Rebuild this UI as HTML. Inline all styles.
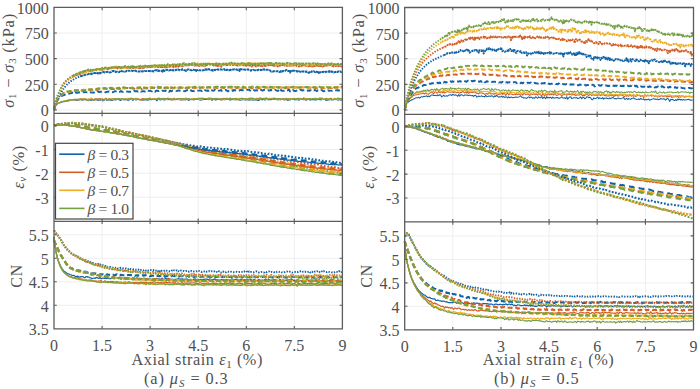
<!DOCTYPE html><html><head><meta charset="utf-8"><style>html,body{margin:0;padding:0;background:#fff}svg{display:block}</style></head><body><svg width="700" height="389" viewBox="0 0 700 389">
<rect width="700" height="389" fill="#fff"/>
<line x1="102.1" y1="7.4" x2="102.1" y2="113.4" stroke="#eeeeee" stroke-width="1"/>
<line x1="150.1" y1="7.4" x2="150.1" y2="113.4" stroke="#eeeeee" stroke-width="1"/>
<line x1="198.2" y1="7.4" x2="198.2" y2="113.4" stroke="#eeeeee" stroke-width="1"/>
<line x1="246.3" y1="7.4" x2="246.3" y2="113.4" stroke="#eeeeee" stroke-width="1"/>
<line x1="294.3" y1="7.4" x2="294.3" y2="113.4" stroke="#eeeeee" stroke-width="1"/>
<line x1="54.0" y1="109.9" x2="342.4" y2="109.9" stroke="#eeeeee" stroke-width="1"/>
<line x1="54.0" y1="84.3" x2="342.4" y2="84.3" stroke="#eeeeee" stroke-width="1"/>
<line x1="54.0" y1="58.6" x2="342.4" y2="58.6" stroke="#eeeeee" stroke-width="1"/>
<line x1="54.0" y1="33.0" x2="342.4" y2="33.0" stroke="#eeeeee" stroke-width="1"/>
<line x1="102.1" y1="113.4" x2="102.1" y2="221.3" stroke="#eeeeee" stroke-width="1"/>
<line x1="150.1" y1="113.4" x2="150.1" y2="221.3" stroke="#eeeeee" stroke-width="1"/>
<line x1="198.2" y1="113.4" x2="198.2" y2="221.3" stroke="#eeeeee" stroke-width="1"/>
<line x1="246.3" y1="113.4" x2="246.3" y2="221.3" stroke="#eeeeee" stroke-width="1"/>
<line x1="294.3" y1="113.4" x2="294.3" y2="221.3" stroke="#eeeeee" stroke-width="1"/>
<line x1="54.0" y1="125.4" x2="342.4" y2="125.4" stroke="#eeeeee" stroke-width="1"/>
<line x1="54.0" y1="149.4" x2="342.4" y2="149.4" stroke="#eeeeee" stroke-width="1"/>
<line x1="54.0" y1="173.3" x2="342.4" y2="173.3" stroke="#eeeeee" stroke-width="1"/>
<line x1="54.0" y1="197.3" x2="342.4" y2="197.3" stroke="#eeeeee" stroke-width="1"/>
<line x1="102.1" y1="221.3" x2="102.1" y2="328.8" stroke="#eeeeee" stroke-width="1"/>
<line x1="150.1" y1="221.3" x2="150.1" y2="328.8" stroke="#eeeeee" stroke-width="1"/>
<line x1="198.2" y1="221.3" x2="198.2" y2="328.8" stroke="#eeeeee" stroke-width="1"/>
<line x1="246.3" y1="221.3" x2="246.3" y2="328.8" stroke="#eeeeee" stroke-width="1"/>
<line x1="294.3" y1="221.3" x2="294.3" y2="328.8" stroke="#eeeeee" stroke-width="1"/>
<line x1="54.0" y1="305.3" x2="342.4" y2="305.3" stroke="#eeeeee" stroke-width="1"/>
<line x1="54.0" y1="281.8" x2="342.4" y2="281.8" stroke="#eeeeee" stroke-width="1"/>
<line x1="54.0" y1="258.3" x2="342.4" y2="258.3" stroke="#eeeeee" stroke-width="1"/>
<line x1="54.0" y1="234.8" x2="342.4" y2="234.8" stroke="#eeeeee" stroke-width="1"/>
<line x1="452.8" y1="7.5" x2="452.8" y2="114.3" stroke="#eeeeee" stroke-width="1"/>
<line x1="501.0" y1="7.5" x2="501.0" y2="114.3" stroke="#eeeeee" stroke-width="1"/>
<line x1="549.1" y1="7.5" x2="549.1" y2="114.3" stroke="#eeeeee" stroke-width="1"/>
<line x1="597.2" y1="7.5" x2="597.2" y2="114.3" stroke="#eeeeee" stroke-width="1"/>
<line x1="645.4" y1="7.5" x2="645.4" y2="114.3" stroke="#eeeeee" stroke-width="1"/>
<line x1="404.7" y1="110.0" x2="693.5" y2="110.0" stroke="#eeeeee" stroke-width="1"/>
<line x1="404.7" y1="84.4" x2="693.5" y2="84.4" stroke="#eeeeee" stroke-width="1"/>
<line x1="404.7" y1="58.7" x2="693.5" y2="58.7" stroke="#eeeeee" stroke-width="1"/>
<line x1="404.7" y1="33.1" x2="693.5" y2="33.1" stroke="#eeeeee" stroke-width="1"/>
<line x1="452.8" y1="114.3" x2="452.8" y2="221.9" stroke="#eeeeee" stroke-width="1"/>
<line x1="501.0" y1="114.3" x2="501.0" y2="221.9" stroke="#eeeeee" stroke-width="1"/>
<line x1="549.1" y1="114.3" x2="549.1" y2="221.9" stroke="#eeeeee" stroke-width="1"/>
<line x1="597.2" y1="114.3" x2="597.2" y2="221.9" stroke="#eeeeee" stroke-width="1"/>
<line x1="645.4" y1="114.3" x2="645.4" y2="221.9" stroke="#eeeeee" stroke-width="1"/>
<line x1="404.7" y1="126.3" x2="693.5" y2="126.3" stroke="#eeeeee" stroke-width="1"/>
<line x1="404.7" y1="150.2" x2="693.5" y2="150.2" stroke="#eeeeee" stroke-width="1"/>
<line x1="404.7" y1="174.1" x2="693.5" y2="174.1" stroke="#eeeeee" stroke-width="1"/>
<line x1="404.7" y1="198.0" x2="693.5" y2="198.0" stroke="#eeeeee" stroke-width="1"/>
<line x1="452.8" y1="221.9" x2="452.8" y2="329.8" stroke="#eeeeee" stroke-width="1"/>
<line x1="501.0" y1="221.9" x2="501.0" y2="329.8" stroke="#eeeeee" stroke-width="1"/>
<line x1="549.1" y1="221.9" x2="549.1" y2="329.8" stroke="#eeeeee" stroke-width="1"/>
<line x1="597.2" y1="221.9" x2="597.2" y2="329.8" stroke="#eeeeee" stroke-width="1"/>
<line x1="645.4" y1="221.9" x2="645.4" y2="329.8" stroke="#eeeeee" stroke-width="1"/>
<line x1="404.7" y1="306.3" x2="693.5" y2="306.3" stroke="#eeeeee" stroke-width="1"/>
<line x1="404.7" y1="282.9" x2="693.5" y2="282.9" stroke="#eeeeee" stroke-width="1"/>
<line x1="404.7" y1="259.4" x2="693.5" y2="259.4" stroke="#eeeeee" stroke-width="1"/>
<line x1="404.7" y1="235.9" x2="693.5" y2="235.9" stroke="#eeeeee" stroke-width="1"/>
<g fill="none" stroke-linejoin="round">
<path d="M54.0 109.9l1-3.5 1-1.4 1-.8 1-.6 1-.5 1-.3 1-.2 1-.6 1-.3 1 0 1-.2 1-.3 1-.4 1 .1 1 0 1-.7 1 .2 1-.6 1 .1 1-.3 1 .6 1-.5 1 .7 1-.1 1-.2 1-1.2 1 1 1 .2 1 .1 1-.8 1 .5 1-.3 1 .1 1 .9 1-1 1 .4 1 .5 1-.8 1 .2 1 .1 1 0 1-.7 1 .7 1 .6 1-1.4 1 1.1 1-.3 1-.4 1 1.3 1-.6 1-1 1 .6 1 .3 1-.4 1 .4 1-.4 1 .4 1 .4 1-1.1 1 .4 1-.3 1 .3 1-.7 1 .3 1 .2 1 .5 1 .2 1-1.3 1 .3 1 .7 1-1.3 1 .7 1 .2 1 .7 1-.3 1-.5 1 0 1 0 1 .9 1-1 1 .1 1 .3 1-.2 1-.1 1-.4 1 .5 1-.2 1 .8 1-.3 1-.3 1 .3 1-.5 1 .7 1-.5 1 .3 1-1 1 .9 1-1.1 1-.1 1 .8 1-.3 1 .6 1 1 1-1.5 1 .1 1 .4 1 .1 1-.3 1 0 1 .4 1-.1 1-.8 1 .5 1 .1 1-.6 1 .7 1-.6 1 .9 1-.4 1 0 1-.4 1 .3 1-1 1 .5 1 .7 1-1.2 1 1.5 1-1.3 1 1.2 1-.8 1 .8 1-.3 1-.8 1 1.4 1 .1 1-.8 1-.1 1 .1 1-.4 1 1 1-.8 1 .2 1-.4 1 .1 1-.3 1 1.3 1-.7 1 .5 1-.5 1-.3 1 .2 1-.1 1 .2 1-.1 1 0 1-.5 1 .2 1 1.3 1-1.2 1-.2 1 .7 1 .5 1-1.4 1 .6 1-.2 1-.5 1 1.2 1-.4 1 .1 1-.4 1 .6 1-.5 1 .2 1-.5 1-.1 1 1.3 1-.9 1 .4 1-.2 1-.2 1 0 1 .6 1-.5 1 .1 1 .1 1 .5 1-.2 1-.2 1-.4 1-.4 1 1.1 1 0 1-.5 1 .3 1 .1 1 .1 1 0 1-.7 1 1 1-1.4 1 1.1 1-.2 1 .2 1 .5 1-.2 1-1.3 1-.3 1 1.2 1-.9 1 .5 1 .5 1-1.3 1-.2 1 1.2 1-.1 1-.2 1 .2 1-.5 1-.3 1 .7 1-.4 1-.4 1 1.1 1-.3 1 .2 1-.7 1 .2 1-.2 1 .1 1 .5 1-.5 1 .6 1 0 1 .9 1-1.8 1 1.2 1-.5 1 0 1-.7 1 .5 1 .6 1-.4 1 .1 1-.2 1 .7 1-.6 1-1.1 1 .8 1-.6 1-.7 1 1.4 1 .9 1-.6 1-.6 1 .1 1 1 1-.5 1 0 1-.1 1 .1 1 .3 1-.1 1-.2 1-.6 1 .8 1-.6 1 .9 1-1.2 1 .6 1 0 1-.6 1 1.5 1-.1 1-1 1 .6 1-.2 1-1.5 1 1.5 1-.2 1 .1 1-.6 1 .4 1 .1 1 .6 1-.4 1-.2 1 .8 1-1" stroke="#1063a6" stroke-width="1.05"/>
<path d="M54.0 109.9l1-3.8 1-1.2 1-.9 1-.6 1-.5 1-.5 1-.4 1-.4 1-.3 1-.2 1 .1 1-.4 1-.4 1-.3 1-.2 1 .5 1-.4 1-.2 1-.2 1-.4 1 .4 1 .4 1-.6 1 0 1 0 1 .1 1-.8 1 .6 1-.3 1 .8 1-.8 1 .7 1 .4 1-.9 1-.2 1 .4 1-.1 1-.5 1 .7 1 .8 1-1.2 1 0 1-.4 1 .7 1-.8 1 0 1 1.2 1-1.1 1 1 1 .2 1-.6 1 .1 1 .7 1-1.1 1-.2 1-.3 1 .6 1 .8 1-.3 1-1 1 .1 1 .2 1 .4 1-.3 1 .2 1 .1 1-.4 1 .2 1 .1 1-.1 1 .2 1 .7 1-.6 1-.3 1-.9 1 1.1 1-1.2 1 .3 1 1.1 1-.1 1-.4 1-.8 1 .7 1-.2 1 .7 1 .8 1-1 1-.5 1-.2 1 .5 1 0 1-.5 1 .6 1-.6 1 1.1 1 0 1 0 1-.8 1 .5 1-.3 1-.2 1 .1 1-.5 1-.1 1 1.1 1-.5 1 .2 1 .4 1-1.3 1 .4 1 .5 1 .1 1-.4 1 .7 1-.4 1-.7 1 .2 1 .8 1-.1 1-1.2 1 1.6 1-.4 1 .4 1-.9 1 .1 1-.4 1 1.8 1-1.4 1 .9 1-1.1 1 .4 1-.9 1 .6 1 .7 1-1.1 1 1.2 1-.4 1-.7 1 .3 1 0 1 .2 1-.2 1-.2 1 .3 1-.4 1-.1 1 .6 1 .5 1-1.2 1 .7 1-.3 1-.2 1 1 1-.7 1 1 1-1.2 1 .6 1-.3 1-.3 1 .7 1-.4 1 .4 1-.3 1-.5 1 .5 1 .1 1 .4 1-.9 1 .4 1-.8 1 1.2 1-.9 1-.4 1 .9 1 .6 1-1.3 1 .2 1 .2 1-.2 1 .7 1-.6 1 .1 1 .6 1-.6 1 .5 1-.7 1-.1 1-.3 1 1.9 1-1.1 1 .3 1-.2 1 .1 1 0 1 .9 1-1.5 1-.2 1 .2 1-.1 1 1 1 0 1-.8 1-.3 1 .6 1 .8 1-2.1 1 1.7 1-.8 1 1.1 1-1.1 1 .4 1-.6 1 .3 1 1.1 1-.2 1-.7 1-.2 1-.5 1 .7 1 .2 1 0 1 0 1-.5 1 .5 1 0 1 .7 1 .3 1-1 1-.3 1 .3 1-.3 1 0 1 .3 1-.5 1 .9 1-.4 1 .2 1-.2 1-.3 1-.1 1 .3 1-.1 1 .4 1-.1 1-.7 1 .7 1-.7 1 .4 1 .1 1-.9 1 1.1 1 0 1-.1 1-.1 1 0 1-.3 1 .3 1-.1 1 .3 1-.6 1 .7 1 0 1-.2 1-.1 1 .5 1-1.1 1 1 1-.1 1 0 1 .1 1-.5 1 .2 1 .4 1-.1 1-.1 1-.9 1 1.1 1 .3 1-.1 1-.4 1-.9 1 1.3 1-.6 1-1.1 1 1.4 1-.9 1 .1 1 .3" stroke="#d35e28" stroke-width="1.05"/>
<path d="M54.0 109.9l1-3.8 1-1.3 1-.7 1-.6 1-.7 1-.5 1-.5 1-.3 1-.1 1-.2 1-.3 1 0 1-.7 1 0 1 .1 1-.2 1 .1 1-.3 1-.3 1 .2 1-.6 1-.3 1 .9 1-.3 1 .2 1-1.1 1 .7 1-.2 1-.1 1-.7 1 .9 1 .6 1-.3 1-.5 1 .3 1 .4 1-1.8 1 1.3 1 .3 1 .1 1 .5 1-.3 1-.4 1 0 1 .2 1-.7 1 .3 1 .4 1 .5 1-1 1 0 1 .1 1 .6 1-.7 1 .8 1-1.3 1 .4 1 0 1 .5 1 .1 1-1.2 1 .3 1 .6 1-.5 1-.5 1 1.3 1-.3 1 0 1-.4 1 .7 1-.6 1 .6 1-1 1 .1 1 .5 1-.5 1 .7 1-.2 1-.6 1 .5 1-.2 1 .6 1-.8 1 .1 1 .9 1 .5 1-.1 1-1 1 .1 1 .6 1-.8 1-.4 1 .5 1 .2 1-.7 1-.4 1 .1 1 1.1 1-.7 1 .3 1 .1 1 .2 1-.4 1 .4 1-.7 1 .3 1-.4 1 1.1 1-.6 1-.3 1 .2 1 0 1 .5 1-1.2 1 .3 1 .3 1 1.5 1-.8 1-.5 1 .4 1 .7 1-1.2 1-.1 1 .8 1-.3 1 .1 1-.6 1 1.2 1-.1 1-.6 1 .1 1-1.4 1 1.3 1-.4 1 .3 1 .2 1-.5 1-.7 1 1 1-.5 1 .2 1-.2 1 .2 1-1 1 1.7 1-.4 1 .4 1 .4 1-1 1-.9 1 .5 1-.2 1 .4 1 .3 1-1.1 1 1.2 1-.9 1 .9 1-.2 1-.1 1 .1 1-.2 1-.1 1-.5 1 .8 1 .9 1 .1 1-.3 1-.3 1-.7 1 1 1-.7 1 0 1-.1 1 .2 1-.3 1 .2 1-.5 1 .3 1 1.4 1-1.2 1-.1 1 .4 1 .1 1-.9 1 .4 1 .6 1-.3 1-.1 1 .7 1-1.1 1 .4 1-.3 1 1 1-1.8 1 .7 1 .1 1 .6 1-.1 1 .4 1-1.5 1 1.2 1-.5 1-.2 1 .6 1-.7 1-.6 1 .8 1-.5 1 .4 1 .5 1 0 1 .6 1-.9 1-.6 1 .3 1 0 1-.2 1 .8 1-.5 1-.7 1 1.4 1-.4 1 .2 1-.1 1 .2 1-.3 1 .6 1-.4 1 0 1 0 1-.9 1 .6 1 0 1 .2 1-.8 1 1.5 1-.7 1-.7 1-.2 1 .7 1 .1 1-.3 1 .4 1-.4 1 .6 1-.6 1 .3 1 .5 1 .8 1-1.8 1 .3 1-.2 1 .8 1-.9 1 .3 1 .2 1-.5 1 0 1 .3 1-.8 1 .3 1 .5 1 .3 1-.2 1-.8 1 .7 1 .6 1-.1 1-.3 1-.4 1 .7 1-.6 1-.3 1 .2 1 1.1 1-.6 1 .5 1-.8 1 .7 1-.8 1 .2 1 1.4 1-.9 1-.6 1 .2 1 .2 1 .4" stroke="#edae26" stroke-width="1.05"/>
<path d="M54.0 109.9l1-3.8 1-1.3 1-.8 1-.6 1-.5 1-.5 1-.3 1-.7 1 .1 1 0 1-.5 1-.3 1-.3 1 .3 1-.9 1 .1 1 .1 1 0 1-.5 1 .3 1-.3 1 .1 1-.1 1-.5 1 .5 1 .4 1-.9 1 .3 1 .4 1-.8 1 .6 1-.7 1 1.1 1 .6 1-.2 1-1.1 1 .5 1-.4 1 0 1 .7 1-1.4 1 1.2 1-.6 1 .7 1-.6 1-.4 1 .4 1 .2 1-.3 1 .2 1-.5 1-.8 1 1.5 1-.1 1-.3 1 0 1 .4 1-.7 1-.1 1 .2 1 .7 1-1.3 1 1.3 1-.9 1-.3 1 1.2 1-.7 1-.6 1 .5 1 .6 1 .2 1-.9 1 .5 1 .1 1-.7 1 .5 1-.2 1-.2 1 0 1 .3 1-.1 1-.3 1 .1 1 .8 1-.5 1 .3 1 .2 1-.3 1 .8 1-1.5 1 .8 1-.6 1 1.1 1-.1 1-1.8 1 .5 1 .8 1 .1 1-.1 1-.4 1 .3 1 .1 1-.4 1 .6 1-1.7 1 1.5 1-.9 1 1 1-.6 1-.3 1 .6 1-.6 1 0 1-.4 1 .8 1 .3 1 .2 1-.5 1 .6 1-.6 1 0 1 .3 1 .3 1-.7 1 0 1 0 1 .2 1-.5 1 .9 1-.7 1 .5 1-.7 1 .6 1 0 1-.4 1 1.2 1-.8 1 .7 1-.4 1-.8 1 .1 1 .4 1-.1 1-.1 1-.1 1-.8 1 .8 1-1 1 1.3 1-.5 1 0 1 .2 1 .3 1-.9 1-.2 1 .4 1-.5 1 .5 1 1.3 1-1.3 1 .8 1-1 1 .9 1-.3 1 .1 1 .3 1 .6 1-.8 1 0 1-.6 1 .8 1-.4 1 .5 1-.4 1 .9 1-1.9 1 .9 1 .6 1-.7 1-.2 1 .3 1-.6 1 .8 1 1.1 1-.6 1-1.1 1 .1 1 .2 1 .7 1-.9 1 .1 1 .8 1 0 1-.7 1-.3 1-.3 1 .5 1-.8 1 1.5 1-.7 1 .6 1 .7 1-.4 1-1.2 1 1.1 1 .1 1-1 1-.1 1 .5 1-.8 1 1.6 1-2 1 .7 1 .4 1 0 1 .2 1 .1 1-.3 1 .7 1-1.6 1 1 1-.3 1 .4 1 0 1-.5 1 .1 1 .7 1-.2 1-.5 1 1.3 1 .2 1-1.9 1 .9 1 1.1 1-.9 1-.3 1-.2 1-.1 1 .1 1-.2 1 .7 1-.6 1 0 1-.4 1 .6 1-.4 1 .3 1 .6 1-.3 1 .1 1-.1 1-.1 1-.1 1-.1 1 .5 1-.9 1 1.2 1-.7 1-.4 1 .2 1-.1 1 .4 1-.4 1 .9 1-1 1-.7 1 .8 1-.7 1 1 1 .6 1-.3 1-.9 1 .2 1 1.3 1-.7 1-.2 1 .6 1 .6 1-.5 1-.6 1 .1 1 .1 1-.6 1-.2 1 .5 1-.5 1 .5 1 .1" stroke="#74a043" stroke-width="1.05"/>
<path d="M54.0 109.9l1-3.5 1-2.9 1-2.4 1-1.6 1-1.2 1-1 1-.7 1-.8 1-.5 1-.3 1-.4 1-.5 1-.1 1-.2 1-.1 1-.4 1-.1 1-.6 1 .1 1 .7 1-1.2 1 .5 1 .1 1-.3 1-.2 1 .2 1 0 1-.1 1-.6 1 .5 1-.2 1 0 1 .3 1 .1 1 .1 1-.6 1 .5 1 .1 1-.1 1 .1 1-.6 1 0 1 .3 1-.8 1 .6 1-.3 1 0 1-.5 1 .3 1 .3 1 .3 1 0 1-.4 1 0 1-.3 1 .4 1-.2 1 .3 1 .3 1-.6 1-.5 1 .2 1-.3 1 .1 1 .9 1-.4 1-.7 1 .8 1 .1 1-.5 1-.2 1 .1 1 .2 1 .1 1 .2 1 0 1 0 1 0 1-.3 1-.8 1 .5 1 .1 1-.2 1 .4 1-.4 1-.3 1 .9 1-.3 1-.2 1 .2 1 .1 1-.3 1-1 1 .6 1 .1 1-.2 1 .4 1 .3 1-.6 1-.2 1 1.1 1-.9 1-.3 1 .5 1 .1 1-.4 1 .5 1-.5 1-.1 1 .3 1 .2 1-.5 1 .4 1-.2 1 1 1-1.2 1 .7 1-.5 1 0 1 .2 1 .1 1 .1 1-.3 1-.4 1 .1 1 .3 1 0 1 .3 1-.3 1 .2 1 .1 1-.5 1-.5 1 .1 1-.1 1 1 1-.9 1 .8 1-.3 1 .4 1-.2 1-.4 1-.1 1 .1 1 0 1-.2 1 .2 1 .5 1-1.1 1 .6 1-.4 1 .4 1 .2 1-.3 1 .3 1-.8 1 .9 1-.6 1 .4 1-.1 1-1 1 .6 1 .4 1 .4 1-.4 1 0 1-.6 1 1 1 .1 1-.6 1-.1 1-.5 1 .8 1 .7 1-.7 1 .2 1-.3 1-.5 1 .8 1-.9 1 .3 1 .2 1 .2 1-.1 1-.1 1-.4 1-.1 1 .4 1-.2 1-.2 1 0 1 .2 1-.4 1 .1 1-.1 1 .7 1 .1 1 .5 1-1.2 1 .3 1 .5 1-.4 1 0 1 .7 1-.7 1-.3 1-.1 1 .6 1 0 1-.6 1 .2 1 .5 1 0 1-.4 1 .4 1 0 1-.8 1 .5 1 .3 1-.4 1-.5 1 .6 1 .4 1 .3 1-1.4 1 1.7 1-1.3 1 .8 1 .1 1-.1 1-.3 1-.5 1 .6 1-.4 1-.7 1 1.9 1-.7 1 .4 1-1 1 .8 1 .1 1 0 1-.6 1-.4 1 .4 1-.7 1 .2 1 .6 1-.4 1 .3 1 0 1 .7 1-.2 1-.5 1 .5 1-.7 1 .2 1 .4 1-.8 1 .4 1-.4 1 .5 1 .6 1-.9 1 .4 1-.4 1-.1 1 0 1 .9 1 .3 1-.6 1-.4 1 .5 1-.4 1 .4 1-.2 1 0 1 .2 1-.4 1 0 1-.4 1 .4 1-.3 1 .4 1-.2 1 .3 1 .2 1-.7" stroke="#1063a6" stroke-width="1.9" stroke-dasharray="5 2.8"/>
<path d="M54.0 109.9l1-3.6 1-3.1 1-2.5 1-1.9 1-1.3 1-.9 1-1.1 1-.6 1-1 1-1 1 .3 1-.5 1-.8 1 0 1-.3 1-.2 1-.5 1 0 1 .2 1-.2 1 .2 1-.4 1 .6 1-1 1 .2 1-.8 1 .2 1 .8 1-.8 1 .4 1-.2 1-.4 1 .2 1-.1 1-.1 1 .4 1-.1 1-.5 1-.2 1 .3 1-.2 1 .4 1 .5 1-.7 1-.4 1-.1 1-.3 1-.1 1-.1 1 .2 1-.1 1 .3 1-.4 1 0 1-.4 1 1 1-.4 1 .4 1-.4 1 .2 1-.6 1 .3 1 .7 1-1.4 1 .8 1 .2 1-.5 1 .1 1 .2 1-.7 1 .4 1-.5 1 0 1 0 1 .2 1 .1 1 .1 1-.7 1 1.2 1-.3 1-.2 1-.4 1 .1 1 .2 1 0 1-.8 1 .9 1 .8 1-1.8 1 1.1 1-.3 1-.2 1 .6 1-1 1 .5 1 .5 1-.6 1-.1 1 .2 1-.2 1 .7 1-.9 1 .6 1-.8 1 .7 1-.3 1-.9 1 1 1-.4 1 .2 1 .7 1-1 1 .1 1 .8 1-.4 1 .5 1-.5 1-.4 1 .3 1 .4 1-.1 1-.3 1 0 1-.1 1-.1 1 .8 1-.6 1-.5 1 .3 1 .4 1 0 1-.3 1-.2 1 .2 1-.6 1 .1 1 .8 1-.5 1 .3 1 .3 1-.2 1-.2 1 .7 1-.5 1-.4 1 .4 1-.1 1-.5 1 .4 1-.1 1-.7 1 .7 1-.1 1 0 1-.5 1 .5 1 .1 1 0 1-.4 1 .6 1-.6 1 .3 1 .6 1-.8 1 .1 1 .6 1-.6 1 .1 1 .1 1 .3 1-1.1 1 .5 1-.1 1 0 1 0 1 .1 1 .4 1-.5 1 .4 1 .1 1-.4 1 .3 1 .5 1-.4 1-.4 1 .2 1-.3 1 .4 1 .2 1-.6 1 .3 1 .4 1-.5 1 .2 1-.4 1 0 1 .2 1 .9 1-.9 1 0 1-.1 1 .2 1 .3 1-.2 1 .7 1-.7 1 .5 1-.5 1 .2 1-.8 1 .5 1 0 1 0 1-.7 1 1.1 1-.5 1 0 1 .1 1 0 1 .2 1-.6 1 .1 1 .5 1-.1 1-.2 1 0 1-.1 1 .3 1 .4 1-.8 1 .9 1-.2 1-.5 1 .5 1-.8 1-.1 1 .1 1 .4 1 0 1-.1 1 .2 1-.7 1 .9 1-.7 1 .3 1 .1 1-.3 1 0 1 .1 1 .3 1 .3 1-.1 1-.5 1 .1 1-.1 1 .5 1-.8 1 1.1 1-.6 1-.1 1 .4 1 .3 1-.3 1 .3 1-.3 1 .3 1 .1 1-.5 1 .5 1-.4 1 0 1-.4 1 .2 1 .4 1-.7 1 .7 1-.1 1 0 1-.9 1 .8 1 .2 1-.5 1 .3 1-.8 1 1.1 1-.5 1 .5 1-.9" stroke="#d35e28" stroke-width="1.9" stroke-dasharray="5 2.8"/>
<path d="M54.0 109.9l1-3.6 1-3.1 1-2.6 1-1.8 1-1.1 1-1.2 1-1 1-.9 1-.9 1-.5 1-.4 1-.7 1-.5 1 .3 1-.3 1-.2 1-.1 1-.7 1 .1 1-.5 1-.1 1 .7 1-.6 1 .9 1-.8 1-.4 1 .5 1 .3 1-.5 1-.7 1 .5 1 .3 1-.7 1-.1 1 .5 1-.4 1-.5 1 .2 1-.2 1 .3 1-.1 1 .3 1-.3 1-.8 1 .6 1 .1 1-.2 1 .1 1-.6 1-.2 1 .6 1-.8 1-.4 1 1.1 1-.7 1 .1 1-.4 1 0 1 0 1 .3 1 .2 1-.9 1 1 1-.7 1 0 1 .6 1-.3 1-.5 1 1.2 1-1 1 .4 1 0 1 .4 1-.7 1 .5 1-.6 1 .6 1-.7 1 .2 1 .7 1-.5 1-.1 1 .7 1-.6 1-.5 1 .6 1-.7 1 .8 1 0 1-.6 1 0 1 .2 1 0 1-.4 1 .5 1-.9 1 .6 1 0 1 0 1 .2 1-.5 1 .6 1-.3 1-.1 1-.3 1 .1 1 .5 1-.5 1 .4 1 .3 1 0 1 .2 1-.7 1-.3 1 .8 1-.3 1 .3 1-.4 1 .4 1-.1 1-.1 1-.1 1 0 1-.1 1 0 1 .3 1-.5 1 .7 1-.6 1 .4 1-.4 1-.1 1 .8 1-.8 1-.4 1 .2 1 .2 1 .8 1-.7 1 .3 1-.7 1 .5 1 .1 1 .4 1-.9 1 .5 1-.2 1-.4 1 .3 1-.1 1-.7 1 1 1 0 1-.3 1-.4 1 1 1-.4 1 .3 1 .1 1-.7 1 .5 1-.4 1 .1 1-.1 1 .1 1 .4 1-.4 1-.1 1 0 1 .2 1-.5 1 .2 1 .1 1-.1 1 .1 1-.2 1 .9 1-.2 1-.3 1-.2 1 .8 1-.7 1-.1 1 .1 1 0 1 .4 1-.5 1 .8 1-1.1 1 .6 1-.6 1 1 1-.8 1 .1 1 .4 1 .1 1-.9 1 .3 1-.4 1 .6 1-.1 1-.1 1-.1 1 .1 1-.1 1 .4 1 .4 1-1.2 1 .6 1-.1 1 .3 1-.5 1 .3 1-.3 1 .6 1-.2 1-.1 1 .2 1-.2 1-.5 1 .8 1-.2 1-.1 1 .4 1 .1 1-.8 1 .1 1 .8 1-.1 1-.7 1-.2 1 .2 1 .1 1-.4 1 .6 1-.5 1 0 1 .8 1-.6 1 .2 1 .3 1 .1 1-.4 1 .1 1-.3 1 .9 1-.4 1-.6 1 .4 1 .2 1 0 1 .4 1-.1 1-.7 1 .2 1-.4 1 .5 1 0 1 .9 1-.9 1-.8 1 .5 1 .3 1-.5 1 .1 1 .2 1 .3 1-.2 1-.3 1 .6 1-.4 1 0 1-.3 1 .2 1 .5 1-.8 1 .6 1 .2 1-.3 1 .2 1-.5 1 .9 1-.1 1-.3 1-.7 1 .3 1 .7 1 .2" stroke="#edae26" stroke-width="1.9" stroke-dasharray="5 2.8"/>
<path d="M54.0 109.9l1-3.6 1-3.2 1-2.5 1-1.8 1-1.2 1-1.2 1-.7 1-.9 1-1.1 1-.8 1-.3 1-.5 1-.6 1 .3 1-.4 1-.3 1 .4 1-.6 1-.4 1 .2 1-.5 1 0 1 .3 1-.4 1 0 1 .7 1-.4 1-.1 1-.1 1-.1 1 .3 1-.6 1 .6 1-1 1 .2 1-.5 1 .3 1 .2 1 .3 1-.9 1 .2 1-.2 1-.2 1-.3 1 .4 1-.8 1 .6 1-.1 1-.3 1-.2 1-.2 1 1.1 1-1.2 1 .9 1-.3 1-.4 1-.3 1 .7 1 .2 1-.9 1 .2 1 .4 1-.2 1 .5 1-.9 1 .4 1-.6 1 1.1 1-1 1-.5 1 .7 1 0 1 .7 1-.8 1 .1 1 .2 1 .3 1-.6 1 .4 1-.2 1-.3 1 .2 1-.1 1-.3 1 .7 1-.9 1 .9 1-.1 1-.3 1-.3 1 .2 1 .2 1 .1 1-.1 1 .2 1-.6 1 .3 1-.6 1 .8 1-.2 1-.2 1 .5 1-.2 1-1.2 1 1 1-.5 1 .8 1 .5 1-1 1 .2 1-.1 1 .2 1 .1 1 .2 1-.8 1 .9 1-.9 1 .4 1 .3 1-.2 1-.5 1 0 1 .1 1 .1 1 .5 1-.9 1 .6 1 .1 1-.1 1 0 1 .4 1-.4 1 .1 1-.1 1 .4 1-1.3 1 1.1 1-.5 1 0 1-.3 1-.3 1 .5 1-.1 1 .4 1-.7 1 1 1-.4 1-.1 1-.2 1 0 1-.2 1 .2 1 .2 1-.1 1-.4 1 .4 1-.2 1 .4 1 .5 1-.4 1-.3 1-.5 1 .1 1-.1 1 .8 1-.5 1 .3 1-.3 1 .3 1 .4 1-.7 1 .1 1-.1 1 .6 1-.7 1-.1 1 0 1-.1 1 .7 1 .7 1-1.2 1 .7 1-.3 1-.5 1 .3 1 0 1-.1 1 .9 1-1.3 1 .8 1-.1 1-.3 1 .3 1 .2 1-.2 1 .1 1 .1 1-1 1 1.2 1 .3 1-.4 1 0 1-.9 1 .5 1-.3 1 .1 1 .6 1-.7 1 .3 1-.6 1 .6 1 .1 1-.3 1 0 1 .9 1-1.1 1 .1 1 .1 1 .7 1 .3 1-.6 1-.4 1 .1 1 .5 1-.7 1 .9 1-.1 1-.4 1 .2 1 0 1 .3 1-.9 1 .8 1-.6 1-.1 1 .3 1-.1 1-.3 1-.2 1 .2 1 .9 1 .2 1-.5 1 .2 1-.6 1 .2 1 .1 1-.5 1 0 1 .4 1-.1 1-.3 1 .5 1-.2 1 .5 1-.4 1-.1 1 .2 1-.1 1-.2 1 .1 1 .4 1 0 1 .2 1-1.1 1 .5 1 0 1 .2 1-.2 1 0 1 .4 1-.2 1-.4 1 .8 1-.1 1-.5 1 .5 1-.6 1 .7 1-.5 1-.2 1 .2 1-.2 1 .4 1 0 1-.1 1-.2 1-1.1" stroke="#74a043" stroke-width="1.9" stroke-dasharray="5 2.8"/>
<path d="M54.0 109.9l1-4.2 1-3.5 1-2.3 1-1.7 1-1.6 1-1.7 1-1.9 1-1.8 1-1.6 1-1.5 1-1.2 1-1.2 1-1.1 1-1 1-.9 1-.8 1-.8 1-.7 1-.6 1-.6 1-.6 1-.5 1-.5 1-.4 1-.4 1-.4" stroke="#1063a6" stroke-width="1.9" stroke-dasharray="1.4 1.4"/>
<path d="M80.0 76.4l.7-.2 .7-.2 .7-.2 .7-.2 .7 0 .7-.4 .7-.4 .7 .1 .7-.1 .7-.3 .7-.1 .7-.2 .7-.3 .7 .1 .7-.3 .7 .5 .7-.7 .7 .3 .7-.5 .7-.2 .7-.2 .7 .3 .7-.3 .7-.3 .7 .9 .7-.3 .7 .3 .7-.7 .7 .6 .7-.8 .7-.3 .7-.1 .7-.1 .7-.3 .7 .7 .7-.2 .7-.2 .7-.1 .7 0 .7-.3 .7 .3 .7 .5 .7-.1 .7 0 .7-.8 .7-.5 .7 .2 .7-.6 .7 .5 .7 .1 .7 .7 .7-.2 .7-.1 .7 .3 .7 .1 .7 .1 .7-.8 .7-.3 .7-.4 .7 .7 .7 0 .7 .1 .7-.3 .7 .4 .7-.1 .7-.2 .7-.6 .7 .2 .7-.3 .7 .3 .7 0 .7-.3 .7-.1 .7 .1 .7 .5 .7-.3 .7 .3 .7-.2 .7-.4 .7 .6 .7 .1 .7 .1 .7 .2 .7-.2 .7 .3 .7-.3 .7 .3 .7-.3 .7 .2 .7-.4 .7 .2 .7-.3 .7 .1 .7 0 .7-.1 .7-.2 .7 .1 .7 .1 .7 0 .7-.1 .7 .3 .7-.1 .7 .2 .7-.3 .7 .5 .7-.1 .7-1 .7-.1 .7-.2 .7 .4 .7-.3 .7 .8 .7-.2 .7 0 .7-.2 .7 .1 .7 0 .7 1.1 .7-1.8 .7 .5 .7 .6 .7-.2 .7-.9 .7-.3 .7 .2 .7 .1 .7 .5 .7-.1 .7-.4 .7 .2 .7 .8 .7-.9 .7-.1 .7 .5 .7-.2 .7-.1 .7-.6 .7 .4 .7-.4 .7-.4 .7 .5 .7 .5 .7-.3 .7 .2 .7-.2 .7-.8 .7 .7 .7 0 .7 .4 .7-.1 .7 .7 .7 .2 .7-1 .7-.6 .7 0 .7 0 .7 .5 .7 .4 .7 0 .7-.1 .7-.7 .7 .1 .7 .3 .7 .2 .7-.2 .7 1.2 .7-1.1 .7 .1 .7-.3 .7 .6 .7-.3 .7 .3 .7 .1 .7 0 .7-.2 .7 .1 .7-.3 .7-.2 .7-.6 .7 .6 .7-.6 .7 .6 .7-.4 .7-.6 .7 .8 .7-.1 .7 0 .7 .6 .7-.2 .7 .8 .7-.7 .7-.3 .7 .4 .7-.4 .7 .5 .7-.7 .7-.3 .7 .6 .7-.2 .7-.2 .7-.2 .7 .2 .7 .2 .7-.3 .7 0 .7-.4 .7 1 .7-.7 .7 .7 .7-.5 .7 .4 .7 .1 .7 .4 .7-.5 .7-.3 .7 .6 .7-.3 .7-.4 .7 .1 .7-.1 .7-.3 .7 .2 .7 .1 .7-.2 .7 .7 .7-.3 .7-.2 .7 1.5 .7-1.9 .7 .3 .7-.2 .7 .4 .7 .2 .7-.3 .7 0 .7 .3 .7 0 .7 .1 .7-.3 .7-.4 .7 .6 .7 .2 .7 .2 .7 .5 .7-.5 .7-.2 .7 .1 .7-.3 .7 .3 .7 .2 .7 0 .7-.3 .7 0 .7 .4 .7-.6 .7 .4 .7-.1 .7-.3 .7 .4 .7-1 .7 .1 .7 .3 .7-.4 .7 .7 .7-.1 .7 0 .7 .1 .7-.2 .7 .3 .7 .1 .7 .1 .7 .6 .7 .7 .7-.2 .7 .3 .7-.1 .7-.5 .7 .3 .7 .1 .7 0 .7-.2 .7 .1 .7-.2 .7 .2 .7 .7 .7 0 .7-1.1 .7 .7 .7 0 .7-.8 .7 .3 .7 .1 .7-.3 .7-.7 .7-.2 .7 .9 .7 .2 .7-.1 .7 0 .7 1.7 .7-1.8 .7 .3 .7-.6 .7 .2 .7 0 .7 0 .7 .3 .7-.2 .7 0 .7 .8 .7-.7 .7 0 .7 .3 .7 .3 .7 .3 .7-.8 .7 .2 .7 .2 .7-.2 .7 .4 .7-.2 .7-.1 .7 .6 .7-.5 .7 .1 .7 .9 .7 .4 .7-1.1 .7-.4 .7 .6 .7-.7 .7 .3 .7-.4 .7-.1 .7 .6 .7 .5 .7-.9 .7 .3 .7 .7 .7-.4 .7 1.2 .7-.8 .7 .3 .7-.5 .7 .1 .7-.2 .7 .1 .7-.4 .7 .5 .7 .2 .7-.6 .7-.1 .7 .1 .7 0 .7 0 .7-.8 .7 1 .7-.4 .7-.3 .7 .7 .7-.4 .7 .4 .7 .6 .7-.5 .7 0 .7-.5 .7 0 .7 .5 .7-.6 .7 0 .7 .2 .7-.2 .7 .6 .7-.4" stroke="#1063a6" stroke-width="1.9" stroke-dasharray="3 0.6"/>
<path d="M54.0 109.9l1-4.8 1-4.1 1-3.1 1-2.6 1-2.2 1-2.2 1-2 1-1.9 1-1.7 1-1.3 1-1.2 1-1.1 1-.9 1-.9 1-.8 1-.7 1-.6 1-.6" stroke="#d35e28" stroke-width="1.9" stroke-dasharray="1.4 1.4"/>
<path d="M72.0 77.2l.7-.4 .7-.4 .7-.1 .7-.4 .7-.3 .7-.5 .7-.4 .7 0 .7-.4 .7 .1 .7-.1 .7-.4 .7-.4 .7-.7 .7 .4 .7-.5 .7 .1 .7-.5 .7-.3 .7-.5 .7-.4 .7 .4 .7-.4 .7-.3 .7 .3 .7 .1 .7-.5 .7-.3 .7 .5 .7-.2 .7-.7 .7 0 .7 .1 .7 0 .7-.4 .7-.2 .7-.4 .7-.4 .7 .7 .7 .2 .7-.3 .7 .1 .7 .6 .7-.6 .7 .2 .7-.4 .7-.6 .7-.4 .7 .8 .7 .1 .7 .1 .7-.3 .7-.3 .7 .2 .7-.3 .7-.2 .7-.6 .7-.2 .7 .1 .7-.6 .7 .4 .7 .5 .7 .1 .7-.2 .7 .7 .7-.5 .7 .3 .7-.2 .7-.2 .7-.6 .7 1.1 .7-.5 .7-.4 .7 0 .7-.5 .7 .4 .7 .2 .7 .5 .7-.4 .7-.3 .7 .3 .7 .2 .7-.3 .7 .3 .7 .1 .7-.2 .7 .1 .7 .2 .7-.4 .7 .3 .7-.7 .7 0 .7 .5 .7 .3 .7-.4 .7 .5 .7-.3 .7 .4 .7-.9 .7 .1 .7 .6 .7-.8 .7 .4 .7-.6 .7-.3 .7 .4 .7-.1 .7 .2 .7-.7 .7 .4 .7-.4 .7 .6 .7-.2 .7 0 .7-.1 .7-.2 .7 0 .7 .1 .7-.3 .7 .2 .7 0 .7 .1 .7 .4 .7-.3 .7-.2 .7 .5 .7-.2 .7 0 .7 .1 .7-.4 .7 .2 .7-.2 .7 .7 .7 0 .7 .7 .7-1.7 .7-.2 .7 .2 .7 .5 .7-.7 .7 .4 .7-.3 .7-.1 .7-.3 .7 1.3 .7-.3 .7 0 .7-.4 .7 0 .7-.6 .7 .4 .7 .4 .7-.8 .7 .1 .7 .1 .7-.3 .7 .5 .7 .1 .7-.7 .7-.2 .7-.4 .7 .1 .7 .2 .7 .5 .7-.3 .7-.1 .7-.7 .7 .4 .7-.2 .7-.4 .7 .3 .7-.1 .7 .9 .7-.2 .7 0 .7 0 .7 .1 .7-.3 .7 .1 .7-.1 .7 .6 .7 .1 .7-.4 .7-.3 .7 0 .7 .3 .7-.7 .7 .5 .7 .8 .7-1.2 .7 .7 .7-.4 .7-.6 .7 .2 .7 .2 .7-.9 .7 0 .7 .3 .7-.1 .7 .1 .7 .3 .7 .6 .7 .3 .7 .1 .7-.6 .7 .5 .7-.7 .7 1.1 .7-.9 .7 .3 .7 .1 .7 .1 .7 1 .7-1.3 .7-.5 .7-.4 .7 .3 .7-.4 .7 .8 .7 .1 .7-.3 .7 .1 .7-.4 .7 .2 .7-.2 .7 .4 .7-.7 .7 .2 .7 .3 .7 .2 .7-.1 .7-.4 .7 .5 .7 0 .7 .1 .7 .2 .7 .3 .7-.4 .7-.1 .7-.5 .7-.3 .7 .4 .7 .3 .7-.4 .7-.1 .7 1 .7-.1 .7 .1 .7 .1 .7-.5 .7-.2 .7 0 .7 .5 .7 0 .7-.2 .7 .4 .7 .8 .7-.9 .7-.3 .7 .6 .7-.6 .7 .5 .7 .7 .7-.6 .7-.1 .7-.2 .7 0 .7 .2 .7 .2 .7-.1 .7-.1 .7 .4 .7-.4 .7-.1 .7-.1 .7 .3 .7 .1 .7-.2 .7-.7 .7-.5 .7 .7 .7-.4 .7 .3 .7-.2 .7 .2 .7 0 .7-.6 .7 1.3 .7-.1 .7-.1 .7-.4 .7 .1 .7 0 .7 1 .7-.7 .7 .2 .7-.3 .7-.1 .7-.5 .7 .1 .7 .1 .7-.2 .7 .2 .7 .4 .7-.2 .7 .3 .7 .3 .7-.6 .7 0 .7 .4 .7-.6 .7 .5 .7-.5 .7 .3 .7 .1 .7-.1 .7 0 .7 .5 .7-.6 .7-.3 .7 .9 .7 .2 .7 .2 .7 .1 .7-.6 .7 .3 .7-.5 .7 0 .7 .1 .7-.4 .7 .5 .7-.5 .7 .1 .7 .3 .7 .2 .7 .5 .7-.1 .7 0 .7-.5 .7-.5 .7 .6 .7-.3 .7 .8 .7-.7 .7 .5 .7-.8 .7 .5 .7-.2 .7 .1 .7-.3 .7-.4 .7 .8 .7-.4 .7 .5 .7-.3 .7 .4 .7-.2 .7 .6 .7-.2 .7-.6 .7 0 .7-.9 .7 .3 .7 .6 .7-.2 .7 .2 .7-.5 .7-.4 .7 .2 .7 .5 .7 .3 .7-.2 .7 .3 .7 .6 .7 .1 .7-.7 .7-.5 .7 .3 .7-.7 .7 .6 .7 .5 .7-.4 .7-.3 .7 .5 .7 .6 .7-.1" stroke="#d35e28" stroke-width="1.9" stroke-dasharray="3 0.6"/>
<path d="M54.0 109.9l1-5 1-4.3 1-3.2 1-2.5 1-2.2 1-2.2 1-2.1 1-2 1-1.7 1-1.4 1-1.2 1-1.1 1-.9 1-.9 1-.8 1-.7 1-.7 1-.6" stroke="#edae26" stroke-width="1.9" stroke-dasharray="1.4 1.4"/>
<path d="M72.0 76.4l.7-.4 .7-.3 .7-.3 .7-.4 .7-.5 .7-.3 .7-.1 .7-.4 .7-.2 .7-.5 .7 .1 .7-.6 .7-.1 .7 .2 .7 .2 .7 .5 .7-1.2 .7 0 .7 .2 .7-.2 .7-.3 .7 .2 .7-.1 .7-.8 .7 .1 .7-.4 .7-.2 .7-.4 .7 .4 .7-.2 .7-.5 .7 .3 .7-.1 .7-.3 .7-.8 .7 .3 .7-.4 .7 0 .7 .2 .7 .8 .7-.1 .7-.4 .7-.1 .7 .3 .7-.6 .7 .4 .7-.8 .7-.4 .7 .1 .7-.2 .7-.1 .7-.2 .7 .5 .7-.6 .7 0 .7-.3 .7 .6 .7-.1 .7-.3 .7-.1 .7-.8 .7 .1 .7 .4 .7-.7 .7 .4 .7 .3 .7-.2 .7 .8 .7 .5 .7 .2 .7-.1 .7-.3 .7-.7 .7 .5 .7-.4 .7-.7 .7 0 .7 .7 .7 .6 .7-.8 .7-.4 .7 0 .7 1.2 .7-.9 .7-.3 .7 .6 .7-1.5 .7 .4 .7 1 .7-.4 .7 .5 .7-.4 .7 .6 .7-.7 .7-.1 .7-.6 .7-.1 .7 .5 .7 .3 .7-.1 .7 .2 .7-.8 .7-.2 .7 .5 .7 0 .7 .6 .7-.6 .7-.5 .7 .5 .7-.5 .7 .2 .7-.5 .7 .1 .7 .6 .7-.3 .7-.1 .7-.7 .7 .9 .7-.8 .7 .2 .7-.1 .7 0 .7 .1 .7-.6 .7 .9 .7 .1 .7-.5 .7 .6 .7-.1 .7 0 .7 0 .7-.3 .7 .6 .7-.1 .7-.5 .7-.3 .7 .5 .7-.8 .7 .3 .7-.3 .7 .2 .7-.8 .7 .8 .7-1 .7 .3 .7 .3 .7-.8 .7 .5 .7-.7 .7 .3 .7-.1 .7 .2 .7 .3 .7 .6 .7-.1 .7 .5 .7-.9 .7-.4 .7 .2 .7 0 .7 0 .7 0 .7-.1 .7 .4 .7-.1 .7-.4 .7 1 .7-1.4 .7 .6 .7 .7 .7-1.8 .7 .5 .7 .4 .7 .5 .7 .1 .7-1.4 .7 .6 .7 0 .7-.9 .7 .2 .7 .9 .7 .2 .7 .7 .7-1.9 .7 1.1 .7-.3 .7-.3 .7-.3 .7 2.5 .7-2.1 .7 0 .7 .2 .7-.3 .7 0 .7-.5 .7 .6 .7 .1 .7-.5 .7 .2 .7 .2 .7 .1 .7 .4 .7-.2 .7-.7 .7-.1 .7 .3 .7 .1 .7-.4 .7 .3 .7-.1 .7-.1 .7 1.8 .7-1.3 .7 0 .7-.2 .7 .2 .7-.7 .7 .6 .7-.3 .7 .1 .7 .2 .7-.3 .7 .1 .7 .2 .7 1 .7-.9 .7-.2 .7-.2 .7 .5 .7 .2 .7-.5 .7-.1 .7-.1 .7 .1 .7 .2 .7 .3 .7-.6 .7 .9 .7-.4 .7-.4 .7 1.6 .7-1.5 .7-.1 .7 .7 .7-.8 .7 0 .7 .3 .7-.4 .7 .5 .7-.5 .7 .2 .7-.6 .7-.1 .7-.2 .7 .1 .7 .3 .7-.2 .7 .9 .7-.6 .7 0 .7 .1 .7 .4 .7 .4 .7 .2 .7-.2 .7-1 .7 .1 .7 .2 .7 .2 .7-.6 .7 .2 .7 1.1 .7-.4 .7-.1 .7 0 .7-.4 .7 .1 .7 .1 .7-.3 .7-.1 .7-.1 .7 .1 .7 .7 .7-.5 .7 .7 .7-.3 .7 0 .7 .1 .7 0 .7-.2 .7 .1 .7 .8 .7-.2 .7-.7 .7 .4 .7-.2 .7-.3 .7 .2 .7-.1 .7 .5 .7-.1 .7-.3 .7 .7 .7-.4 .7 .1 .7 .1 .7 .1 .7 .1 .7 .2 .7-.3 .7 .1 .7-.1 .7 1 .7-1 .7 .1 .7-.1 .7 0 .7 .8 .7-1.2 .7-.6 .7 .2 .7-.1 .7 .1 .7 .5 .7 .1 .7 .2 .7-.2 .7-.1 .7-.3 .7 0 .7 .2 .7-.2 .7 .7 .7 .2 .7 .1 .7-.5 .7-.4 .7 .1 .7 .2 .7-.4 .7 .6 .7 .6 .7 .5 .7-.7 .7-.4 .7 0 .7-.6 .7 .3 .7 .1 .7-.5 .7 .4 .7-.3 .7 .1 .7 .2 .7 .2 .7 .1 .7 .2 .7-.2 .7 0 .7-.1 .7 .1 .7-.6 .7 .1 .7 .3 .7 .6 .7-1 .7 .5 .7-.3 .7 .1 .7-.3 .7-.4 .7-.1 .7 .8 .7-.1 .7 .5 .7-.2 .7 .5 .7-.7 .7-.3 .7 .8 .7 .2 .7-.4 .7 .6 .7-.6 .7 .8 .7-.1" stroke="#edae26" stroke-width="1.9" stroke-dasharray="3 0.6"/>
<path d="M54.0 109.9l1-5.1 1-4.4 1-3.2 1-2.6 1-2.2 1-2.2 1-2.1 1-1.9 1-1.7 1-1.4 1-1.2 1-1.1 1-.9 1-.9 1-.8 1-.7 1-.7 1-.6" stroke="#74a043" stroke-width="1.9" stroke-dasharray="1.4 1.4"/>
<path d="M72.0 76.2l.7-.4 .7-.4 .7-.4 .7-.2 .7-.1 .7-.7 .7-.4 .7 .2 .7-.4 .7-.4 .7-.5 .7-.4 .7 0 .7-.3 .7 .1 .7-.6 .7 1 .7-1.6 .7 0 .7-.1 .7 .1 .7-.6 .7-.7 .7 .4 .7 .4 .7 1 .7-1.7 .7-.1 .7 .4 .7 .3 .7-.3 .7-.1 .7-.2 .7 .1 .7-.3 .7-.1 .7 .1 .7 .3 .7-.3 .7 .1 .7-.5 .7-.3 .7-.8 .7 1.1 .7-1.1 .7 .1 .7-.3 .7-.1 .7 .3 .7 0 .7 .2 .7 .4 .7-.6 .7 .2 .7-.2 .7-.1 .7-.5 .7 .5 .7-.3 .7-.1 .7 .1 .7 0 .7 0 .7-.4 .7 .1 .7-.1 .7-.1 .7 .1 .7 1.1 .7-.5 .7-.3 .7-.2 .7-.5 .7 .1 .7-.2 .7-.5 .7 .4 .7 0 .7 .6 .7-.1 .7-.5 .7 .5 .7 1.2 .7-1.7 .7 .5 .7-.7 .7 1.9 .7-1.2 .7-.2 .7 1.4 .7-.7 .7-.6 .7-.3 .7 .4 .7-.4 .7 0 .7-.5 .7-.4 .7 .1 .7 .5 .7 .5 .7-.6 .7-.8 .7 .4 .7 .1 .7 .3 .7-.1 .7 .3 .7-.3 .7-.2 .7 .2 .7 .4 .7-.6 .7 0 .7-.2 .7 .1 .7 0 .7-.4 .7 .1 .7 .1 .7 .4 .7-.3 .7-.1 .7-.1 .7-.2 .7 .5 .7-.5 .7 0 .7 0 .7 0 .7 0 .7-.4 .7 1.8 .7-1.3 .7 0 .7-.4 .7-.8 .7 .4 .7 .6 .7 .2 .7-.2 .7 0 .7 .2 .7-.9 .7 .7 .7 .1 .7-.4 .7 .3 .7-.2 .7-.2 .7-.3 .7 0 .7 .4 .7-.5 .7 0 .7-.1 .7 0 .7-.5 .7-.1 .7-.5 .7 1.1 .7 .2 .7-.2 .7 0 .7-.2 .7 .3 .7-.5 .7 .1 .7 .5 .7-.3 .7 .4 .7-1.2 .7 .4 .7-.2 .7-.4 .7 2 .7-.7 .7 .3 .7-.1 .7-.1 .7 0 .7-.2 .7 0 .7 .2 .7-.4 .7-.1 .7-.1 .7-.1 .7 .3 .7 .2 .7-.8 .7 .5 .7 0 .7-.4 .7 .6 .7-.5 .7 .8 .7-.4 .7 .1 .7-.2 .7-.2 .7 .3 .7-.1 .7-.1 .7 .2 .7-.7 .7 .4 .7-.5 .7 .6 .7 .1 .7-.3 .7 .3 .7 .2 .7 .2 .7-.3 .7-.5 .7 .2 .7 0 .7 .2 .7-.5 .7 .4 .7-.6 .7 .5 .7-.1 .7-.6 .7 .6 .7-.6 .7-.5 .7 .8 .7-.4 .7 .6 .7-.3 .7 .3 .7 .1 .7 .1 .7 0 .7-.3 .7 .1 .7 .4 .7 0 .7-.4 .7-.3 .7-.4 .7 .8 .7 0 .7-.3 .7 .6 .7-.1 .7-.3 .7 .1 .7 .4 .7-1.1 .7 .4 .7 .3 .7 .1 .7 .6 .7-.6 .7 .4 .7-.2 .7 .1 .7 1.1 .7-1.8 .7 .2 .7-.3 .7 .5 .7-.1 .7 .7 .7 .6 .7-1.5 .7-.3 .7 .5 .7 .2 .7-.7 .7 1.5 .7-1.3 .7 .5 .7-.5 .7-.1 .7-.1 .7-.2 .7 .1 .7 .5 .7-.5 .7 .6 .7-.7 .7 .8 .7-.3 .7 1.5 .7-1.6 .7-.2 .7 .1 .7-.5 .7 .7 .7 .2 .7-.3 .7-.2 .7 .4 .7-.2 .7 0 .7 .3 .7-.5 .7 2 .7-1.6 .7 .1 .7-.5 .7 0 .7 .2 .7-.6 .7 .6 .7 .1 .7 .1 .7-.1 .7 .2 .7 .4 .7-.2 .7-.2 .7 .2 .7-.6 .7 .2 .7-.5 .7 .7 .7 .6 .7-.9 .7 .1 .7-.1 .7 .4 .7 .3 .7-.6 .7 0 .7 .4 .7-.5 .7 .2 .7 .3 .7-.1 .7-.4 .7 0 .7 0 .7 0 .7 .4 .7 0 .7-.1 .7-.4 .7 .2 .7 .2 .7-.4 .7 .4 .7-.3 .7 0 .7 1.2 .7-.9 .7-.4 .7 .4 .7 .3 .7 .5 .7-.5 .7 .4 .7-.5 .7 .2 .7 .3 .7-.2 .7-.3 .7 .5 .7-.2 .7-.1 .7 .1 .7-1 .7 .4 .7 .3 .7-.1 .7-.1 .7-.3 .7 .2 .7 .3 .7 .4 .7-.1 .7 .1 .7-.4 .7 .3 .7 0 .7-.5 .7 .3 .7-.1 .7 .6 .7-.5 .7 .1 .7-.2" stroke="#74a043" stroke-width="1.9" stroke-dasharray="3 0.6"/>
<path d="M54.0 125.4l1-.2 1-.2 1-.2 1-.3 1-.1 1-.1 1-.2 1-.1 1-.2 1-.1 1-.1 1-.2 1 0 1-.2 1 0 1-.3 1 .2 1 .1 1-.4 1 .4 1-.1 1-.1 1 0 1 .4 1 0 1 .2 1 0 1 0 1 .4 1-.1 1 .4 1-.2 1 .3 1 0 1 .6 1-.3 1 .2 1 .4 1 .1 1 .4 1 .1 1 0 1 .2 1-.2 1 .3 1 .2 1 .2 1 0 1 .3 1 .2 1 .4 1 .2 1 .1 1 .2 1 .3 1 0 1 .3 1 .1 1 .5 1 .3 1 .1 1 .3 1 .2 1 .5 1-.1 1 .1 1 .2 1 .5 1 .3 1 .2 1 .2 1 .1 1 0 1 .3 1 .1 1 .4 1 0 1 .5 1 .1 1 0 1 .6 1 .2 1-.1 1 .4 1 .3 1 .1 1 .3 1 .2 1 .3 1 .1 1 .1 1 .3 1 .3 1 .1 1 .1 1 .2 1 .3 1 .2 1 .3 1 .2 1 .2 1 .3 1 .3 1 .4 1 .2 1 0 1 .4 1 .1 1 .3 1 .2 1 .2 1 .1 1 .1 1 .6 1 .4 1-.1 1 .4 1 .1 1 .3 1 0 1 .3 1 .2 1-.2 1 .6 1 .1 1-.2 1 .7 1 0 1 .2 1 .2 1 .1 1 0 1 .3 1 .1 1 .6 1 0 1-.1 1 .1 1 .3 1 .1 1 0 1 .1 1 .5 1 0 1-.2 1 .1 1 .2 1 .3 1 .2 1-.1 1 0 1 .3 1 .2 1 0 1 .1 1 .2 1 0 1 0 1 .3 1-.1 1 .4 1 0 1-.1 1 .3 1 .2 1-.4 1 .4 1 .4 1-.4 1 .3 1-.1 1 .3 1-.2 1 .2 1 .2 1 .2 1 .1 1 .1 1 .2 1 .1 1 .1 1-.2 1 .2 1 .6 1 0 1-.1 1 .1 1 .1 1-.1 1 .5 1-.3 1 .2 1 .4 1-.5 1 .5 1-.2 1 .3 1 .2 1 0 1 .2 1 0 1 .2 1 0 1 .2 1 0 1 .4 1-.1 1 .4 1-.1 1 .2 1 .3 1 0 1-.2 1 .5 1-.4 1 .6 1 0 1 0 1 .3 1 .1 1 .5 1-.3 1 .5 1 .1 1-.2 1 .1 1 .4 1-.1 1 .2 1 .1 1-.1 1 .3 1 0 1 .1 1 .3 1 .4 1 .1 1-.1 1 .1 1 .2 1 .3 1-.1 1 0 1 .2 1 .3 1 .4 1-.4 1-.1 1 .6 1-.1 1 .2 1 .3 1-.1 1-.1 1 .1 1 .4 1-.1 1 .4 1-.1 1 .2 1 0 1 .3 1 .1 1 .2 1 .3 1-.1 1 0 1 .5 1-.1 1 .2 1 .1 1 .3 1 0 1 .1 1 .1 1-.1 1 .2 1 .1 1 .2 1 .1 1 .2 1 .1 1 0 1 0 1 .4 1 .1 1-.1 1 .4" stroke="#1063a6" stroke-width="2.1" stroke-dasharray="1.8 1.7"/>
<path d="M54.0 125.4l1-.2 1-.2 1-.2 1-.2 1-.1 1-.3 1-.1 1-.2 1-.1 1-.1 1-.2 1-.2 1 .1 1-.1 1-.2 1 .1 1 0 1-.4 1 .2 1 .1 1-.1 1 0 1 .3 1-.1 1 0 1 .2 1 0 1 .4 1-.2 1 .6 1-.3 1 .5 1-.1 1 .3 1 .3 1 .2 1 .2 1-.1 1 .2 1 .1 1 .2 1 0 1 .4 1 .1 1 .3 1 0 1 .2 1 0 1 .2 1 .1 1 .3 1 .3 1 .3 1-.1 1 .9 1-.3 1 .5 1 .1 1-.3 1 .6 1 .5 1-.3 1 .7 1-.1 1 .3 1 .4 1-.1 1 .5 1 .1 1 .2 1 .5 1 .6 1-.2 1 .2 1 .1 1 .1 1 .4 1 .4 1 0 1 .3 1 0 1 .7 1-.5 1 .6 1 .2 1 .1 1 .1 1 .2 1 .3 1 .3 1 0 1 .2 1 .5 1 .2 1 0 1 .2 1 .2 1 .7 1-.1 1 .2 1 .4 1 .4 1 .1 1-.2 1 .4 1 .2 1 .3 1 .1 1 .3 1 .1 1 .5 1 .2 1 0 1 .2 1 .4 1 .4 1 .2 1 .1 1-.2 1 .6 1 .2 1 .3 1 .1 1 .4 1 .2 1 .7 1 0 1 .1 1 .2 1 .3 1 .3 1 .1 1 .3 1 .4 1 .2 1 .1 1 .4 1 .1 1 0 1 .1 1 .3 1 .3 1 .3 1 .3 1-.1 1 .1 1 .4 1 .3 1-.1 1 .3 1 .3 1 0 1 .1 1-.2 1 .7 1 0 1 .1 1 0 1 0 1 .4 1 .1 1 .3 1-.2 1 .5 1-.1 1 .3 1-.2 1 .4 1 .2 1 0 1-.1 1 .3 1 .2 1-.1 1 .1 1 .4 1-.1 1 .4 1-.2 1 0 1 .3 1 .5 1-.2 1 .2 1 .2 1-.1 1 .5 1 0 1 .2 1-.2 1 .1 1 0 1 .5 1 .1 1 .3 1 .3 1-.1 1 .1 1 .3 1 .3 1-.2 1 .3 1 0 1 .2 1 .3 1-.1 1 .1 1 .4 1 0 1 .1 1 .2 1 .2 1 .1 1 .3 1 .1 1 .3 1 .1 1 .1 1 0 1 .1 1 .1 1 .6 1-.3 1 .3 1 .3 1-.3 1 .2 1 .2 1 .1 1 .1 1 .3 1 .4 1 0 1 .1 1 .1 1-.1 1 .5 1 .1 1-.1 1 .4 1 .1 1 .1 1 0 1 .2 1 .1 1 .4 1 .1 1 .1 1 .1 1 .1 1 .5 1-.4 1 .6 1 0 1 .1 1 .1 1 .2 1 0 1 .1 1 .3 1-.1 1 .5 1 .2 1-.5 1 .4 1 .4 1 .2 1 .1 1 .2 1 .2 1 .2 1 .2 1-.1 1 .3 1-.2 1 .3 1 0 1 .5 1 .3 1-.1 1-.1 1 .3 1 .2 1 .1 1 .3 1 .1 1-.4 1 .8" stroke="#d35e28" stroke-width="2.1" stroke-dasharray="1.8 1.7"/>
<path d="M54.0 125.4l1-.2 1-.2 1-.2 1-.3 1-.1 1-.2 1-.1 1-.1 1-.2 1-.1 1 0 1-.2 1 0 1-.2 1-.1 1-.1 1 0 1-.1 1-.1 1 .1 1 0 1 .1 1 .1 1 0 1 .1 1 .1 1 .5 1-.2 1 .1 1 .2 1 .3 1 0 1 .2 1 .1 1 .2 1 .2 1 .1 1-.1 1 .2 1-.1 1 .7 1 .2 1 .2 1 0 1 .3 1 0 1 .1 1 0 1 .3 1 .2 1 .4 1 .3 1-.1 1 .4 1 .2 1 0 1 .1 1 .4 1 .1 1 .4 1 .3 1 .2 1 .2 1 .4 1 0 1 .5 1-.2 1 .5 1 .3 1 0 1 .1 1 .6 1 0 1 .4 1 .2 1 .1 1 .2 1 .4 1 .1 1 0 1 .4 1 .3 1 .1 1 .2 1 .2 1 .2 1 .1 1 .1 1 .6 1-.1 1 .4 1-.1 1 .5 1 .1 1 .7 1-.3 1 .2 1 .5 1 .2 1-.2 1 .5 1 .4 1-.1 1 .5 1 0 1 .2 1 .3 1 .2 1 .1 1 .8 1-.2 1 .2 1 .5 1 .1 1 .4 1 0 1 .3 1 .2 1 .3 1 .2 1 .2 1 .6 1-.1 1 .3 1 .3 1 .4 1 .2 1 .4 1-.1 1 .6 1 .2 1 .3 1 .3 1 0 1 .6 1 .2 1 .1 1 .4 1 .5 1 0 1 .4 1 .1 1 .1 1 .2 1 .3 1 .4 1 .2 1-.1 1 .5 1 0 1 .1 1 .3 1 0 1 .1 1 .6 1-.3 1 .5 1-.2 1 .4 1 .1 1 .2 1-.1 1 .4 1 .2 1 0 1 .3 1 .3 1-.1 1 .3 1-.1 1 .4 1 .2 1 .4 1-.1 1 0 1 .3 1-.2 1 .5 1-.1 1 .1 1 .4 1 0 1 .3 1-.2 1 .4 1 0 1 .2 1-.1 1 .5 1 .1 1 0 1 .1 1 .2 1 .5 1-.1 1 .1 1 .3 1 .1 1 .2 1 .2 1 .1 1 .3 1-.2 1 .4 1 .1 1 .2 1 .1 1 .1 1 .2 1 .3 1 0 1 0 1 .5 1 .2 1 0 1 .2 1 0 1 .2 1 .4 1 .1 1 .1 1 .1 1-.1 1 .5 1 .1 1 .3 1 .3 1-.1 1 .2 1-.1 1 .5 1 .1 1 .2 1 .1 1 .1 1 .3 1-.1 1 .3 1 .2 1-.1 1 .1 1 .4 1 .1 1 .3 1 .1 1 0 1 .3 1 .3 1-.1 1 .2 1 0 1 .4 1 .4 1-.4 1 .5 1 .2 1-.1 1 .2 1 .1 1 .2 1 .3 1 .2 1 .1 1 .2 1 .1 1 0 1 .5 1 .1 1-.1 1 .5 1 0 1 .1 1 .4 1-.5 1 .3 1 .5 1 0 1 .1 1 .5 1 0 1-.1 1 .3 1 .3 1 .3 1-.4 1 .5 1 .1 1-.1" stroke="#edae26" stroke-width="2.1" stroke-dasharray="1.8 1.7"/>
<path d="M54.0 125.4l1-.2 1-.2 1-.2 1-.2 1-.2 1-.1 1-.2 1-.1 1-.2 1-.1 1 0 1-.3 1-.1 1 .1 1-.1 1-.2 1-.1 1 .1 1-.1 1-.1 1 .2 1 .1 1 0 1 .5 1-.1 1 0 1 .2 1 .4 1-.1 1-.2 1 .3 1 .2 1 0 1 .3 1 .1 1 .1 1 .1 1 .3 1-.2 1 .5 1 .1 1 .2 1-.3 1 .8 1-.3 1 .3 1 .3 1 0 1 .3 1-.1 1 .4 1 .3 1 .3 1 .1 1 .3 1 .2 1 .1 1 .2 1 .6 1-.2 1 .6 1 0 1 .5 1-.1 1 .4 1 .2 1 .2 1 .3 1 0 1 .3 1 .2 1 .4 1 .1 1 0 1 .4 1 .2 1 .1 1 .6 1 0 1 .3 1 0 1 .2 1 .4 1-.1 1 .5 1 .1 1 .2 1 .3 1 0 1 .4 1 0 1 .2 1 .6 1-.1 1 0 1 .7 1-.1 1-.2 1 .8 1 .3 1 .2 1 .4 1-.1 1 .4 1-.1 1 .4 1 .5 1 0 1 .2 1-.1 1 .5 1 .1 1 .5 1 0 1 .4 1 .1 1 .7 1-.3 1 .5 1 .6 1-.1 1 .1 1 .5 1 .4 1 .2 1-.1 1 .6 1 0 1 .9 1 0 1 .3 1 .4 1 .3 1 .1 1 .7 1 0 1 .1 1 .7 1 .3 1 .3 1 .1 1 .1 1 .5 1 .3 1 .1 1 .3 1-.1 1 .4 1 .2 1-.1 1 .1 1 .4 1 .3 1 .2 1 .1 1 .2 1 .2 1 .2 1 .2 1 .2 1 .1 1 .2 1 0 1 .4 1-.1 1 .5 1-.1 1 .2 1 0 1 .2 1 .3 1 .1 1 .1 1 0 1 .4 1 .1 1 .2 1 .3 1-.1 1-.1 1 .4 1-.1 1 .3 1 .5 1 .1 1-.1 1 .2 1 .2 1-.1 1 .5 1 .1 1 .5 1-.3 1 .5 1-.1 1 .4 1-.1 1 .4 1 0 1 .1 1 .3 1 .2 1 .2 1 .3 1 .1 1-.4 1 .5 1-.1 1 .4 1 .3 1-.1 1 .2 1 .4 1 .1 1 .4 1 0 1 .2 1 .3 1-.1 1 .2 1 0 1 .4 1 .2 1 .3 1-.1 1 .1 1 .1 1 .1 1 .4 1 .3 1-.3 1 .1 1 .7 1-.2 1 .4 1-.1 1 .5 1 .2 1 0 1 .3 1 .1 1 .2 1 .4 1 0 1-.1 1 .2 1 .2 1 .2 1 .2 1 0 1 .4 1 .1 1 .2 1 .1 1 .2 1-.1 1 .6 1 0 1 .2 1 .2 1 .2 1 .1 1 .1 1 .1 1 0 1 .4 1 .1 1 .1 1 .6 1-.5 1 .5 1 .3 1 .2 1 .2 1-.2 1 .2 1 .4 1 0 1 .5 1-.1 1 .2 1 .2 1 0 1 .2 1 .1 1 .3 1 0 1 .3" stroke="#74a043" stroke-width="2.1" stroke-dasharray="1.8 1.7"/>
<path d="M54.0 125.4l1-.2 1-.1 1-.2 1-.1 1-.1 1 0 1 .1 1-.2 1 .2 1-.2 1 .1 1 0 1 0 1 .1 1 0 1-.1 1-.1 1 .3 1 0 1 0 1 0 1 .2 1 .1 1 .4 1-.2 1 .4 1 .1 1 .5 1 .3 1-.1 1 .3 1 .4 1-.1 1 .1 1 .5 1 .1 1 .1 1 .4 1-.1 1-.1 1 .5 1 0 1 .5 1-.1 1 .1 1 .3 1 .1 1-.1 1 .4 1 .1 1 .4 1 .4 1-.4 1 .2 1 .2 1 .2 1 .2 1 .3 1 .4 1-.2 1 .2 1 .1 1 .6 1 .3 1-.3 1 .2 1 .5 1 .3 1 .2 1 .1 1 .3 1 .1 1 .1 1 .6 1-.1 1 0 1 .3 1 .1 1 .4 1 .4 1-.1 1 .5 1 .4 1-.1 1 0 1 .3 1 .2 1 .1 1 .2 1 .3 1 .2 1 .3 1-.1 1 .7 1 0 1 .2 1 0 1 .5 1-.1 1 .5 1 .1 1-.1 1 .3 1 .6 1 .1 1 0 1 .3 1 .2 1 .1 1 .3 1 .1 1 .3 1 .3 1 0 1 .5 1 .1 1 .3 1 .2 1 .3 1 .1 1 .2 1 0 1 .3 1 0 1 .3 1 .3 1 .1 1 .2 1 0 1 .5 1-.1 1 .3 1 .2 1 .3 1-.1 1 .1 1 0 1 .4 1 .1 1 .4 1 .3 1-.4 1 .2 1 .4 1 .3 1 0 1 .1 1 .2 1 .1 1 .3 1 0 1-.2 1 .3 1 .2 1-.1 1 .2 1 .1 1 .1 1 .3 1 0 1 0 1 .1 1 .2 1 .5 1-.2 1 .3 1-.1 1-.3 1 .5 1-.1 1 0 1 .2 1 .5 1-.4 1 .3 1 .3 1 .1 1-.3 1 .3 1 .1 1 .1 1 .3 1-.1 1 .1 1 .4 1-.4 1 .4 1 .2 1-.2 1 .2 1 .1 1 .3 1 0 1 .3 1 .2 1 0 1 0 1 .2 1 .1 1 0 1 .4 1 0 1 .3 1-.2 1 .4 1 .4 1-.1 1-.2 1 .3 1 .2 1 .1 1 .1 1 .2 1 0 1 .3 1 0 1 .2 1 .3 1-.1 1 .3 1-.1 1 .2 1 .1 1 .4 1-.2 1 .5 1-.3 1 .3 1 .3 1 .1 1-.2 1 .1 1 .5 1-.2 1 .4 1-.1 1 .2 1 .5 1 0 1 0 1-.2 1 .3 1 .1 1 .1 1 .3 1-.4 1 .5 1 0 1 0 1 .5 1-.4 1 .3 1 .2 1-.3 1 .2 1 .2 1 .4 1 .1 1 0 1 .1 1-.3 1 .5 1 0 1 .3 1 .2 1 .2 1-.2 1 .2 1-.2 1 .2 1-.1 1 .4 1-.2 1 .3 1 0 1 .1 1 .2 1 0 1 .2 1-.1 1 .4 1-.2 1 .3 1 .3 1-.6 1 .3 1 .2 1 .3" stroke="#1063a6" stroke-width="2.1" stroke-dasharray="6 4.2"/>
<path d="M54.0 125.4l1-.2 1-.1 1-.1 1-.2 1 0 1-.2 1 0 1 .2 1-.1 1-.1 1 .2 1 0 1 0 1-.1 1 0 1 0 1-.2 1 .3 1-.1 1 .3 1 .1 1-.1 1 .1 1 .3 1 .3 1 0 1 .3 1 .3 1 .2 1 .3 1 .1 1 0 1 .1 1 .6 1 0 1 .2 1 .1 1 0 1 .3 1-.2 1 .5 1 .1 1 .6 1-.1 1 .1 1 .2 1 .3 1-.1 1 .2 1 .2 1 .6 1-.2 1-.1 1 .6 1 .5 1-.4 1 .9 1-.4 1 .4 1-.1 1 .2 1 .1 1 .2 1 0 1 .7 1-.1 1 .4 1 .2 1 .1 1 .3 1 .1 1 .2 1 .3 1 .2 1 0 1 .2 1 .3 1 .3 1 .4 1 .3 1 0 1 .3 1 .1 1 .3 1 .1 1 .2 1 .1 1 .3 1 .4 1-.3 1 .4 1 .1 1 .4 1 .3 1-.1 1-.2 1 .7 1 .2 1-.1 1 .4 1 .2 1-.1 1 .6 1 .2 1 .2 1 0 1 .3 1 .2 1 .4 1-.1 1 .6 1 .1 1-.2 1 .8 1 0 1 .1 1 .3 1-.1 1 .6 1-.2 1 .4 1 .6 1 .3 1 0 1 .1 1 .6 1 .1 1 .2 1 .4 1 0 1 .5 1-.2 1 .8 1-.2 1 .4 1 .3 1 .4 1 .3 1 .1 1 .3 1 .2 1 .1 1-.1 1 .2 1 .1 1 .6 1 .1 1 .2 1 .2 1 .1 1 .1 1 .1 1 .1 1 .6 1 .1 1-.2 1 .3 1 .3 1 .3 1-.2 1 .3 1 .3 1-.3 1 .3 1 .2 1 0 1 .6 1 0 1 0 1-.1 1 .5 1 .1 1-.1 1 .2 1-.1 1 .4 1 .3 1 .1 1 .1 1 .1 1-.1 1 .2 1 .4 1 0 1 0 1 .3 1 .2 1 .1 1 .1 1 0 1 .3 1 .3 1-.1 1 .1 1 .3 1-.1 1 .3 1 .1 1 .4 1 0 1 .3 1 .3 1-.2 1 0 1 .4 1 .1 1 .2 1 0 1 .3 1 .1 1-.2 1 .5 1 .2 1 .3 1-.1 1 .1 1 .5 1-.1 1 .2 1 .2 1 .2 1 .1 1-.1 1 .5 1-.1 1 .2 1 .5 1 0 1-.2 1 .3 1 .2 1 0 1 0 1 .5 1 .2 1 0 1 .1 1 .2 1 .2 1-.1 1 .2 1 .1 1 .4 1 0 1-.1 1 .2 1 .5 1-.3 1 .4 1 0 1 .4 1-.1 1 .1 1 0 1 .3 1 .2 1 .1 1-.1 1 .5 1-.1 1 0 1 .3 1 0 1 .1 1 .1 1 .2 1 .1 1-.1 1 .5 1-.1 1 .4 1 0 1 .2 1 0 1 .3 1-.2 1 .1 1 .3 1-.4 1 .5 1 .2 1 0 1 .4 1 0 1 0 1 0 1 .4 1-.2" stroke="#d35e28" stroke-width="2.1" stroke-dasharray="6 4.2"/>
<path d="M54.0 125.4l1-.2 1-.1 1-.1 1-.2 1-.1 1 0 1 0 1 0 1 .1 1 0 1-.2 1 0 1 0 1 .1 1 0 1 0 1-.1 1 0 1 0 1 0 1 .2 1 .1 1 .3 1 .3 1 .2 1 .1 1 .1 1 .3 1 .3 1 .1 1 .3 1 .1 1 .2 1 .3 1 0 1 .5 1-.3 1 .5 1-.1 1 .6 1 0 1-.1 1 .2 1 .1 1 .3 1 .2 1 .5 1-.4 1 .6 1-.1 1 .3 1 .2 1 .2 1 .1 1 .1 1 .2 1 .2 1 .4 1-.2 1 .3 1 .1 1 .2 1 .2 1 .5 1 .4 1 .1 1-.2 1 .4 1 0 1 .4 1 .3 1 .1 1 .3 1 0 1 0 1 .2 1 .5 1 .3 1 .3 1 0 1 .3 1 .2 1 .3 1 .1 1 0 1 .5 1 .1 1 .2 1-.1 1 .4 1-.1 1 .2 1 .4 1 .2 1 .3 1 .4 1-.1 1 .5 1-.2 1 .4 1-.1 1 .4 1 .2 1 .2 1 .3 1-.2 1 .5 1 .1 1 .3 1 .3 1 .1 1 .2 1 .1 1 .5 1 0 1 .4 1-.1 1 .7 1-.1 1 .5 1 0 1 .4 1 .2 1 .4 1 .2 1 .5 1 .2 1 .3 1 .4 1-.1 1 .7 1 .1 1 0 1 .6 1 .2 1 .6 1 0 1 .3 1 .3 1 0 1 .6 1 0 1 .6 1 .3 1 0 1-.1 1 .5 1 .2 1 .3 1 0 1 .1 1 .3 1 .1 1 .6 1-.2 1 .1 1 .3 1 0 1 .3 1 .2 1 .1 1 .2 1 .4 1 0 1-.1 1 .3 1 .3 1 0 1 .3 1 .1 1 .2 1 .1 1 .1 1 .1 1 .3 1-.1 1 .6 1-.1 1 .1 1 .3 1 0 1 .2 1 .1 1 .1 1 .1 1 .2 1 .4 1-.1 1 .2 1 .1 1 .4 1 .3 1-.3 1 .4 1 .1 1 .1 1 .3 1-.1 1 .5 1 .1 1 0 1 .5 1 .1 1 .2 1-.2 1 .3 1 .1 1 .4 1 .3 1-.4 1 .5 1 .1 1 .4 1 0 1 0 1 .3 1 0 1 .2 1 .3 1 .1 1 .3 1-.1 1 .7 1 0 1 .1 1-.1 1 0 1 .4 1 .2 1 .6 1 0 1-.2 1 .5 1 .1 1 0 1 .3 1 0 1 0 1 .1 1 .3 1 .3 1-.2 1 .1 1 .5 1-.4 1 .9 1-.2 1 .3 1 .3 1-.3 1 .2 1 .6 1-.2 1 .1 1 .2 1 .3 1 .2 1-.1 1 .1 1 .2 1 .1 1 .3 1 0 1 .4 1-.3 1 .3 1 .4 1 0 1 0 1-.1 1 .2 1 .2 1 .2 1 .1 1-.1 1 .2 1 .4 1 .1 1-.2 1 .3 1-.1 1 .3 1 .8 1-.5 1 .1 1 .1 1 0 1 0" stroke="#edae26" stroke-width="2.1" stroke-dasharray="6 4.2"/>
<path d="M54.0 125.4l1-.2 1-.1 1-.2 1-.1 1 0 1-.2 1 .1 1-.1 1 .1 1 .1 1-.1 1 0 1-.1 1 .1 1 .1 1-.1 1 0 1 0 1 .1 1-.2 1 .3 1 .1 1 .3 1 .2 1 .1 1 .4 1-.2 1 .3 1 .2 1 .3 1 .3 1 .1 1 .1 1 .4 1 .1 1 .3 1 0 1 .4 1 0 1-.1 1 .4 1-.1 1 .5 1 .3 1-.1 1 .2 1-.1 1 .1 1 .4 1 .2 1 0 1 .4 1 .2 1 .3 1 .3 1 .1 1 0 1 .2 1 .3 1-.1 1 .6 1 .1 1 0 1 .2 1 .8 1-.2 1 .2 1 .3 1 .1 1 .1 1 .3 1-.1 1 .5 1-.2 1 .5 1 .3 1-.2 1 .8 1-.3 1 .6 1 0 1 .3 1 .1 1 .7 1-.1 1 .3 1 .1 1 .2 1 .1 1 .1 1 .3 1 .1 1 .1 1 0 1 .4 1 .3 1 .1 1 .3 1 .1 1 .1 1 .2 1 .2 1 .3 1 .2 1 .4 1-.2 1 .1 1 .6 1 0 1 .3 1 .6 1 .1 1 0 1 .3 1 .1 1 .4 1 0 1 .2 1 .2 1 .6 1 .3 1-.1 1 .5 1 .1 1 .5 1 .1 1 .5 1 .2 1 .3 1 .3 1 .4 1 .2 1 .2 1 .8 1 0 1 .1 1 .3 1 .2 1 .6 1 .6 1-.2 1 .5 1 0 1 .7 1 .1 1 .2 1 .4 1 .3 1 .1 1 0 1 0 1 .3 1 .1 1 .7 1-.1 1 .2 1 .2 1 .5 1-.2 1 .4 1 .1 1 .1 1-.1 1 .6 1-.1 1 .2 1 .3 1 .1 1 .3 1-.1 1 .3 1 .2 1 .1 1 .2 1 .1 1 .3 1-.1 1 0 1 .4 1 .4 1-.1 1 .1 1 .2 1 .2 1 .2 1 .2 1-.2 1 .7 1 0 1 0 1 .5 1 0 1 .3 1-.2 1 .6 1-.1 1-.1 1 .6 1 0 1 .1 1 .3 1-.1 1 .5 1 .1 1 .2 1 .4 1 0 1 0 1 .2 1 .3 1 .3 1-.1 1 .1 1 .5 1 .1 1 .1 1 .5 1-.3 1 .4 1-.2 1 .4 1 .3 1 .3 1-.2 1 .5 1 .1 1 .1 1 .5 1-.2 1 .1 1 .3 1-.2 1 .7 1 .1 1-.1 1 .4 1 .1 1 .4 1-.3 1 .1 1 0 1 .4 1 0 1 .4 1 .2 1 0 1 .1 1 .5 1-.1 1 .2 1 .3 1-.2 1 .2 1 .7 1-.3 1 0 1 .3 1 .1 1 0 1 .3 1 .2 1 .1 1 .3 1-.3 1 .2 1 .5 1 0 1 .4 1-.1 1-.1 1 .5 1-.1 1 .3 1 .3 1 .2 1-.2 1 .3 1 .1 1 .2 1-.4 1 .4 1 .3 1 .1 1 0 1 .3 1 .2 1 0 1 .1" stroke="#74a043" stroke-width="2.1" stroke-dasharray="6 4.2"/>
<path d="M54.0 125.4l1-.1 1-.2 1-.1 1-.1 1 0 1 0 1 .1 1 0 1 .1 1 .1 1 .1 1 0 1 .1 1 .1 1 .2 1 .1 1 0 1 .2 1 .3 1-.1 1 .3 1 .1 1 .1 1 .1 1 .3 1 .2 1 .5 1-.1 1 .3 1 .4 1 .1 1 .3 1 .3 1-.2 1 .4 1 .1 1 .5 1-.1 1 .3 1 .3 1-.1 1 .2 1 .2 1 0 1 .4 1 .1 1 .2 1 0 1 .1 1 .1 1 .2 1 0 1 .4 1 .2 1 .1 1 0 1 .3 1 .2 1 .1 1 .4 1-.2 1 .3 1 .2 1 .1 1 .1 1 0 1 .3 1 .3 1 .3 1-.1 1 .3 1 .2 1 .3 1 0 1 .3 1 .2 1-.1 1 .4 1 0 1 .2 1 .4 1 .1 1 .5 1 .3 1 0 1 .2 1 .2 1 .2 1 .2 1 .2 1 .1 1 .1 1 .3 1 .4 1 0 1 .4 1 0 1 .4 1-.2 1 .3 1 .3 1 .2 1 .1 1 .5 1-.1 1 .2 1 .1 1 .5 1 .1 1 .1 1-.1 1 .5 1 .1 1 .3 1 .3 1-.1 1 .3 1 .3 1 .1 1 .1 1 .1 1 .2 1 .1 1 .6 1 0 1 0 1 .4 1 0 1-.1 1 .9 1 .1 1-.2 1 .3 1 .4 1 .1 1 .1 1 .2 1 .2 1 .2 1 .2 1 .1 1 .1 1 .3 1-.1 1 .6 1-.3 1 .4 1 .2 1 .1 1 .1 1 .3 1-.2 1 .2 1 .2 1 0 1 .1 1 .4 1-.1 1 .1 1 .1 1 .2 1 .1 1 .1 1 .2 1 .1 1 .1 1 .3 1-.3 1 .5 1-.2 1 .3 1 0 1 .1 1-.2 1 .7 1-.3 1 .1 1 .4 1 0 1 .3 1 .1 1 0 1 0 1 .2 1-.2 1 .3 1 .1 1 .1 1 .2 1-.1 1 .4 1 .2 1-.3 1 .4 1 .3 1 0 1-.1 1 .1 1 .4 1 .3 1-.3 1 .3 1 0 1 .2 1 .3 1 .1 1 0 1 .5 1-.2 1 .2 1 .3 1 0 1 .1 1 .3 1-.1 1 .4 1 .1 1 .1 1 0 1 .2 1-.1 1 .3 1 .2 1 .3 1 0 1 0 1 .1 1 .3 1 .1 1 .3 1-.1 1 .1 1 .2 1 0 1 .2 1-.2 1 .2 1 .2 1 .4 1 0 1 .1 1 .3 1-.2 1 .4 1 0 1-.1 1 .5 1-.4 1 .2 1 .2 1 .2 1 0 1-.2 1 .4 1 .1 1 .5 1-.1 1-.1 1 0 1 .3 1-.2 1 .3 1 .2 1-.1 1 .2 1 0 1 .1 1 .4 1-.1 1 0 1 0 1 .2 1 .2 1 .1 1 .2 1-.1 1-.1 1 .5 1 0 1 0 1 .1 1-.3 1 .2 1 .1 1 .3 1-.3 1 .2 1 .4" stroke="#1063a6" stroke-width="1.2"/>
<path d="M54.0 125.4l1-.2 1-.1 1-.1 1 0 1-.1 1 .1 1 0 1 0 1 .1 1 0 1 .2 1 0 1 .2 1 0 1 .1 1 .2 1 .2 1-.2 1 .3 1 .3 1-.1 1 .2 1 .4 1 0 1 .2 1 .6 1-.2 1 .2 1 0 1 .4 1 .2 1 .7 1 .1 1-.2 1 .7 1 0 1 0 1 .3 1 .1 1 0 1 0 1 .3 1 .3 1 .1 1 .1 1 .4 1-.1 1 .4 1 0 1 .2 1 0 1 .3 1 0 1 .1 1 .4 1 .1 1 .3 1 .1 1-.1 1 .2 1-.1 1 .4 1 .5 1 .2 1 0 1 .1 1 .2 1 .2 1-.2 1 .3 1 .5 1 .2 1 0 1 .1 1 .2 1 .2 1 .2 1 0 1 .6 1 .1 1 .3 1 .5 1 0 1 0 1 .4 1-.1 1 .6 1 .1 1 .1 1 .3 1 .3 1-.1 1 .1 1 .6 1-.1 1 .4 1-.1 1 .3 1 .1 1 .3 1 .1 1 .1 1 .5 1 0 1-.2 1 .5 1 .1 1 .1 1 .3 1 .2 1 .2 1 .1 1 0 1 .4 1 .4 1-.1 1 .5 1 .2 1 .1 1 .3 1 0 1 .3 1 .2 1 .4 1 .4 1 0 1 .5 1-.2 1 .5 1 .2 1 .7 1-.1 1 .5 1-.1 1 .5 1 .4 1 .2 1-.2 1 .7 1 .3 1 .3 1 .1 1-.1 1 .4 1 .4 1-.1 1 .4 1 .1 1 .2 1 .3 1-.1 1 .8 1-.3 1 .2 1 0 1 .3 1 .1 1 0 1 .1 1 .4 1 .1 1-.2 1 .2 1 .4 1 .2 1 .3 1-.2 1 .4 1 0 1 .2 1 .1 1 .4 1 0 1 .2 1-.1 1 .2 1 0 1 .2 1 .2 1 .1 1 .3 1 .1 1 .2 1 .1 1 .3 1 0 1 .2 1 .1 1 .2 1 0 1 0 1 .1 1 .7 1-.1 1 .1 1 .1 1 .1 1 .7 1-.5 1 .3 1 .2 1 0 1 .1 1 .3 1 .2 1 .1 1 .4 1-.1 1 .4 1 .3 1 .1 1-.2 1-.1 1 .7 1 .1 1 0 1 .5 1-.1 1 .2 1 0 1 .4 1 0 1 .2 1 .3 1 .1 1-.1 1 .4 1 .2 1-.1 1 .2 1 .2 1 .1 1 .2 1 .3 1-.1 1 .6 1-.3 1 .1 1 .6 1 .2 1-.3 1 .1 1 0 1 .5 1 0 1-.1 1 .4 1 .2 1 .1 1 .3 1 0 1 0 1 0 1 .2 1 .3 1 0 1 .2 1 0 1 .2 1 .2 1-.1 1-.1 1 .6 1-.1 1 0 1 .2 1 .1 1-.2 1 .4 1-.1 1 .4 1 0 1 .3 1-.1 1 .2 1 0 1 .1 1 0 1 .4 1 0 1 0 1 .2 1 0 1 .1 1 .2 1 .3 1-.2 1 0" stroke="#d35e28" stroke-width="1.2"/>
<path d="M54.0 125.4l1-.1 1-.2 1-.1 1-.1 1 0 1 0 1 0 1 .1 1 .2 1-.1 1 .2 1 0 1 .1 1 .2 1 .1 1 .3 1-.1 1 .1 1 .1 1 0 1 .1 1 .5 1-.1 1 .6 1 .2 1 0 1 .1 1 .4 1 .2 1 .4 1-.1 1 .3 1 .2 1 .2 1 .1 1 0 1 .2 1 .3 1 .3 1 .3 1 .3 1 .1 1 0 1 .3 1-.1 1 .1 1 .6 1-.4 1 .3 1 .2 1 .4 1-.2 1 .4 1-.1 1 .1 1 .3 1 .2 1-.1 1 .2 1 .2 1 .4 1 .1 1 .1 1 .2 1 0 1 .3 1 0 1 .1 1 .3 1 .3 1 .1 1 .4 1-.3 1 .5 1 .3 1 0 1 .4 1 .1 1 .1 1 .5 1-.1 1 .5 1 .1 1 .1 1 .2 1 .2 1 .2 1 .4 1-.2 1 .7 1 .1 1 .3 1-.2 1 0 1 .4 1 .3 1 .2 1 .1 1 .2 1 .3 1-.1 1 .7 1-.3 1 .4 1 .3 1-.1 1 .3 1 .4 1-.1 1 .4 1 0 1 .2 1 .3 1 0 1 .2 1 .4 1 .1 1 .3 1-.1 1 .4 1 .5 1 .2 1 .1 1 .2 1 .3 1 .4 1 .5 1 .1 1 .5 1 0 1 .6 1 0 1 .5 1 .1 1 .6 1 .3 1 .1 1 .3 1 .3 1 .2 1 .3 1 .3 1 .5 1 .3 1 0 1 .2 1 .3 1 .1 1 .2 1 .4 1 .1 1 .1 1 .2 1 .5 1-.2 1 .3 1 0 1 .3 1 .3 1 0 1 .4 1 .1 1-.1 1 0 1 .7 1-.1 1 .5 1-.1 1 .1 1 .3 1 0 1 .2 1 .1 1 .3 1 .3 1-.1 1 .5 1-.2 1 .3 1-.2 1 .1 1 .8 1 0 1 .2 1-.3 1 .4 1 .2 1 .1 1 .2 1 0 1 .3 1 0 1 .3 1 .3 1 0 1 .2 1 .2 1 .2 1 .3 1 .1 1 .2 1-.1 1 .3 1 .4 1-.1 1 .2 1 .1 1 .5 1-.1 1 .2 1 .4 1 .2 1 .1 1 .2 1 .1 1 .1 1 .1 1 .2 1 .1 1 .4 1 .1 1 .2 1 .2 1 .1 1-.1 1 .3 1 .1 1 .1 1 .4 1 0 1 .1 1 .2 1 .5 1-.1 1 .4 1 0 1 .1 1 .3 1 .1 1 .1 1 0 1 .2 1 0 1 .3 1 .2 1 .4 1 .1 1 0 1 .2 1 0 1 .5 1 0 1 .3 1-.2 1 .1 1 .3 1 0 1 .1 1 0 1 .4 1 0 1 .2 1 0 1-.1 1 .5 1 .2 1-.3 1 .2 1 .2 1 .2 1-.1 1 .6 1 0 1-.1 1-.1 1 .5 1 .3 1 0 1 .1 1-.2 1 .3 1-.1 1 .6 1-.1 1-.3 1 .2 1 .4 1 .1" stroke="#edae26" stroke-width="1.2"/>
<path d="M54.0 125.4l1-.1 1-.2 1-.1 1-.1 1 0 1 0 1 0 1 .1 1 .1 1 0 1 .1 1 .1 1 .2 1 0 1 .2 1 0 1 .3 1 0 1 .1 1 .1 1 .3 1-.1 1 .8 1-.3 1 .3 1 .2 1 .2 1 .3 1 .1 1 .2 1 .1 1 .3 1 .2 1 .6 1-.3 1 .2 1 .4 1 .3 1-.3 1 .2 1 .4 1 .2 1-.1 1 .1 1 .3 1 .4 1 0 1 .3 1 0 1 .2 1 .2 1 .1 1 .2 1 0 1 .2 1 .3 1 0 1 .1 1 .4 1 .1 1 .1 1 0 1 .4 1 .4 1-.3 1 0 1 .3 1 .2 1 .1 1 .2 1 .5 1 .1 1 .3 1 .1 1 0 1 .5 1-.1 1 .3 1 .1 1 .5 1 .2 1 0 1 .3 1 .2 1 .3 1 .3 1 0 1 .3 1-.1 1 .3 1 0 1 .7 1 .1 1 .1 1 .3 1 .3 1 0 1-.2 1 .4 1-.1 1 .4 1 .1 1 .3 1 .3 1 0 1 .2 1 .3 1 .1 1 .2 1-.2 1 .5 1 .4 1 .1 1-.1 1 .4 1 .3 1 0 1 .5 1 0 1 .3 1 .3 1 .6 1-.1 1 .2 1 .5 1 .1 1 .5 1-.1 1 .8 1 .2 1 .2 1 .7 1 .2 1 .3 1 .2 1 .3 1 .5 1 .2 1 .6 1 .3 1 .1 1 .1 1 .5 1 .1 1 .5 1 .2 1 .1 1 .3 1 .4 1 .3 1-.1 1 .4 1 0 1 .1 1 .6 1 0 1 .2 1 .2 1 .1 1 0 1 .7 1 0 1 .1 1 .3 1 .2 1-.1 1 .3 1 .1 1 .3 1 0 1 .6 1-.3 1 .3 1 .2 1 0 1 .4 1 0 1 .1 1 .2 1 .1 1 .4 1 .1 1 .2 1-.2 1 .4 1 0 1 .3 1 .4 1 0 1 .1 1 .4 1 .1 1 .3 1-.3 1 .5 1 0 1 .1 1 .4 1 0 1 0 1 .4 1 .2 1 .5 1-.2 1 .1 1 .1 1 .4 1 .2 1 .3 1-.1 1 .3 1-.1 1 .6 1-.1 1 0 1 .8 1 .1 1 .1 1 .2 1 0 1 .4 1-.1 1 .6 1-.1 1-.1 1 .6 1 .3 1-.1 1 .3 1 0 1 .1 1-.1 1 .7 1-.1 1 .3 1-.1 1 .2 1 .5 1-.1 1 .2 1 0 1 .3 1 .3 1-.1 1 .2 1 0 1 .6 1-.2 1 .2 1 .5 1-.2 1 0 1 .2 1 .2 1 .5 1-.1 1 .1 1 .3 1 .2 1-.2 1 .5 1 0 1 .1 1-.3 1 .5 1 .3 1-.1 1 .5 1-.2 1 0 1 .4 1 .1 1 .2 1-.1 1 .4 1-.2 1 .3 1-.1 1 .2 1 .2 1 0 1 .2 1 .1 1 .2 1 .2 1 .1 1 .2 1 0" stroke="#74a043" stroke-width="1.2"/>
<path d="M54.0 237.2l1 7.9 1 6.7 1 4.4 1 3.4 1 3 1 1.9 1 2.2 1 1.8 1 1.3 1 1.5 1 .5 1 .6 1 1.3 1 0 1 .3 1 .5 1 .4 1 .4 1 .4 1-.4 1 .8 1 .9 1-.9 1 .3 1 .5 1 .4 1-.7 1 0 1 .1 1 1 1 0 1-1.2 1 .1 1 .5 1 0 1 .8 1 0 1 .8 1-.4 1-.3 1 .5 1-.8 1-.2 1 .6 1 .4 1-1 1 1 1 0 1-.5 1 .3 1-.2 1 .2 1 .3 1-.7 1 .8 1-.1 1 .1 1-1.2 1 .1 1 1 1-.5 1 0 1-.1 1-.2 1 .5 1-.2 1 0 1 .5 1-.7 1 1 1-1.4 1 2 1-1.6 1 .8 1 .2 1-.4 1 .3 1-.3 1-.7 1 .9 1 .3 1-.6 1-.5 1 .5 1 .4 1 0 1 .3 1-.2 1 0 1-1 1 1.7 1-.9 1 .4 1-.5 1 .1 1 .1 1 .6 1 0 1-.3 1 .6 1-1 1 .4 1-.4 1 .7 1-.5 1 .4 1 .4 1-1.6 1 1.8 1-.8 1-.2 1-.7 1 .7 1-.8 1 1 1-.1 1 .8 1-.8 1 .6 1 0 1 .4 1-.9 1 .4 1-.9 1 .2 1 .3 1 .1 1-.5 1 .4 1 .5 1-.5 1 .1 1-.3 1 1 1 .2 1-.7 1-.1 1 .8 1-.5 1-.5 1-.2 1 .3 1 1.1 1-1.1 1 1.4 1-1.1 1-.1 1 .6 1-.6 1 .3 1-.6 1-.1 1 .2 1 .4 1-.3 1-.5 1 1 1-.3 1 0 1-.1 1-.7 1 1.6 1-.8 1 .4 1 .3 1 0 1-.4 1-.1 1 .1 1 .3 1-.1 1-.4 1 .3 1 0 1 .2 1-.2 1 .5 1-.5 1 .3 1-.4 1-.2 1-.1 1 .3 1 .3 1 .3 1-.6 1-.1 1 0 1 .7 1-.5 1-.2 1 .5 1-.8 1 .6 1-.1 1 0 1-.4 1 .9 1 .3 1-1.3 1 .6 1 .2 1 .7 1-1.1 1-.2 1 .4 1 .8 1-.7 1 0 1 .7 1-1.6 1 0 1 1.2 1 0 1-.9 1 .8 1-.2 1 .1 1-.4 1 .1 1-.2 1 .4 1-.1 1 .8 1-.4 1-.9 1 .8 1 .4 1-.4 1 .3 1-.4 1 .3 1-.7 1 .7 1-.9 1 1.1 1-1.1 1-.3 1 1.1 1-.3 1 .2 1 .1 1-.2 1-.3 1 .4 1 .1 1 .1 1 .6 1-1.1 1 .3 1 .2 1-.4 1-.3 1 .3 1 .6 1-.5 1 .3 1-.5 1 .5 1-.5 1 0 1 .4 1-.1 1 .6 1-1.2 1 .8 1 .5 1-.1 1-.7 1-.1 1 0 1 .4 1-.1 1 .1 1 .1 1-.7 1 0 1 0 1-.1 1 .5 1 .2 1 .9 1-.8 1-.2 1 .6 1-.9 1 .4 1 .3" stroke="#1063a6" stroke-width="1.2"/>
<path d="M54.0 237.2l1 7.9 1 6.6 1 4.6 1 3.8 1 3 1 2.6 1 2.1 1 1.9 1 1.3 1 1.5 1 .7 1 .7 1 .8 1 .8 1 1 1 .3 1-.2 1 .7 1 .2 1-.2 1 .4 1-.1 1 .6 1-.6 1 .9 1 .1 1 .2 1 .2 1 .9 1-.4 1 .4 1 .3 1 .2 1 0 1-.4 1-.1 1 .3 1 .2 1 .3 1 0 1 .6 1-.5 1 .9 1-.3 1-.5 1 .6 1-1.5 1 1.8 1-.3 1 0 1-.8 1 1.8 1-1.1 1 .1 1 .5 1-.4 1-.3 1 .7 1-.7 1 .8 1-.2 1 .4 1-.9 1 1 1-.3 1 .7 1-1 1 1 1-.4 1 0 1-.5 1 .5 1 .1 1-.6 1-.1 1 .2 1 .9 1-.5 1 .3 1-.2 1-.1 1 .1 1-.3 1 .7 1-.4 1 .1 1-.7 1 .7 1-.4 1 .1 1 .7 1-.9 1 .4 1 .4 1 .2 1-.7 1 .4 1 0 1-.6 1-.4 1 .1 1 1.1 1-.2 1-.6 1 .3 1 .1 1 0 1 .2 1 .9 1-1.2 1 .4 1-.4 1 .1 1-.1 1 .3 1-.1 1 .4 1-.1 1-.4 1 1.1 1-1.2 1 .6 1 .8 1-1.2 1 .8 1 .1 1-.4 1-.9 1 1.3 1-.5 1-.3 1 .8 1-.8 1 .7 1-.6 1 .4 1-.6 1 .3 1-.2 1 .1 1 .4 1-.2 1 .2 1 .4 1-.5 1-.7 1 .6 1 .2 1 .4 1 0 1 0 1-.5 1 .4 1-.9 1 1.2 1-.4 1 .1 1-.4 1 .2 1-.3 1 .6 1-.8 1 .9 1-.1 1 .6 1-.8 1 0 1 .1 1-.1 1 0 1-.4 1 0 1 .2 1 .2 1-.4 1 0 1 .4 1 .4 1-.4 1 .4 1 .1 1 0 1-.5 1 0 1-.6 1 .5 1 .5 1-.7 1 1 1 .1 1-.8 1 .6 1-1 1 .2 1 .2 1 .2 1-.1 1-.3 1 1.2 1-.7 1 0 1 .2 1-.2 1-.2 1-.1 1-.5 1 1.3 1-1 1-.3 1 .4 1-.4 1 1.5 1-.7 1 .5 1 0 1-.4 1 0 1-.5 1 .2 1-.2 1 .3 1-.3 1 .8 1-.2 1-.4 1-.6 1 1 1 0 1-.3 1-.5 1 .7 1 .2 1-1.2 1 1 1-1 1 .8 1 .7 1-.7 1 .2 1-.4 1 .2 1 .9 1-.4 1-.6 1-.1 1 .2 1 .9 1-.8 1 .3 1-.6 1-.3 1 1 1-.6 1-.2 1 0 1 0 1 0 1-.3 1 1.1 1-.4 1 .3 1-.6 1 .3 1-.1 1 .5 1-.2 1-.2 1-.4 1-.2 1 .2 1 0 1 .1 1-.3 1 1.2 1-.6 1-.9 1 .3 1-.1 1 .7 1 .3 1-.8 1 .6 1-.3 1 .5 1 .1 1-.4 1 .2 1-.3" stroke="#d35e28" stroke-width="1.2"/>
<path d="M54.0 237.2l1 7.8 1 6.7 1 4.7 1 3.7 1 3 1 2.5 1 2.1 1 1.9 1 1.8 1 .9 1 1.3 1 .4 1 .7 1 .9 1 .8 1 .1 1 .7 1 .4 1 .4 1 0 1 .3 1-.3 1 .8 1 .3 1 .7 1-.9 1 .4 1 .1 1 .9 1-1.2 1 .7 1 1.4 1-.4 1-.7 1 .6 1 .5 1 0 1-.3 1-.1 1 .7 1-.2 1 .4 1-.1 1-.3 1 .9 1-.7 1 .4 1-.4 1 .3 1 0 1-.1 1 .5 1 .5 1 .2 1-.1 1-.6 1 .8 1-.4 1 .6 1-1.2 1 1.2 1-.8 1 .8 1-.7 1 .6 1-.4 1-.6 1 .4 1 .4 1 .1 1-.9 1 .5 1 .2 1 .3 1 .2 1-.4 1-.3 1 .8 1-.2 1 .5 1-.5 1 .5 1-.6 1 .5 1-.1 1 .2 1-.5 1 .3 1-.3 1 .4 1 .3 1 1 1-1.2 1 .3 1-.2 1 .4 1-.2 1 .2 1-.2 1 .8 1-.4 1-1.2 1 .8 1 0 1-.9 1 .5 1 .2 1-.1 1 .4 1-.7 1 1 1 0 1-.1 1-.3 1 .2 1-.2 1 .7 1-.3 1 .6 1-.9 1 .8 1-.8 1 .1 1-.3 1 .7 1-.3 1 .3 1 .4 1-.6 1 .2 1 .2 1-.4 1-.2 1 .4 1 .1 1 .1 1 .1 1-.6 1 .4 1 .4 1-.7 1 .3 1-.3 1 .3 1 .6 1-.6 1-.4 1 .5 1 0 1 .3 1-.9 1 .2 1 .3 1-.6 1 1.1 1-1.2 1 .5 1-.3 1 .4 1 .6 1-.1 1 .1 1-.1 1-1 1 .9 1-.8 1 .5 1 .1 1-.1 1 .5 1-.6 1 1.1 1-.5 1 .3 1-.2 1 .1 1-.4 1 .8 1-1.2 1 .6 1-.1 1-.1 1 .2 1-.4 1 .6 1 0 1-.3 1 .3 1-.7 1-.3 1 .5 1 .1 1 1.1 1-1.1 1 .5 1-.1 1 .5 1-.8 1 .3 1-.4 1-.3 1 0 1 .1 1 .9 1-.5 1-.2 1 .1 1-.2 1 .2 1 0 1 .3 1 .1 1-1.1 1 .8 1 .4 1-.9 1 .3 1 .2 1 .3 1-.2 1-.3 1 .3 1 .2 1-.2 1 .5 1-.5 1-.6 1 .1 1 .2 1 0 1 .3 1-.1 1 .6 1-.4 1 .3 1-.9 1 .1 1 .5 1-.3 1 .2 1-.1 1-.4 1 1 1-.2 1-1.1 1 .3 1 .3 1 .3 1-.3 1-.5 1 .8 1-.4 1 .6 1-.4 1 .3 1-.1 1 .1 1-.6 1 .6 1-.3 1-.6 1 .3 1 .1 1 .3 1 .1 1-.7 1 .7 1-.3 1-.4 1 .7 1-.6 1-.2 1 .8 1 .1 1-.7 1 .7 1 0 1-.6 1 1 1-.8 1 .1 1-1.1 1 1.3 1-.5 1 .4 1-.9 1 1.2 1 .1" stroke="#edae26" stroke-width="1.2"/>
<path d="M54.0 237.2l1 7.8 1 6.7 1 4.7 1 3.5 1 3.2 1 2.5 1 2.3 1 1.7 1 1.6 1 1.1 1 1.1 1 .7 1 1 1 .7 1 0 1 1.1 1-.1 1 .5 1 .8 1 0 1 .4 1 .4 1 .1 1-.2 1 .1 1 .8 1 .2 1 0 1 0 1 .6 1-.3 1-.4 1 .8 1 .2 1 .2 1-.5 1 .1 1 .6 1-.2 1 .2 1 .5 1-.2 1 .7 1-.6 1 .7 1-.2 1 .7 1-1 1 .1 1 .6 1-.7 1 .1 1 .3 1 .2 1-.7 1 .7 1-.1 1 .1 1 .2 1-.1 1 .5 1-.1 1-.3 1 .2 1 .4 1 0 1 .2 1-.5 1 .1 1 .8 1-.7 1 .7 1-.3 1-.5 1-.3 1 .8 1-.5 1 0 1-.3 1 1.1 1-.4 1 0 1 .2 1 0 1 0 1 .2 1-.3 1-.9 1 1.3 1-.1 1-.1 1 .6 1-1.1 1-.6 1 1.8 1-.4 1-.8 1 .5 1 .4 1-.7 1 .7 1 .7 1-.3 1-.5 1 .1 1-.4 1 .4 1-.2 1-.2 1-.1 1 1.3 1-.7 1-.4 1 .2 1 .8 1 .1 1-.9 1 .3 1 .3 1-.4 1-.4 1 .1 1 .5 1-.3 1-.2 1 .4 1 .5 1-.1 1-.3 1 .8 1-1 1 .3 1-.5 1 .8 1-.3 1-.6 1 .3 1 1.1 1-.4 1-.3 1 .4 1-1 1 .3 1-.2 1 .2 1 .2 1 .4 1 .2 1 0 1 .7 1-1.2 1 .2 1 .2 1-.5 1 .2 1 .3 1-.5 1 .5 1 .3 1-.9 1-.4 1 .9 1-.4 1 .5 1-.2 1 .3 1 .3 1-.1 1-.5 1-.3 1-.5 1 .1 1 .6 1 .4 1-.3 1 0 1-.4 1 0 1 0 1 .9 1-1 1 1.1 1-.7 1 .6 1-.1 1 .2 1 .2 1-.8 1-.1 1 .2 1-.1 1 .6 1-.3 1 0 1 .2 1-.4 1 .6 1-1.1 1 .8 1 .1 1-.5 1 0 1 .7 1-.5 1-.7 1 .3 1 .9 1-.8 1 .9 1 0 1-.6 1 .3 1-.5 1 .1 1-.1 1 .5 1-.7 1 .4 1 .1 1 .2 1-1.1 1 .2 1 .3 1 .3 1 .1 1 .1 1 .7 1-.6 1 0 1-.4 1 .5 1 0 1 0 1-.4 1 .3 1 .4 1-.9 1-.6 1 1.2 1 0 1-.4 1-.1 1 1.3 1-1.3 1-.3 1 .3 1 .4 1-.5 1 .1 1 .3 1-.3 1 .2 1 0 1-.4 1 .4 1-.5 1 .9 1-.8 1 .3 1-.6 1 .5 1-.3 1 1.1 1-.7 1 .3 1-.9 1 .2 1 .4 1-.5 1 1 1-.6 1 .2 1 .1 1-.2 1 .4 1-.6 1 .4 1 .4 1-.4 1-.1 1-.2 1 .2 1 .2 1-.3 1-.6 1 .7 1-.1 1 .3" stroke="#74a043" stroke-width="1.2"/>
<path d="M54.0 240.4l1 2.5 1 2.2 1 2.2 1 2.2 1 1.9 1 2.1 1 1.8 1 1.5 1 2 1 1.7 1 1.3 1 1.1 1 1.8 1 1 1 1.2 1 .9 1 .2 1 .2 1 .8 1 .3 1 .1 1 .3 1 .7 1 0 1 .1 1 .1 1 .5 1 .2 1 .1 1-.2 1 .6 1 .1 1 .5 1 .6 1 .1 1 .1 1 0 1 0 1 .4 1-.2 1 .2 1-.1 1 .4 1 .1 1 .8 1-.4 1-.2 1 .4 1-.3 1 .6 1-.1 1 .8 1-1.3 1 .4 1 0 1 .2 1 .2 1-.6 1 .1 1 .4 1 .3 1-.7 1-.2 1 1 1-.1 1 .1 1-.7 1 .3 1 .2 1 0 1-.1 1 0 1 .4 1-.5 1 0 1 .1 1 0 1 .2 1-.1 1-.1 1 .7 1-.4 1-.2 1 .6 1-.6 1 .2 1 0 1-.1 1 .1 1 .2 1-.5 1 .3 1 .3 1 0 1 0 1 .7 1-.5 1-.2 1 0 1 .1 1 .1 1-.2 1 .6 1-.8 1 .6 1 0 1-.6 1 .6 1 0 1-.3 1 1 1-.5 1-.4 1 0 1-.1 1 .4 1 0 1-.5 1 .1 1 .2 1 .1 1 0 1-.1 1 .5 1 .1 1-.3 1-.7 1 .7 1 .3 1-.2 1 .1 1 0 1-.6 1-.3 1 1.1 1-.4 1 .4 1-.3 1 .1 1 .5 1-.8 1 .4 1-.4 1 .4 1 .2 1 .1 1-.2 1-.5 1 .6 1 .2 1 0 1 .4 1-.5 1-.5 1 .2 1 .2 1 .3 1-.7 1 .7 1-.1 1-.4 1 .5 1-.5 1 .3 1-.1 1 .2 1-.5 1 .6 1-.9 1 .6 1 0 1 .7 1-.3 1-.4 1-.1 1 .3 1-.2 1 1 1-1.7 1 1 1-.9 1 1.2 1-.6 1 .8 1-.7 1 .5 1-.3 1 .4 1-.4 1-1 1 .7 1-.2 1 .8 1-.1 1-.2 1 .1 1 0 1-.3 1 .8 1-.5 1-.2 1-.4 1 .3 1 .2 1-.1 1-.1 1 .2 1-.4 1 .4 1-.5 1 .2 1 0 1 .6 1-.2 1-.1 1-.4 1 .3 1 .4 1 .1 1-.9 1 .3 1 .2 1 .1 1-.1 1 .2 1-.7 1 1 1-.9 1 .4 1 .2 1 .2 1-.1 1 0 1 .1 1-.5 1 .3 1 .3 1-.8 1-.2 1 .2 1 .8 1-.1 1-.5 1 .2 1 0 1 .2 1-.9 1 .4 1 .1 1 .2 1-.1 1-.1 1 .2 1-1 1 1.9 1-.7 1 0 1-.5 1 .3 1 .6 1-.1 1-.6 1-.4 1 .4 1-.1 1 .4 1-.7 1 .3 1 .2 1-.3 1 .5 1-.7 1 0 1 .3 1 .4 1-.4 1-.1 1 .5 1-.2 1-.3 1 .2 1-.1 1 .3 1-.2 1-.3 1 .1 1 .1 1 .2" stroke="#1063a6" stroke-width="2.1" stroke-dasharray="5 2.8"/>
<path d="M54.0 240.4l1 2.4 1 2.3 1 2.3 1 2.1 1 2 1 2.1 1 1.7 1 1.8 1 1.6 1 1.5 1 1.6 1 1.4 1 1.4 1 1.3 1 1 1 .6 1 .6 1 .7 1 .6 1-.8 1 1.4 1 .5 1 .3 1 0 1 .4 1-.1 1 .3 1 .5 1-.3 1 .4 1 .5 1-.2 1 .7 1-.3 1 .8 1 .1 1 .1 1 0 1 .4 1-.4 1 .8 1 .3 1 .6 1-.4 1 .3 1 .6 1 .3 1-.6 1 .7 1 .2 1-.1 1-.4 1 .1 1 .7 1 .7 1-.8 1 .7 1 .2 1-.9 1 .3 1 .8 1 0 1-.1 1-.1 1 .3 1-.3 1 1.1 1-1.1 1-.1 1 .7 1 .5 1-.6 1 .2 1-.2 1 .3 1-.2 1 0 1-.1 1 .4 1 .8 1-.6 1 .1 1 .8 1-1 1 0 1 .5 1-.5 1 .5 1 .3 1-.7 1 .2 1 .8 1-.9 1 .2 1 .3 1-.1 1-.2 1 .9 1-.7 1 .3 1-.2 1 .1 1-.3 1 .8 1-.5 1 .6 1-.8 1 .3 1 .3 1 0 1-.3 1 .2 1-.3 1 .4 1-.9 1 1 1 .4 1-.1 1 0 1-.4 1 .3 1-.2 1 .1 1 0 1-1.1 1 1.5 1-.1 1 .1 1-.6 1 .6 1-.1 1-.9 1 .2 1 .6 1-.2 1 .3 1-.2 1 .7 1-1.1 1 .2 1 .1 1-.1 1 .3 1 .2 1-.5 1 .6 1 .4 1-.1 1 .3 1-.3 1-.3 1 .6 1-.4 1 .5 1-.7 1-.7 1 .4 1 .4 1 .2 1-.3 1 .5 1-.8 1 .2 1 .6 1-.3 1 0 1 .5 1-.1 1-.7 1 .4 1-.6 1 .5 1 .2 1-.7 1 1.1 1 .2 1-.5 1 .1 1 .2 1-.5 1 .4 1-.2 1-.7 1 .2 1 .2 1 .5 1-.3 1 .3 1-.5 1-.3 1 1.2 1 .2 1-.8 1-.2 1 .5 1-.8 1 .3 1-.4 1 .6 1-.1 1-.2 1-.1 1-.3 1 .3 1 .7 1-.6 1 .6 1-.7 1 .2 1-.1 1 .1 1 .3 1-.9 1 .9 1 0 1-.2 1 0 1-.1 1 .3 1-.2 1-.3 1 .3 1 .3 1-.2 1-.1 1 0 1-.2 1 0 1-.5 1 .6 1 .4 1-.5 1-.1 1 .6 1-.3 1 0 1 .1 1 .1 1-.3 1-.2 1 .8 1-.5 1-.3 1 .3 1 .4 1-.9 1 .9 1-.5 1 .7 1-.4 1-.3 1 .5 1 0 1-.6 1 .2 1-.2 1 .5 1-.8 1 .4 1-.7 1 1 1-1 1 .4 1 .4 1-.2 1 0 1-.2 1 .2 1-.4 1 .7 1 .1 1 0 1-.3 1 .5 1-.3 1 .2 1-.2 1-.1 1-.3 1-.6 1 1.1 1-.3 1 .7 1-1.3 1 .9 1-.6 1 .4 1-.3" stroke="#d35e28" stroke-width="2.1" stroke-dasharray="5 2.8"/>
<path d="M54.0 240.4l1 2.4 1 2.4 1 2.2 1 2.1 1 2.1 1 1.9 1 1.8 1 1.9 1 1.5 1 1.7 1 1.3 1 1.3 1 1 1 2 1 .7 1 1.1 1 .8 1-.2 1 1 1 .1 1 .5 1-.2 1 .7 1 .3 1 .7 1 .4 1-.3 1 0 1 1.1 1-.5 1 .3 1 .3 1 .3 1 .3 1-.2 1 .4 1 .8 1 .2 1-.2 1 .1 1 0 1 .7 1-.3 1 .4 1 0 1 .1 1 .5 1 .1 1 0 1 .4 1 .2 1 0 1 .1 1 .3 1 .4 1 .3 1-.2 1-.1 1 .2 1 .8 1-.3 1-.5 1 .4 1 0 1 .1 1-.3 1 .6 1-.4 1 .4 1 .7 1-.1 1-.5 1 0 1 .1 1-.3 1 .4 1 .2 1-.2 1 .7 1-.2 1-.2 1 .8 1-.3 1-.1 1 .6 1-.1 1-.7 1 .4 1-.2 1-.3 1 1.1 1-.1 1-.8 1 .6 1-.7 1 .9 1-.3 1-.1 1 .6 1-.4 1 0 1 .4 1-.4 1 .4 1-.2 1 .3 1-.1 1 .1 1-.6 1 1 1-.6 1 .6 1-.7 1 .1 1 0 1 .5 1-.5 1 .3 1-.6 1 .4 1 .2 1-.1 1-.5 1 .8 1-.5 1 1 1-.7 1 .9 1-.6 1 0 1-.3 1 .1 1 .2 1-.7 1 1 1-.8 1 .4 1-.8 1 1 1 .2 1-.2 1 0 1-.2 1 .2 1 .4 1-.6 1 .4 1 .1 1-.3 1 .1 1 0 1-.2 1 1 1-.9 1 .7 1-.2 1-1 1 .7 1 .3 1 0 1-.6 1 .4 1-.5 1 .1 1 .3 1 .1 1 .5 1-.4 1 .3 1-.8 1 0 1 .3 1 .7 1-1 1-.1 1 .5 1 .5 1-1 1 .5 1-.4 1 1 1-.3 1-.1 1-.1 1-.1 1 .2 1-.3 1-.1 1 0 1 .3 1-.2 1 .5 1-1 1 .9 1 0 1 .2 1-.5 1-.4 1 .2 1 .7 1-.5 1 0 1-.1 1 .2 1 0 1-.5 1 .3 1 .6 1 .1 1-.5 1-.1 1 .6 1-.5 1-.4 1 .4 1 .3 1 .3 1-.7 1 .3 1-.3 1 .5 1-.3 1 0 1-.4 1 .2 1 0 1-1.1 1 1.5 1-.3 1 0 1-.1 1 .1 1 .1 1-.5 1 .5 1 0 1-.1 1-.5 1 .5 1-.4 1 .6 1 .3 1-.2 1-.4 1-.1 1 0 1 .4 1-.4 1 .1 1-.7 1 .5 1 .1 1 0 1 .6 1-.8 1 0 1 .6 1-.5 1 .3 1 .1 1-.1 1-.2 1 .5 1 .2 1-.8 1 .2 1 .5 1-.4 1-.3 1 .2 1 .4 1-.6 1 .4 1 .1 1-.4 1 .4 1 .1 1 .1 1-.1 1-.8 1 .8 1-.1 1 .2 1-.7 1 .6 1-.1 1-.6 1 .9" stroke="#edae26" stroke-width="2.1" stroke-dasharray="5 2.8"/>
<path d="M54.0 240.4l1 2.4 1 2.4 1 2.1 1 2.2 1 2 1 2 1 1.9 1 1.6 1 1.8 1 1.6 1 1.2 1 1.7 1 1.4 1 1.2 1 1.3 1 .8 1 .4 1-.1 1 .9 1 .3 1 .3 1 .5 1 .1 1 .9 1-.2 1 .1 1 .5 1 .3 1 .4 1 0 1 .1 1 .3 1-.6 1 .5 1 1 1-.2 1 .9 1 .2 1-.8 1 .7 1 1.1 1-1 1 .6 1 0 1 .2 1 .1 1 .3 1 .5 1-.3 1 .6 1-.2 1 .5 1 .1 1-.2 1 .4 1-.2 1 .1 1 .8 1-.9 1 .9 1 .2 1-.4 1 .7 1 0 1-.6 1 .7 1 .1 1-.4 1 .6 1 .1 1-.4 1-.4 1 .9 1-.4 1-.2 1 .5 1-.7 1 .8 1 .6 1-1.4 1 1.2 1-.5 1 .3 1-.2 1 .6 1-.2 1-.2 1-.2 1 .4 1 .6 1-.8 1 .6 1 0 1-.8 1 1.1 1-.3 1 .8 1-.2 1-.6 1 .1 1-.3 1-.1 1 .8 1-.4 1 0 1 .1 1 .3 1 .2 1-.3 1-.1 1 .2 1 .7 1-1.4 1 .3 1 .6 1-.1 1 .4 1 0 1 .3 1-.9 1 .5 1-.3 1 .4 1-.2 1 .2 1-.5 1 .3 1-.2 1 .1 1 0 1-.2 1 .8 1-.3 1 .3 1-.7 1-.3 1 .4 1 .2 1 .4 1 .1 1 0 1 .2 1-.3 1-.2 1-.3 1 .5 1-.4 1-.1 1 .5 1-.1 1 .3 1-.6 1 .7 1-.3 1-.2 1-.1 1-.1 1-.1 1 .9 1-.9 1 .7 1-.3 1-.1 1 0 1 .2 1 .3 1-.1 1-.2 1-.4 1-.1 1 1.2 1-1 1-.1 1 .9 1-.9 1 .8 1 0 1-.2 1 .3 1-.8 1 0 1 .4 1 .1 1 0 1 .1 1-.4 1-.4 1 .8 1-.2 1 .4 1 .4 1-.6 1 .1 1-.5 1 .7 1-.2 1 0 1 .2 1-.7 1 .6 1 0 1 .3 1-1.1 1 .6 1 .8 1-.9 1 0 1 .8 1 .2 1-.8 1-.3 1 .1 1 0 1-.1 1 0 1 .4 1-.1 1 .2 1-.2 1-.4 1 .7 1-.2 1-.3 1 .1 1 .3 1-.1 1-.1 1 .3 1 .1 1-.4 1 .1 1-.4 1 .3 1 .3 1 .1 1-.2 1-.1 1-.2 1 .3 1-.4 1 .4 1-.1 1-.3 1 .5 1-.2 1 .3 1-.4 1 .3 1 .4 1-.5 1 .3 1-.5 1 .1 1-.5 1 .6 1-.4 1 .5 1-.8 1 .4 1 .4 1 .1 1-.7 1 .4 1 1 1-.6 1-.2 1-1 1 .6 1 .5 1-.1 1 .1 1 .2 1-.3 1 .3 1-.9 1 1.4 1-.9 1-.1 1 .7 1-.3 1 .1 1-.5 1 .3 1 .1 1-.6 1 .3 1 0 1 0" stroke="#74a043" stroke-width="2.1" stroke-dasharray="5 2.8"/>
<path d="M54.0 230.6l1 1.1 1 1.3 1 1.3 1 1.4 1 1.3 1 1.4 1 1.4 1 1.9 1 1.8 1 2 1 1.6 1 1.2 1 .7 1 1 1 1.3 1 .7 1 1.3 1 .3 1 .5 1 .8 1 1 1-.2 1 1 1-.2 1 .9 1 .3 1 .9 1 .3 1 .9 1 .2 1-.1 1 .2 1 .6 1 .5 1 .5 1 .1 1 1.1 1 .3 1-.2 1 .3 1 .4 1 .3 1 .3 1-.4 1 .8 1-.4 1 1 1 .5 1-.5 1 .7 1-.1 1 .2 1 1.2 1-.3 1 0 1-.2 1 .5 1-.1 1 .4 1-.4 1 .4 1 .1 1-.3 1 1.3 1-.2 1-.5 1-.2 1 .4 1 .1 1 .1 1-.2 1 .3 1 .4 1 .3 1-.9 1 .8 1-.3 1 0 1 .4 1-.1 1 .6 1 0 1-.3 1-.1 1 1 1 .1 1-.5 1-.2 1 .5 1 .2 1-.7 1 .9 1-.7 1 .6 1-.6 1 .2 1-.1 1 .2 1 .4 1-.7 1 .3 1 .4 1-.4 1 1 1-1.3 1 1.6 1-1.2 1 .7 1 .3 1-.4 1-.8 1 .5 1 .2 1 .2 1 .2 1 .1 1 .2 1-1 1 .8 1-1 1 .7 1-.4 1-.3 1 1.1 1-.3 1 .4 1-1 1 .2 1 .4 1-.2 1 .4 1-.3 1 .1 1-.3 1 1 1-.6 1-.3 1 .7 1 0 1-.1 1 0 1-.2 1 .1 1-.8 1 .3 1 .1 1 .6 1 .4 1-.5 1-.1 1 .6 1-.6 1 .4 1 0 1-.7 1 .7 1-.1 1-.5 1 .1 1-.1 1 1 1 .3 1-.5 1 .4 1-1.2 1 1.1 1 .3 1-.2 1-1 1 .8 1-.4 1 .5 1-.7 1 .2 1-.2 1 .4 1-.2 1 .5 1-.1 1-.1 1-.2 1-.1 1 .1 1 .3 1-.2 1 0 1-.1 1 0 1-.2 1-.5 1 1 1 0 1-.7 1 1.2 1-1.2 1 .8 1-.3 1 .1 1 .3 1-.1 1-.4 1-.4 1-.1 1 .6 1 .6 1-.3 1-.4 1 .2 1 .1 1 .4 1-1 1 .6 1-.2 1-.4 1-.1 1 .9 1-.3 1-.3 1 .2 1 .3 1-.3 1 .6 1-.8 1-.2 1 .3 1-.3 1 .2 1 .6 1 .2 1-.4 1-.2 1-.4 1-.1 1 .6 1-.1 1-.3 1 .1 1 .8 1-.3 1-.3 1 0 1 .4 1-.3 1-.1 1-.7 1 0 1-.1 1-.2 1 .9 1 .2 1-.5 1 .5 1 0 1-.2 1-.6 1 1.2 1 0 1-.8 1 1 1-.7 1-.4 1 .2 1-.6 1 .6 1-.5 1 1.1 1-.3 1-.7 1 .8 1-1 1 .8 1 .1 1-.1 1-.5 1 .4 1 0 1 .1 1 .5 1 .1 1 0 1-.9 1-.1 1 .3 1 .2 1-1 1 .6 1 .9 1-1.2" stroke="#1063a6" stroke-width="1.9" stroke-dasharray="1.4 1.4"/>
<path d="M54.0 230.6l1 1.1 1 1.3 1 1.2 1 1.4 1 1.3 1 1.6 1 1.5 1 1.6 1 1.9 1 1.8 1 1.2 1 1.2 1 1.3 1 1.1 1 .5 1 1.4 1 1.2 1 .4 1 1.1 1-.6 1 1.5 1 1.1 1 .7 1-.3 1 .4 1 1 1-.2 1 .9 1-.1 1 1.2 1 .4 1 1.1 1 0 1 0 1 .6 1-.1 1 1 1 .2 1 .7 1 .5 1-.8 1 1.2 1 .5 1-.5 1 1.6 1-.8 1 1.5 1-.4 1 .4 1-.1 1 .6 1-.6 1 .3 1-.3 1 1.2 1-.3 1 .7 1 .1 1-.6 1 1 1-.1 1 .2 1 .2 1 0 1 .1 1 .6 1-.7 1 0 1 .3 1 .8 1-.4 1 1 1-1.9 1 1 1 .2 1 .4 1 .5 1-.5 1-.3 1 .9 1 .3 1-1.5 1 1.3 1 0 1-.4 1 .2 1 .4 1-.1 1 0 1-.3 1 .7 1-.3 1 .3 1-.2 1 .4 1 .3 1-.1 1 .2 1-.8 1 .8 1 0 1-.3 1 .3 1-1 1 1.2 1-.2 1-.6 1 1.1 1-.4 1 .4 1-.1 1 .3 1-.1 1-.1 1 .4 1 .2 1-1.2 1 1 1-.2 1-.2 1 1 1-.1 1-.7 1 0 1 .8 1-.5 1 .1 1-.6 1 .8 1 .5 1-.6 1 .2 1 .8 1-.3 1 .2 1-.3 1 .3 1-1.1 1 .4 1-.3 1 1.5 1-.7 1-.1 1-.3 1 0 1-.7 1 2 1-.9 1 .1 1-.6 1 .6 1 .2 1-.1 1 .3 1-.6 1 .5 1 .3 1-.1 1-.1 1-.2 1-.3 1 .7 1-.4 1-.2 1 .7 1-.9 1 .4 1 .6 1 .1 1-.5 1 .2 1 .2 1-.2 1-.3 1 .5 1-.1 1 0 1 .4 1-.3 1-.3 1 .3 1 .7 1-1.1 1 .2 1-.2 1 .5 1-.6 1 .7 1 .1 1-.6 1-.1 1-.2 1 .6 1-.5 1 .2 1 .1 1-.1 1 .6 1 .3 1-1.5 1 .6 1 .4 1-.5 1 .2 1 .3 1 .4 1 0 1-.6 1 .1 1-.2 1 .1 1-.4 1-.2 1 .5 1 .6 1-.1 1-1.1 1 .7 1-.2 1 .4 1-.6 1 .9 1-.5 1 .3 1 .1 1-1.1 1 .7 1 .7 1-.6 1 .4 1-.2 1-.4 1 .3 1 .3 1 .1 1 .1 1-1.1 1 .8 1-.9 1 .5 1 0 1 .3 1-.1 1 .4 1-.8 1 .6 1-.2 1-.1 1-.5 1 .7 1-.1 1 .2 1-.3 1-.1 1 .2 1 .1 1 .1 1 .4 1-1 1 1.1 1-2 1 1.6 1-.7 1 1.1 1-1.2 1 .8 1-.8 1-.1 1 .8 1 0 1-.6 1 1.2 1-1 1 .7 1-1 1 0 1 .4 1-.4 1 .6 1-1.1 1 1 1-.3 1-.2 1 .5 1-.2 1-.1 1 .5 1-.2" stroke="#d35e28" stroke-width="1.9" stroke-dasharray="1.4 1.4"/>
<path d="M54.0 230.6l1 1.2 1 1.2 1 1.3 1 1.3 1 1.4 1 1.5 1 1.4 1 1.6 1 1.8 1 1.8 1 1.7 1 1.2 1 1.2 1 1.2 1 1.1 1 1 1 .3 1 1 1 .8 1 .1 1 1 1 .2 1 .8 1 .8 1-.3 1 .8 1 .5 1 .8 1 .2 1 .9 1 0 1 .6 1 .9 1 .3 1 .3 1 .3 1 .8 1 .6 1-.4 1 .2 1 .3 1 1.4 1-.8 1 .2 1 .9 1 .6 1-.7 1 .7 1-.2 1 .5 1 1.2 1-.4 1 .1 1 .3 1 .3 1 0 1-.2 1 .2 1 1.4 1-.9 1 1 1-.6 1 .9 1 0 1-.2 1 1 1-1 1 .4 1-.1 1 .2 1 .3 1-.1 1 .3 1 .9 1-1.2 1 .3 1 .2 1 .3 1 .6 1 0 1 0 1 0 1 1 1-1.3 1 0 1 .6 1 .2 1-.1 1-.2 1-.1 1 .5 1-.1 1 .2 1-.2 1 1.1 1-.3 1 .6 1-.8 1 .3 1-.1 1 .2 1 0 1 .1 1-.7 1 .8 1 .4 1-.9 1 .7 1 .4 1 .3 1-.4 1 .3 1 .5 1-.1 1-.6 1 0 1 .7 1-.3 1-.2 1 .1 1 .3 1-.1 1 0 1 0 1-.4 1 1.3 1-.1 1 .1 1-.6 1 .1 1 .3 1 .1 1-1 1 .9 1-.5 1 .4 1-.2 1 .9 1-.4 1-.2 1 .6 1-.6 1-.2 1 .2 1 0 1 .1 1 .4 1-.4 1 0 1 .5 1-.3 1 .3 1-.3 1-.6 1 .1 1-.2 1 1.1 1-.2 1-.4 1-.2 1 .6 1-.2 1 .2 1-.5 1-.1 1 1.1 1-1 1 .4 1 .6 1-1.3 1 1 1-.2 1-.1 1 .2 1-.6 1-.4 1 1.7 1-.9 1 .5 1 .1 1-.4 1 .1 1 .1 1 .4 1-.5 1 .3 1-.6 1 0 1 .2 1 .1 1 .1 1 .5 1-.4 1-.3 1 .7 1-.6 1 0 1 .1 1-.4 1-.3 1 .5 1-.2 1-.2 1 .4 1-.1 1-.2 1-.4 1 .6 1 .8 1-.4 1 .1 1-.4 1 .4 1-.7 1 .1 1 .4 1-.8 1 .6 1 .1 1 .5 1-.9 1 .4 1-.4 1 0 1-.8 1 .7 1 .8 1-.2 1-.2 1 .9 1-.7 1-.7 1 .4 1 0 1 .7 1-1 1 .5 1 .2 1-.7 1 .4 1-.8 1 .8 1-.9 1 .7 1 .8 1-.5 1-.1 1 0 1 .8 1-.6 1 .2 1-.6 1 0 1-.3 1 .4 1-.2 1 .7 1-.2 1-.3 1-.2 1-.9 1 .9 1 .4 1 .1 1-1.5 1 .3 1 1 1-.4 1 .3 1-.1 1 .4 1-1 1 .5 1 .6 1-.3 1-.4 1 .5 1 0 1-.5 1 .6 1 0 1-.3 1 .4 1-.8 1 .8 1-.4 1-.3 1 .1" stroke="#edae26" stroke-width="1.9" stroke-dasharray="1.4 1.4"/>
<path d="M54.0 230.6l1 1.1 1 1.3 1 1.2 1 1.3 1 1.6 1 1.5 1 1.5 1 1.7 1 1.8 1 1.6 1 1.4 1 1.2 1 1.7 1 .7 1 .9 1 .9 1 1 1 .5 1 .9 1 .7 1 1 1-.3 1 1.1 1 .1 1 .7 1 1.3 1 .1 1 .1 1 .8 1 .3 1 .9 1-.2 1 .8 1 .2 1 .5 1 .3 1 .2 1 .7 1 .7 1-.3 1 .4 1 .6 1-.1 1 .9 1 .3 1-.9 1 .9 1 .1 1 1 1 .3 1-.6 1 .4 1 .4 1 .1 1 .7 1 .3 1 0 1 .4 1 .1 1-.2 1 0 1 .1 1 .7 1 .2 1 .2 1-.3 1 .1 1 .4 1 .5 1-.2 1 .1 1-.3 1 .6 1 .2 1-.5 1 1.2 1-1 1 .8 1-.3 1 .2 1-.2 1 .1 1 .6 1-.2 1 0 1 .6 1 0 1-.1 1 .1 1 .7 1-.7 1 .3 1 .1 1-.6 1-.1 1 .9 1 .4 1-.2 1-.2 1 0 1 .7 1-.4 1-.4 1 1 1-.1 1 .1 1 .3 1 .2 1-.2 1-.2 1-.7 1 1 1-.1 1 .6 1 .1 1-.3 1 .4 1-.5 1 .1 1-.3 1 .3 1 .3 1 .4 1-.7 1 .7 1 .6 1-1.4 1 .5 1 .2 1 .4 1 .4 1-.2 1-.5 1-.2 1 .3 1 .1 1 .1 1-.4 1 1 1-.9 1 .6 1-.1 1-.5 1 .5 1 0 1-.1 1 .5 1-.5 1 1.2 1-.5 1-.8 1-.6 1 1.5 1-.4 1 0 1-.4 1-.2 1-.1 1 1.8 1-.4 1-.8 1 .9 1-1.4 1 1 1 0 1-.6 1 .2 1-.2 1 .5 1 .5 1-.1 1-.2 1 .3 1-1.2 1 1.5 1-.8 1-.4 1 .3 1 0 1 .3 1 .1 1-1.1 1 1.5 1 .2 1-1.1 1 1 1-.1 1-.1 1 .3 1-1.2 1 .9 1-.7 1 1.4 1-1.4 1 0 1 .9 1-.2 1-.2 1 0 1 .2 1 .5 1-1 1 .1 1 0 1 .2 1 .1 1-.5 1 .6 1-.6 1 .4 1 0 1 .1 1 .7 1 0 1-.2 1 .2 1-.7 1 .7 1-.6 1 .2 1 0 1-.6 1 .3 1 .1 1 .3 1-.2 1-.3 1-.1 1 .5 1-.5 1 0 1 .5 1 .1 1-.4 1-.4 1 .9 1 .2 1-.5 1 0 1-.7 1 1.3 1-.8 1 .7 1-.5 1 .2 1 0 1-.7 1 1.9 1-1.7 1 .6 1-.3 1 .2 1 .7 1-1.3 1 .7 1 .2 1-.1 1 .1 1-.4 1-.4 1 .2 1 .3 1 .5 1-.3 1 .7 1-.6 1 0 1 0 1-.7 1 .9 1-.7 1 .3 1 1.1 1-1.4 1 .5 1 .1 1-.1 1 0 1-.2 1 1 1-1.6 1 .4 1 1 1-.4 1-.5 1 0 1 .2 1 1.2" stroke="#74a043" stroke-width="1.9" stroke-dasharray="1.4 1.4"/>
<path d="M404.7 110.0l1-4.5 1-2.2 1-1.1 1-.5 1-.7 1-.5 1-.7 1-.1 1-.8 1-.4 1-.6 1-.1 1 0 1-.5 1 .8 1-1 1-.5 1 .5 1-.8 1 .3 1-.4 1-.4 1 1 1-.8 1 .6 1-1 1-.7 1 .1 1 .4 1 .1 1 .1 1 .2 1-1 1 .8 1-.9 1 .3 1 1.9 1-.8 1-1 1 1.2 1-.2 1-.4 1 .4 1-1.1 1 .1 1-.5 1 .9 1-1.1 1 .4 1 .6 1-.6 1 .6 1 .9 1-1.7 1 1.5 1-1.3 1-.1 1 .7 1 .5 1-1 1 0 1 .3 1-.2 1 .6 1-.5 1 .3 1 .4 1-.4 1 1 1-1 1-.1 1 1.8 1-.3 1-.8 1 .5 1-.2 1-.5 1 .8 1-.2 1 .6 1-1.8 1 1.6 1-.3 1-.5 1 .2 1 .1 1-.5 1 .5 1 .8 1-1.3 1 .7 1-1.2 1 1.1 1 .7 1-.3 1 .1 1-.7 1 1.1 1-.9 1 1.1 1-.4 1-.3 1 1.1 1-1.1 1 .9 1-.5 1-.1 1 .6 1-.3 1-.2 1-.1 1 .2 1 0 1-.2 1-.5 1-.9 1 1.5 1 0 1 .9 1-.5 1 .5 1 .3 1-1 1-.5 1 1 1-.8 1 .2 1 1.1 1-.6 1 .4 1-1.5 1 .9 1 .6 1-1.4 1 .9 1 .1 1-1.6 1 2.4 1-1.4 1 .4 1 1.1 1-2.1 1 1.4 1-.6 1 .3 1-.5 1 1.3 1-1.4 1 .9 1 .1 1-.4 1-.1 1 0 1 .8 1-.4 1-.3 1-.6 1 .8 1 .2 1-.3 1 .9 1-2 1 2.6 1-1.6 1-.6 1-.3 1 1.6 1-.2 1-.5 1 .1 1 .2 1-.4 1 1 1-.3 1-.5 1-.9 1 1.8 1-1.1 1-.3 1 1.4 1-.5 1-1.5 1 .2 1 .8 1-.5 1 .7 1 1.6 1 .3 1-1.9 1 .6 1 0 1-.6 1-.8 1 1.6 1-.8 1 .4 1 .2 1-.9 1 1.5 1-.9 1 .1 1-.4 1 .7 1 .2 1-.9 1 .7 1-.6 1-.5 1 .6 1 .6 1-.1 1 .4 1-1 1 .2 1 .3 1 .3 1-.4 1-.5 1-.3 1 1.6 1 0 1-1 1 1.3 1-.9 1 .3 1 .5 1-1 1-.1 1-.6 1 1.3 1 .1 1 .3 1-.2 1-.3 1 .7 1-1.3 1 .9 1 .1 1-.4 1 1.2 1-.8 1 .6 1-.3 1-.6 1 1.3 1-.5 1-.6 1-.1 1-.5 1 .6 1-.1 1 .3 1-.3 1 .6 1-.4 1-.9 1 .7 1-.2 1-.2 1 .6 1 .8 1-1.2 1-.6 1 1.2 1 1.9 1-2.1 1 .5 1-.4 1 .8 1 .4 1-1 1 .9 1-1.4 1 .8 1-.8 1 .9 1-.5 1 .6 1-.8 1 .8 1-.1 1-.3 1-.2 1-.2 1 .5 1 .5 1-.3 1 .2" stroke="#1063a6" stroke-width="1.05"/>
<path d="M404.7 110.0l1-5.2 1-2.7 1-1.4 1-1 1-.9 1-.9 1-.6 1-1.1 1-.8 1-.3 1-.1 1-.3 1-.6 1 .1 1-.2 1-.3 1 .1 1-.2 1-.3 1 .7 1-1.1 1 .8 1 .4 1 0 1-1.1 1-.3 1-.9 1 .9 1 1.4 1-2.4 1 0 1 1.4 1-.2 1-1.5 1 1 1 .3 1-1.2 1 1.5 1-1.4 1 1.4 1-.5 1-.6 1-.6 1 .8 1 .1 1 0 1-.3 1 .2 1 .7 1-1.1 1 .5 1 .4 1-.3 1 .5 1 .5 1-1.1 1 .3 1-1.8 1 1.5 1 .7 1-1.1 1 1.5 1-1.9 1 2 1-1.1 1-.2 1 .3 1 .2 1-.4 1-.2 1 .6 1 .9 1-.3 1 .7 1-1.2 1 .2 1 .1 1 .3 1 .3 1 .8 1-.6 1-.3 1 .8 1-1.3 1-.2 1 1.2 1-.3 1 0 1 .6 1-.8 1 .2 1 .3 1 .2 1 .2 1-.4 1 .1 1-1.6 1 2.2 1-1.7 1 1 1 1.5 1-1.7 1-.7 1 1.9 1-1.3 1 .3 1 0 1 .6 1 0 1-.5 1 .7 1-1.2 1 1 1-.8 1 .9 1-.8 1 .1 1 1.2 1-1.6 1 0 1 1.1 1-.5 1-.1 1 .2 1 1.4 1-1.9 1 .4 1 .3 1-.6 1 .5 1 .3 1-.8 1 1.3 1-1.4 1 .6 1 .3 1 1.7 1-2.9 1 1.2 1 1.4 1-1.9 1 1 1-.5 1-.9 1 1.1 1-.8 1 .6 1-.9 1 1.3 1-1.9 1 1.4 1 .9 1-.5 1-.5 1 .1 1-.1 1 1.9 1-1.7 1 .1 1-.4 1 .1 1 .7 1-.7 1-.2 1 .2 1 .1 1 .4 1-.4 1 .2 1-.4 1 1.2 1-.6 1-.3 1 .4 1-.2 1-.9 1 .9 1 1.1 1-.7 1 .4 1-1.1 1-.5 1 .5 1 1.2 1-1.4 1 .2 1 1.1 1-.8 1 .1 1 .3 1-.1 1-.3 1 .4 1-.6 1 .4 1 .5 1-1 1 .5 1-.6 1 1.2 1-.1 1 .2 1 .1 1 0 1-.2 1-.9 1 1.1 1-1.1 1 1.9 1-1.2 1 .2 1-1.1 1 1.4 1 .1 1-1.6 1 .6 1 .1 1-.1 1 1.2 1 .5 1-1.9 1 1.3 1-.8 1 1 1-2.3 1 1.2 1 1 1-1.1 1 1.1 1-1 1 1.1 1-.4 1-.6 1-.1 1 .3 1 .9 1-.7 1-.4 1 2.4 1-2.9 1 .8 1 .5 1-.9 1 .6 1-.2 1-.6 1 1.2 1-1 1 .3 1 1.2 1-1.4 1 1.1 1 .4 1-.1 1-.3 1-.4 1-.7 1 1 1 .2 1-.6 1-.2 1 1.1 1-1.1 1 .9 1-.5 1-.7 1 2 1-.5 1 0 1-1.2 1 .8 1 .3 1-.6 1 1.5 1-2.2 1 1.7 1-1.5 1 .2 1 .2 1 1.2 1-.8 1 .1 1-.1 1-.3 1 .4 1 0 1 .4 1 0" stroke="#d35e28" stroke-width="1.05"/>
<path d="M404.7 110.0l1-5.6 1-2.7 1-1.4 1-.9 1-1.1 1-1 1-1 1-1.2 1-.7 1-1 1-.1 1-.8 1 .4 1-.1 1-1.1 1 .7 1-.6 1 .5 1-.9 1 0 1-.1 1 .7 1-1.8 1 1.4 1-.4 1-.4 1 .1 1 .6 1-.1 1 .5 1-1.4 1-.8 1 .7 1 .2 1-.2 1 1 1 .6 1-1.2 1-1.3 1 1.7 1-1.1 1 .4 1 .5 1-.3 1-.3 1 .2 1 .3 1-.1 1 .9 1-3 1 1.3 1 .1 1 .9 1-.4 1 .4 1-1.3 1 .8 1 .5 1-.4 1-.2 1 .5 1 .8 1-2.2 1 2.3 1-.8 1-.6 1 1 1-.4 1 .8 1-1.2 1 1.1 1-1 1 .7 1 .3 1-.4 1 .5 1-.7 1 1 1-.8 1-.1 1 .4 1 .1 1-.4 1 1 1-.5 1 .5 1-1.2 1 .1 1 .7 1-.4 1 .5 1 .5 1 .4 1 .2 1-.4 1-.8 1 .7 1-.6 1 .7 1-.9 1 1.4 1-.5 1-.4 1-.6 1 1 1-.5 1 .5 1-.5 1 .1 1 .7 1 .6 1-1.7 1 .7 1 .4 1-.3 1-.2 1 1.6 1-1.8 1 .8 1-.5 1 .2 1-1.3 1 2 1-.7 1-.4 1 1.6 1-1.2 1-.1 1-.2 1 1.2 1-.6 1-.2 1-.6 1 .3 1 .8 1-.2 1-1.2 1 .7 1 .7 1 1.5 1-2.1 1-.8 1 1.8 1-.8 1-.5 1 1.2 1-.5 1-.4 1-.2 1 .7 1 .2 1-1.1 1 1.7 1-1.4 1 1.6 1-.6 1-.3 1 .3 1-.5 1 .3 1 1.1 1-1.3 1 .8 1-1 1 .5 1 .6 1-1.3 1 1 1-1.5 1 .6 1 .5 1 .8 1-.1 1-1 1 .5 1 .2 1-1 1 1.2 1 .5 1 0 1-1.1 1 .1 1-.3 1 .3 1 .2 1 .5 1-.3 1-.6 1 1.1 1 0 1-.8 1 .2 1 .1 1-.9 1 1.1 1 .3 1 .8 1-1 1-.3 1 .1 1 .5 1 .1 1-1 1 .7 1 .3 1-1.6 1 2 1-.9 1 .7 1-.5 1-.1 1 .1 1 .2 1 .4 1-.7 1-.5 1 .3 1-.1 1 1 1-1 1 1.5 1-.8 1-.1 1 .9 1-1 1 .1 1 .6 1 0 1-1 1 2.1 1-1.1 1-1.1 1 .7 1 .7 1-.4 1 .4 1 .9 1-.8 1 .6 1-.7 1-.8 1 1.3 1-1.3 1 1 1-.1 1-.9 1 .1 1 .4 1 .3 1 .6 1-.7 1 1.1 1-.6 1-.9 1 .1 1 .4 1-.3 1 .3 1 .5 1-.2 1 .4 1-1 1 0 1-.3 1-.2 1 .8 1 .3 1-.1 1 .2 1 1.2 1-1.8 1 .5 1-.1 1-.2 1 1.3 1-.8 1 .8 1-1.4 1 1.9 1 .2 1-1.8 1 .5 1 0 1 .4 1-1 1 1 1 .2 1-.7" stroke="#edae26" stroke-width="1.05"/>
<path d="M404.7 110.0l1-5.7 1-2.8 1-1.3 1-1.1 1-1.1 1-.9 1-1.1 1-1 1-1.1 1-.6 1-.7 1-1 1 .3 1 0 1-.4 1 .3 1-.9 1 .3 1-1 1 .5 1-.4 1-.4 1-.2 1 .7 1 0 1-.7 1-.4 1 .1 1 .9 1-1.3 1 1.3 1-1.8 1 1.1 1 .2 1 .2 1-1.1 1-.2 1-.5 1 1.3 1-.7 1-.2 1 0 1 .3 1-.1 1 .6 1-2 1 1.8 1-.9 1 .3 1-.1 1 .1 1 .5 1-.3 1-1 1 .9 1 0 1 .3 1-.2 1-.1 1 .7 1-1.2 1 2 1-1.7 1-.2 1 1.1 1 .2 1 .2 1 .1 1-.5 1-.3 1 .3 1-.2 1-.3 1 1.3 1 .2 1-1.1 1-.1 1-.1 1-.7 1 .7 1 .1 1 .3 1-.5 1-.5 1 1.5 1 .7 1-2.3 1 1.3 1 .6 1-1.2 1-.1 1 .9 1-.1 1-.2 1 1.4 1-.1 1-.5 1-.4 1-.1 1 .7 1-.6 1 1.1 1-.2 1-1 1 .8 1 .5 1-.5 1-.9 1 .4 1 0 1 .3 1 0 1-.2 1 .7 1 .4 1-1.2 1-.5 1 1.2 1-.2 1 .2 1-.6 1 .6 1-.7 1 1.3 1 .3 1-1.5 1-1 1 1.3 1 0 1 .5 1-.1 1 .3 1 1.4 1-2 1 .2 1 .5 1-1.4 1 1.6 1-.8 1-.5 1 .4 1 .8 1 .3 1 .2 1-.4 1-.7 1 .8 1-.4 1 1.5 1-2.7 1 2.3 1-.5 1-.2 1-.3 1-.3 1-.2 1-.4 1 2.2 1-.6 1-.2 1-.1 1-1.4 1 1 1 .3 1 .6 1-1.3 1 .8 1-.3 1 .2 1-.5 1 .7 1-.2 1-1.1 1 1.8 1 .6 1-1.8 1 1.2 1-1.2 1 .3 1 1.3 1-.9 1 .8 1-.7 1 .4 1-.7 1 1 1 .2 1-.6 1-.8 1 .2 1-.4 1 1 1-.1 1-.7 1 1 1-.9 1 1.5 1-.6 1 .5 1-1.4 1-.2 1-.5 1 1.5 1-1 1 1.5 1-.7 1 .4 1-1.3 1 .5 1 .4 1 .4 1-1.2 1 1 1-.7 1 1 1-.6 1-.1 1 .5 1 .4 1-.8 1 .9 1-1.3 1 .7 1-.8 1 .8 1-.7 1 .6 1 .4 1-1 1-.4 1 .9 1 .4 1-.1 1-.7 1 1 1-.6 1 .6 1-1 1 .8 1 .4 1-1.1 1 .3 1 .5 1 0 1-.1 1-.3 1-.9 1 .9 1-.7 1 .8 1-1.5 1 2.3 1 .3 1-.9 1-.8 1 .4 1 .7 1-.2 1-.8 1 1.2 1-.3 1-.1 1-.6 1 .2 1-.4 1 .5 1-.5 1 1.1 1-.6 1 .1 1 0 1 0 1-1 1 1.6 1-.7 1-.4 1-.2 1 .1 1 .1 1 .3 1-.5 1 .6 1 0 1-.5 1 1.7 1-1.3 1 .2 1-.1" stroke="#74a043" stroke-width="1.05"/>
<path d="M404.7 110.0l1-3.2 1-3 1-2.7 1-2.3 1-1.8 1-2 1-1.4 1-1.6 1-1.2 1-1.4 1-.7 1-.6 1-.4 1-.2 1-.6 1-.5 1 .1 1-.6 1-.9 1 0 1 .1 1-.2 1-.3 1-.2 1-.6 1 .1 1-.6 1 0 1-.2 1-.1 1 .1 1-.1 1-.4 1 .6 1-.7 1 .6 1-.3 1-.8 1 .6 1-.9 1 .9 1-.4 1-.6 1-.4 1 .5 1-.4 1 .8 1-.8 1 .3 1 .2 1-.2 1 0 1-.2 1 .3 1-.6 1 .5 1-.6 1 .4 1-.5 1 .3 1 .3 1 .2 1-1.1 1 .4 1-.1 1 .7 1-.7 1 .5 1-.4 1-.3 1 .5 1-.4 1 .7 1 0 1 .2 1-.7 1 .9 1-.2 1-.9 1 1.4 1-.1 1-.9 1 .5 1-.5 1 .5 1 .1 1 .2 1-.4 1 .3 1-.3 1 .5 1 .2 1-.2 1 .4 1-.1 1-.1 1 .3 1-.8 1 .5 1-.6 1 .7 1-.2 1 .5 1-.4 1 0 1 .2 1 0 1 .3 1-.5 1-.2 1 0 1 1 1-.8 1 .3 1-.2 1 .7 1-.5 1 .7 1-.7 1 .4 1 .2 1 .1 1-.7 1 .3 1 .1 1-.5 1 .9 1-.1 1 .1 1-.7 1 .6 1 .1 1 .2 1-.5 1 .5 1 .5 1-.8 1 0 1 .1 1-.4 1 .4 1 .7 1-.8 1 .3 1 .5 1-.2 1-.1 1-.1 1 .1 1 0 1 .3 1-.2 1 .4 1-1 1 1 1-.4 1 .2 1-.1 1 .4 1-.2 1 .3 1-.5 1 .4 1 .4 1 0 1-.5 1 .2 1-.1 1 .1 1 .1 1 .5 1-.2 1 .3 1 .1 1-.9 1 .5 1-.2 1-.3 1 .2 1 .2 1 .8 1-.5 1-.1 1 .1 1-.2 1 .3 1 0 1-.5 1 .4 1 1.4 1-.9 1-.3 1 .3 1-.5 1 .4 1 .3 1-.8 1 .3 1 .1 1 .1 1-.1 1 .3 1 .3 1-.2 1 .3 1 0 1-.6 1 .4 1-.2 1 .3 1-.3 1 .1 1 .7 1-.7 1-.4 1 .6 1 .1 1-.3 1 .2 1 .4 1-.5 1 .1 1-.2 1 .4 1-.1 1-.3 1 .3 1 .7 1-1.2 1 .2 1 .6 1-.6 1 1.2 1-1.2 1 .1 1 .3 1 .6 1-.1 1 0 1-.1 1 .4 1-1.1 1 .8 1 .4 1-.8 1 .5 1 .3 1 .1 1-.5 1 .8 1-.5 1 .2 1-.7 1 .2 1 0 1 .9 1-1.3 1 .2 1 .9 1-.2 1-1 1 .9 1 .1 1 .5 1-1 1 .5 1 .6 1-.1 1-.5 1 .3 1-.4 1 1 1-.6 1 .7 1-.2 1-.5 1 .3 1 .3 1 0 1 .4 1-.1 1-.2 1 .1 1-.4 1 .1 1 .4 1 0 1-.4" stroke="#1063a6" stroke-width="1.9" stroke-dasharray="5 2.8"/>
<path d="M404.7 110.0l1-3.7 1-3.4 1-3 1-2.7 1-2.1 1-1.9 1-1.9 1-1.6 1-1.7 1-1.1 1-1.1 1-.9 1-.7 1-.7 1-.4 1-.4 1-1 1-.2 1-.9 1-1 1 0 1-.1 1-.4 1-1.1 1 .7 1-1.3 1-.3 1-.2 1 .4 1-.6 1 0 1-1.2 1 .6 1-.2 1 .1 1-.5 1 .5 1-.8 1-.3 1-.2 1 .9 1-.3 1-.6 1 .6 1-.5 1-.1 1-.5 1 .3 1 .1 1 0 1-.3 1 .4 1 .1 1-.8 1 .3 1-.7 1 .6 1-.5 1 .2 1 .1 1-.2 1 .4 1-.6 1 0 1 .3 1-.2 1 .1 1-.2 1-.2 1 .6 1-.2 1 .3 1 .2 1-.6 1-.1 1 .2 1 0 1-.4 1 1.3 1-.4 1 .8 1-.9 1 .4 1 0 1 0 1 .4 1-.3 1 .1 1 .1 1-.7 1 .6 1 .1 1 .8 1-.3 1 .2 1 0 1-.3 1 .7 1-.6 1-.3 1 .7 1 .2 1-.3 1 .1 1 .3 1 .2 1-.3 1 .4 1-.4 1 .6 1-1.1 1 .8 1-.1 1-.1 1-.4 1 .8 1-.4 1-.2 1 .2 1 .1 1 .2 1-.3 1 0 1 .5 1-.1 1 .7 1-.8 1 .4 1 .4 1-.6 1 .4 1-.2 1 0 1 .5 1-.8 1 .2 1-.4 1 .6 1 .4 1-.4 1 .4 1-.4 1 .6 1-.3 1-.1 1 .7 1-.5 1 .3 1-.1 1 .2 1-.1 1-.4 1 .5 1 .1 1 0 1-.1 1 .7 1-.8 1 .4 1 .1 1-.4 1 0 1 .7 1 0 1-.1 1-.5 1 .5 1 .2 1 .2 1 .2 1-.2 1 .3 1 .3 1-1.3 1 1.1 1-.4 1 .4 1-.1 1-.4 1 .1 1 .5 1-.1 1 .3 1-.3 1 .9 1-.8 1 .8 1-.9 1 .5 1 .2 1-.8 1 .1 1 .5 1 .3 1 .1 1-.3 1 .2 1-.7 1 .2 1 .7 1-.7 1 .2 1-.5 1 .5 1-.5 1 .7 1 .4 1-.4 1 0 1-.2 1 .3 1-.5 1 .2 1 .9 1-1.1 1 .2 1-.2 1 .9 1-.5 1-.4 1 .1 1 .8 1-.2 1 .1 1-.3 1 .3 1 .2 1-.2 1-.8 1-.1 1 .2 1 .6 1-.6 1 .2 1 .4 1-.3 1-.1 1 .7 1-.1 1 .1 1 .1 1 .2 1-.5 1 0 1-.5 1 .5 1-.1 1 .6 1-.1 1 .3 1-.1 1 .1 1-.2 1-.1 1-.1 1 .1 1-.3 1 .5 1-.1 1-.6 1-.2 1 .7 1 .1 1 .1 1 .6 1-.6 1-.1 1 .6 1 .2 1 .3 1-.9 1 .3 1 0 1 .7 1-.2 1-.2 1 .3 1-.3 1 .1 1 .1 1-.1 1 .1 1 .3 1 0 1 .5 1-.2 1-.2 1-.7" stroke="#d35e28" stroke-width="1.9" stroke-dasharray="5 2.8"/>
<path d="M404.7 110.0l1-3.9 1-3.6 1-3.3 1-2.7 1-2.2 1-2.1 1-1.9 1-1.7 1-1.6 1-1.4 1-1 1-.8 1-1 1-1 1-.5 1-.4 1-1.1 1 0 1-1 1-.3 1-.8 1-.1 1-.6 1-.4 1-1.1 1 .5 1-1.2 1 .1 1 0 1-.5 1-.1 1-.4 1-.3 1-.5 1 .3 1-.2 1-.7 1-.4 1 .2 1-.5 1 .1 1 0 1-.2 1 .1 1-.4 1-.7 1 0 1 .3 1 .4 1-.9 1-.3 1 .7 1-.6 1 .2 1 0 1-.8 1 .1 1-.1 1 .3 1-.1 1-.4 1 .3 1-.9 1 .7 1 0 1-.2 1-.5 1 .5 1-.4 1 .9 1-.6 1 0 1 .1 1 .2 1-.1 1 .2 1-.5 1 .7 1-.5 1 .4 1-.1 1 .3 1-.3 1-.4 1 .1 1 .4 1 .5 1-.5 1 .2 1 .4 1-.5 1 .3 1 0 1-.2 1 .3 1 .3 1 .1 1-.4 1 1.1 1-.8 1-.1 1-.1 1-.1 1 .7 1-1.1 1 .9 1-.3 1 .5 1 .1 1-.4 1 .2 1 .8 1-.5 1 .3 1 0 1 .4 1 .2 1 0 1 0 1 .1 1-.5 1 .9 1-.6 1 0 1 .3 1-.1 1 .5 1 .2 1 .2 1-.3 1-.1 1 .2 1-.3 1 .2 1 1 1-.8 1 .1 1 .5 1-.1 1 .2 1-.5 1 0 1 .9 1-.7 1 .3 1 .1 1-.6 1 .6 1-.1 1 .4 1-.3 1-.6 1 1.1 1-1.1 1 .7 1 0 1 0 1 .2 1 .4 1-.6 1 .1 1 .5 1-.1 1 .1 1-.1 1-.1 1-.1 1 0 1 .5 1 .2 1 .2 1-1 1 .3 1 .1 1 0 1-.3 1 1.1 1-.2 1-.5 1-.1 1 .2 1-.3 1 .3 1 .4 1 .3 1-.2 1 .1 1-.7 1-.7 1 1.6 1-.4 1 0 1 .6 1-.8 1 0 1 .1 1 .9 1-.2 1-.8 1 1.2 1-.5 1 .2 1-.3 1 .9 1-.4 1 .4 1-.7 1 .6 1-.1 1 0 1-.1 1 .1 1-.1 1 .3 1 .3 1 .3 1-.6 1 .2 1 .3 1-.3 1 .5 1 .1 1 .1 1 .3 1 .3 1 0 1-.1 1 .2 1-.4 1 .1 1 .6 1 0 1 .6 1-.7 1-.2 1 .5 1-.2 1 0 1 .8 1 .2 1-.4 1-.3 1 .3 1 0 1-.4 1 .8 1-.1 1 .3 1-.5 1 .2 1 0 1-.5 1 1.5 1-1.5 1 .4 1 .3 1-.4 1 .7 1-.2 1 .2 1 .1 1 0 1 .1 1-.1 1 .3 1 .1 1-.3 1 0 1 .1 1 .2 1-.2 1 .1 1-.4 1 1.2 1-1 1 1 1-.2 1 .1 1-.2 1 .1 1-.1 1 .2 1 .1 1 .2 1-.8 1 .6 1 .4 1-.1" stroke="#edae26" stroke-width="1.9" stroke-dasharray="5 2.8"/>
<path d="M404.7 110.0l1-4 1-3.8 1-3.3 1-3 1-2.1 1-2.3 1-1.7 1-1.9 1-1.7 1-1.3 1-1.2 1-1.1 1-.8 1-.8 1-1 1-.4 1-.7 1-.7 1-.6 1-.5 1-.8 1-.3 1-.9 1-.4 1-.1 1-.3 1-1.2 1-.7 1 .8 1-.7 1-.1 1-.6 1-.5 1-.6 1-.4 1 .6 1-.4 1-.5 1-.7 1 0 1-.3 1-.1 1-1 1 .8 1 .3 1-.9 1 .1 1-.1 1-.6 1 .3 1-.5 1-.1 1 .1 1-.2 1-.1 1-.4 1 .4 1-.7 1 .5 1-.5 1-.3 1 .2 1-.4 1 .1 1 0 1 .3 1-.1 1-.1 1-.3 1-.4 1 .4 1 0 1 .1 1-.2 1 .1 1 .4 1-.7 1 .5 1 .4 1-.7 1 0 1 .2 1 0 1 .2 1 .4 1-.5 1 .3 1-.4 1 0 1 .3 1-.3 1 .7 1-.6 1 .1 1-.3 1 .3 1-.2 1 .2 1-.4 1 .6 1 .6 1-1.2 1 1.3 1-.6 1 .3 1-.6 1 1.1 1-1.1 1 .4 1 .6 1-.9 1-.3 1 .8 1-.2 1-.1 1 .1 1-.2 1 1.1 1 0 1-.9 1 .5 1-.1 1 .6 1-.6 1 .9 1-.6 1-.2 1 .3 1-.1 1 1 1-.7 1-.2 1 .3 1 .5 1-.8 1-.2 1 1.1 1-.2 1-.3 1 .1 1 .5 1-1.3 1 1.4 1-.4 1 .3 1-.2 1 1.1 1-1.2 1 .6 1-1.2 1 .9 1 .3 1-.7 1-.2 1 .8 1 .4 1 .1 1-.6 1 .4 1-.6 1 1.1 1-.7 1 .7 1-.5 1 0 1 .7 1-.8 1 .8 1-.6 1-.1 1 .1 1 .7 1-.4 1 0 1-.4 1 1 1 0 1-.2 1 .2 1-1.4 1 1 1 .3 1 0 1-.1 1 .3 1-.3 1 .1 1-.2 1 .6 1-.3 1 .2 1 .7 1-.5 1 .1 1-.5 1 .4 1 .6 1 0 1-.1 1 0 1 .1 1 .2 1-.2 1-.6 1 1.6 1-.2 1-.3 1 .6 1-.9 1 1 1-.3 1 .4 1-.4 1 .3 1 .3 1 .2 1-.1 1 .1 1-.3 1 .9 1-.4 1-.1 1 0 1-.2 1 .3 1-.2 1 .6 1 0 1 .2 1-.4 1 .3 1 0 1 .6 1-.8 1 .1 1 1 1-.3 1-.6 1 1 1 .1 1-.1 1-1.1 1 .8 1-.3 1 .2 1-.4 1 1.2 1-.9 1 .4 1 .2 1 0 1-.1 1-.2 1 .2 1-.1 1-.7 1 1.1 1-.5 1 0 1 .1 1-.3 1 0 1-.2 1 .9 1 .2 1-.3 1-.5 1 .9 1-.5 1-.5 1-.1 1 .8 1 .4 1-.6 1-.1 1 .2 1-.2 1 .1 1 .3 1-.4 1 .6 1-.6 1 .6 1-.2 1-.2 1 0 1 0 1 .7" stroke="#74a043" stroke-width="1.9" stroke-dasharray="5 2.8"/>
<path d="M404.7 110.0l1-4.1 1-3.9 1-3.6 1-3.3 1-2.9 1-2.9 1-2.6 1-2.4 1-2.2 1-2.1 1-1.8 1-1.7 1-1.7 1-1.5 1-1.3 1-1.3 1-1.2 1-1.1 1-1.1 1-1 1-.9 1-.9 1-.8 1-.8 1-.7 1-.6 1-.7 1-.5 1-.6 1-.5 1-.5 1-.5 1-.5 1-.4 1-.5 1-.4 1-.5 1-.4 1-.4" stroke="#1063a6" stroke-width="1.9" stroke-dasharray="1.4 1.4"/>
<path d="M443.7 55.2l.7-.3 .7-.3 .7-.4 .7-.2 .7-.8 .7 0 .7 0 .7-.1 .7 .1 .7-.9 .7 0 .7 .5 .7-.4 .7-.1 .7 .4 .7-.2 .7 1.2 .7-1.6 .7-.1 .7-.3 .7 .4 .7-.9 .7-.6 .7-.6 .7 .9 .7 0 .7-.1 .7 .6 .7-1.2 .7 .7 .7-.4 .7 .2 .7-1.2 .7 1.1 .7-.7 .7 .7 .7 2.1 .7-.6 .7-.8 .7-.3 .7 .2 .7-.8 .7 .1 .7 0 .7-.6 .7 .5 .7-.4 .7 1.2 .7-.3 .7 1.8 .7-2.6 .7 .1 .7 .6 .7 .2 .7-1.1 .7-.3 .7 3.9 .7-1.4 .7-.9 .7-1.6 .7 .2 .7-1.3 .7 .1 .7 .7 .7-1.3 .7 .8 .7 .3 .7 1 .7 .3 .7-1.1 .7-.2 .7 .2 .7 1.3 .7-.7 .7 1 .7-1.1 .7 .3 .7-.9 .7-.5 .7-.4 .7 .6 .7-1.5 .7 2.5 .7 1.3 .7-.5 .7 .6 .7 .4 .7 0 .7-.9 .7-.1 .7-.3 .7 1.6 .7-2.3 .7 0 .7-.8 .7 1.8 .7 .4 .7-1.7 .7 1 .7 1 .7-1.5 .7 1.1 .7 1.7 .7 .1 .7-1.6 .7-.5 .7 .2 .7 .5 .7 .4 .7-.7 .7 1.6 .7 .1 .7-.2 .7-.3 .7 .7 .7-.6 .7 .3 .7-.4 .7 3.2 .7-1.8 .7 .1 .7-.7 .7-.2 .7 .4 .7 1 .7-.1 .7-1.2 .7 .4 .7-.7 .7-.6 .7 .6 .7-.8 .7 .1 .7 1.6 .7-.2 .7-1.7 .7 1.3 .7 .6 .7-1.3 .7 .4 .7 1.4 .7-.9 .7 .8 .7-1 .7 0 .7 .4 .7 .6 .7-.9 .7-.4 .7-.4 .7-.3 .7 1.7 .7-1.3 .7 .6 .7 .4 .7 .4 .7-.2 .7-.2 .7-.5 .7 .1 .7 0 .7 0 .7 .2 .7 .3 .7 .3 .7-1.1 .7 .1 .7 2 .7-.3 .7-.8 .7 2.8 .7-2.6 .7-.8 .7 .3 .7-.1 .7 .1 .7 .3 .7-.9 .7 .7 .7 .6 .7-1.9 .7 1.1 .7 .4 .7 1.2 .7 0 .7-1.6 .7 1.7 .7-1.4 .7 1.6 .7-2 .7 1.1 .7-1.8 .7 1.1 .7-1.4 .7 1.2 .7-.6 .7 .7 .7 1.8 .7-1 .7-.6 .7 .6 .7 .4 .7 0 .7 2.3 .7-.9 .7-.7 .7 .4 .7 .7 .7-1.1 .7 .7 .7 2.5 .7-.7 .7-.1 .7 2 .7-2.7 .7 .4 .7-.5 .7 1.7 .7-.1 .7-1.6 .7-.2 .7 1.4 .7 .2 .7 1.5 .7-2.1 .7 .2 .7 .1 .7-1.3 .7 .5 .7 .5 .7 1.1 .7-1.3 .7 .7 .7 1.3 .7-1.8 .7 .5 .7 1.7 .7-1.5 .7 1.2 .7 0 .7-.2 .7 0 .7 1.3 .7-1.4 .7 .1 .7-.5 .7 .7 .7-.1 .7-.3 .7 .2 .7 .9 .7-.2 .7 .1 .7 .9 .7-.8 .7 .6 .7-.6 .7 .3 .7-.5 .7-.5 .7-1.5 .7 2.5 .7-1.1 .7 2.1 .7-.5 .7-.5 .7-1.5 .7 2.3 .7-1.6 .7-.8 .7 .7 .7 .3 .7 .6 .7 .3 .7-1.5 .7 .2 .7 1.3 .7 .3 .7 .1 .7-1.1 .7-.6 .7 .7 .7 .8 .7-.2 .7 .2 .7-.5 .7 .8 .7-1.4 .7 .9 .7-.1 .7 .4 .7-.2 .7 2.2 .7-1.8 .7-.7 .7 .1 .7-.6 .7 0 .7 .6 .7-.6 .7-.9 .7 .6 .7 1.2 .7 0 .7 .1 .7 .4 .7 .3 .7 .1 .7 .1 .7 .4 .7-1.6 .7-.3 .7 1.2 .7-1.1 .7 .4 .7-.6 .7 1.6 .7-.3 .7 .3 .7 .2 .7-.9 .7 .4 .7-.4 .7 2.3 .7-.7 .7 .5 .7-1.7 .7 1.3 .7-.4 .7-.7 .7 1.4 .7-1.1 .7 2.5 .7-.8 .7-.8 .7 .7 .7-.3 .7-.5 .7 .2 .7 .1 .7 .7 .7-1.7 .7 .8 .7 .6 .7 2.5 .7-2.1 .7-.4 .7-.2 .7 .5 .7-.5 .7 0 .7 .2 .7 2.1 .7-2 .7 1 .7-.6" stroke="#1063a6" stroke-width="1.9" stroke-dasharray="2.2 0.7"/>
<path d="M404.7 110.0l1-5 1-4.7 1-4.3 1-3.9 1-3.4 1-3.1 1-2.9 1-2.7 1-2.4 1-2.2 1-2 1-1.9 1-1.7 1-1.6 1-1.5 1-1.4 1-1.3 1-1.3 1-1.2 1-1.1 1-1.1 1-1 1-.9 1-.9 1-.9 1-.8 1-.8 1-.7 1-.7 1-.7 1-.6 1-.6 1-.5 1-.6 1-.5 1-.5 1-.5" stroke="#d35e28" stroke-width="1.9" stroke-dasharray="1.4 1.4"/>
<path d="M441.7 48.1l.7-.2 .7-.4 .7-.3 .7-.4 .7-.2 .7-.1 .7-.3 .7-1 .7-.6 .7-.1 .7 .2 .7-.7 .7 .3 .7 .6 .7 .1 .7-1.1 .7-.1 .7 .4 .7-.5 .7-.4 .7 .6 .7-1 .7-.4 .7-1.3 .7 1.9 .7-.7 .7-1.1 .7-1.1 .7 1.5 .7 .1 .7-1 .7-.1 .7-1 .7-.2 .7 1.3 .7-1 .7-1.2 .7-.2 .7-.3 .7 .8 .7-1.3 .7 1.2 .7 .2 .7-1.4 .7 1.7 .7 .4 .7-2 .7 1.7 .7-1.6 .7 1.2 .7-.9 .7-.7 .7-.1 .7 1.9 .7-1.5 .7-.5 .7 .4 .7-.2 .7 .1 .7-1 .7 1.2 .7-.7 .7 .1 .7 1.2 .7 0 .7-1.2 .7 .2 .7 .4 .7 .2 .7-1.6 .7 1.1 .7 .6 .7-.9 .7-.7 .7 .5 .7 .3 .7-.7 .7-.1 .7 1.1 .7-1.2 .7 .4 .7 .2 .7 0 .7 .8 .7-.6 .7 .4 .7-.4 .7 .5 .7-.4 .7-.3 .7-.8 .7 1.6 .7-.1 .7-.1 .7-1.1 .7 .4 .7-.2 .7 .9 .7 2.7 .7-1.2 .7-2.2 .7 .5 .7-.7 .7 1.1 .7-1 .7 .3 .7-.4 .7 .1 .7 .2 .7-.1 .7 0 .7-1.4 .7 1.9 .7-.4 .7 2.3 .7-2 .7-.2 .7 1.3 .7-1.7 .7 .6 .7 .7 .7-.3 .7-.6 .7 1 .7-1 .7-.8 .7 1.5 .7 .4 .7-1.2 .7 .1 .7 .6 .7 1.1 .7-.8 .7 .3 .7-.6 .7-.5 .7-.8 .7-.2 .7 1.4 .7-.8 .7 1 .7-.4 .7 .4 .7-.2 .7 .3 .7-.1 .7-.6 .7 .7 .7-1.3 .7-.3 .7 .5 .7 .6 .7 1.3 .7-.2 .7-.4 .7 .4 .7-1 .7 .4 .7-.9 .7 .7 .7 1.3 .7-.3 .7 .2 .7 .2 .7-.5 .7 .5 .7-.2 .7-.1 .7 .2 .7 1.2 .7-1.5 .7 .1 .7 1.3 .7-.8 .7 .5 .7 .2 .7 .8 .7 .1 .7 .4 .7-.4 .7-.9 .7 .6 .7-1.1 .7 1.2 .7-1 .7 .5 .7-.6 .7 .5 .7 .4 .7 2.6 .7-3.4 .7-.6 .7 1.5 .7 .4 .7-.8 .7 .2 .7-.8 .7 .8 .7 1.1 .7 .3 .7-.3 .7-.1 .7 .7 .7 2 .7-1.8 .7-1.1 .7 .5 .7 .2 .7-2 .7-.7 .7 .7 .7 1.4 .7-.3 .7-.2 .7 1.1 .7 .3 .7 .8 .7 .3 .7 .1 .7-1 .7 0 .7 1 .7 .1 .7 .7 .7-1.9 .7-.3 .7 .6 .7 .1 .7 1.6 .7 .1 .7 .1 .7-.7 .7-.4 .7-.1 .7 0 .7 .2 .7 .2 .7-.3 .7 .3 .7-.2 .7 .8 .7 0 .7 1.2 .7-.5 .7-.9 .7 .9 .7-1 .7 .5 .7 .5 .7 0 .7-.2 .7 .6 .7 .7 .7 .1 .7-.6 .7-.9 .7 1.7 .7-.5 .7-.4 .7 .3 .7 0 .7-.1 .7-.1 .7 .3 .7 .1 .7-1 .7 1.6 .7-.4 .7-.7 .7 .5 .7-.8 .7 .3 .7 1.5 .7 .5 .7-1 .7-.5 .7 .5 .7 .9 .7-.7 .7 1.4 .7-2.1 .7 1.6 .7-.8 .7-.7 .7 1.3 .7-1 .7 1.2 .7-.3 .7-.2 .7 .8 .7-1.2 .7-.3 .7 1.2 .7-.1 .7-.1 .7 .4 .7-.7 .7 .6 .7-.2 .7 1.5 .7-.1 .7-.1 .7 1 .7 .4 .7-1 .7 .4 .7 1.4 .7-2.4 .7 .7 .7 .3 .7 .3 .7-.8 .7 1.5 .7-.3 .7 0 .7-.6 .7 0 .7 .1 .7-.1 .7 1 .7 .1 .7-.3 .7 2.9 .7-2.1 .7-.5 .7 1.2 .7-1.1 .7-1 .7-.3 .7 .9 .7-.4 .7-.4 .7 1.4 .7-.2 .7-1.8 .7 .9 .7 0 .7 1.4 .7-.2 .7 .7 .7-1.3 .7 .9 .7-.8 .7 .7 .7-.2 .7 .2 .7-.3 .7 .4 .7-1.3 .7 .5 .7 1 .7 .3 .7 .1 .7 .4 .7 .5 .7-1.1 .7 3.7 .7-1.4 .7-1" stroke="#d35e28" stroke-width="1.9" stroke-dasharray="2.2 0.7"/>
<path d="M404.7 110.0l1-5.3 1-4.9 1-4.6 1-4 1-3.7 1-3.3 1-3.1 1-2.9 1-2.6 1-2.3 1-2.2 1-2 1-1.9 1-1.8 1-1.6 1-1.6 1-1.5 1-1.4 1-1.4 1-1.3 1-1.3 1-1.2 1-1.1 1-1 1-1 1-.9 1-.9 1-.9 1-.8 1-.8 1-.7 1-.7 1-.7 1-.7 1-.6 1-.7 1-.6" stroke="#edae26" stroke-width="1.9" stroke-dasharray="1.4 1.4"/>
<path d="M441.7 42.0l.7-.4 .7-.5 .7-.3 .7-.3 .7-.2 .7-.3 .7-.7 .7 .4 .7-.7 .7-.3 .7-.7 .7 0 .7-.5 .7-.9 .7 .1 .7 1.4 .7-.6 .7-1.5 .7-1 .7 0 .7-.6 .7 .5 .7-1 .7-.3 .7-.6 .7-.1 .7 .9 .7-.7 .7-.5 .7 1.1 .7-.6 .7 .5 .7-1.4 .7 .6 .7-.6 .7 .4 .7-1.3 .7 .1 .7 0 .7-.1 .7-.6 .7 .4 .7 .3 .7 .4 .7-1.4 .7-.2 .7 1.2 .7-.2 .7-.1 .7 .1 .7-1.4 .7 .1 .7 .3 .7-.7 .7-.1 .7-.2 .7 .4 .7-.9 .7 .5 .7-.2 .7-1 .7 .8 .7 .1 .7 .6 .7-1.1 .7-.2 .7 .2 .7-.2 .7-.1 .7-.5 .7 1.4 .7-.6 .7-.3 .7 .8 .7-1.1 .7-.3 .7 0 .7-.3 .7 1.3 .7-1.4 .7 .7 .7 .2 .7-.2 .7 1.9 .7-.6 .7-.5 .7-.3 .7-.2 .7-.2 .7 .6 .7-.4 .7-.2 .7-2.2 .7-.1 .7 .8 .7 .7 .7 .1 .7 .9 .7 0 .7 .7 .7-1.3 .7 .2 .7 .8 .7-.9 .7-.6 .7 .8 .7-2.1 .7 .5 .7 .4 .7 1.5 .7-.9 .7 .8 .7-.1 .7 .5 .7 .3 .7-.7 .7 1.6 .7-1.4 .7 .1 .7 .4 .7-1.1 .7-.7 .7 .1 .7 1.4 .7-.6 .7 .7 .7-1.8 .7 .3 .7 .2 .7 1 .7-.1 .7 1.4 .7-1.6 .7 .9 .7 .3 .7-1.6 .7 .9 .7-.9 .7 1.2 .7-.5 .7 .9 .7-.4 .7-1.8 .7 .7 .7 1.7 .7-.3 .7 .8 .7-.4 .7 1.7 .7-1.6 .7 .5 .7-1.1 .7-.1 .7-.1 .7-.8 .7-.6 .7 1.5 .7 0 .7-1.8 .7 1.9 .7-.4 .7 .2 .7 .9 .7 .1 .7 .3 .7 .5 .7 1.3 .7-1.5 .7-.3 .7-.3 .7 2.7 .7-3 .7 .5 .7 0 .7 .5 .7-1.4 .7 1.9 .7 0 .7 .3 .7 .7 .7-2.1 .7 1 .7-.9 .7-.4 .7 2 .7-.1 .7-3.1 .7 1.1 .7 .2 .7-1.9 .7 1.7 .7 1.3 .7 1.8 .7-1 .7-.8 .7 1 .7 1 .7 1.4 .7-1 .7-.9 .7 .4 .7-.8 .7 .3 .7-.1 .7-1.7 .7 1.8 .7-1.6 .7 .5 .7 .6 .7-.4 .7 1.3 .7 0 .7 0 .7-1.3 .7 1.3 .7 .1 .7-.6 .7 .8 .7 .2 .7-.7 .7 0 .7-.4 .7 .1 .7 .4 .7 .5 .7-.6 .7 2.2 .7-.4 .7-.5 .7-.3 .7 .8 .7 1.3 .7-1.9 .7 1 .7-1 .7 0 .7-.5 .7-.4 .7 1.4 .7 .1 .7-.3 .7-.3 .7 .5 .7 1 .7-.4 .7-.5 .7 .8 .7 .3 .7-.1 .7-.4 .7 .2 .7 .9 .7-.5 .7 .8 .7-.6 .7-.6 .7 0 .7 0 .7 .4 .7-1.9 .7 1.8 .7 2.3 .7-1.9 .7-.3 .7 .2 .7 .9 .7-.1 .7 0 .7 .7 .7 .3 .7 .3 .7-.3 .7-.9 .7 .2 .7 .8 .7-.1 .7 1.1 .7-2.4 .7-.3 .7 1.2 .7-.7 .7-.8 .7 1.4 .7 1 .7 .1 .7-.7 .7-.2 .7 .8 .7 1.7 .7 .5 .7-1.6 .7 .8 .7-.6 .7-.9 .7 .8 .7 .1 .7 0 .7 .7 .7 1.2 .7 .9 .7 .3 .7 .2 .7-.3 .7-1.6 .7 .4 .7-.8 .7 1.9 .7 .3 .7 .4 .7-.9 .7-.8 .7-.6 .7 2.7 .7 .3 .7-.5 .7 .5 .7 .5 .7 .1 .7-1 .7 1.2 .7-.6 .7 1 .7-.1 .7 0 .7 .9 .7-.6 .7 .8 .7-.2 .7 0 .7-.3 .7-.6 .7 .1 .7-.1 .7-.2 .7-.1 .7 1.9 .7-.2 .7 0 .7-1.2 .7 2.2 .7 1.2 .7-3 .7 .2 .7-.4 .7 .5 .7 2.5 .7-2.4 .7 .2 .7 .4 .7-.2 .7-.3 .7-.3 .7 .9 .7-.2 .7-.1 .7-.6 .7 0 .7 1.4 .7-.7" stroke="#edae26" stroke-width="1.9" stroke-dasharray="2.2 0.7"/>
<path d="M404.7 110.0l1-5.6 1-5.2 1-4.8 1-4.2 1-3.8 1-3.5 1-3.2 1-2.9 1-2.8 1-2.4 1-2.3 1-2.2 1-2 1-1.8 1-1.8 1-1.7 1-1.6 1-1.6 1-1.5 1-1.4 1-1.4 1-1.2 1-1.2 1-1.1 1-1 1-1 1-.9 1-.9 1-.8 1-.8 1-.8 1-.7 1-.7 1-.7 1-.7 1-.7 1-.7" stroke="#74a043" stroke-width="1.9" stroke-dasharray="1.4 1.4"/>
<path d="M441.7 38.4l.7-.4 .7-.3 .7-.7 .7-.4 .7-.6 .7-.3 .7 .6 .7-.9 .7-.6 .7-1.8 .7 1.5 .7-1.7 .7-.2 .7-.4 .7-.2 .7-.3 .7-.3 .7 0 .7 .2 .7-.4 .7 .9 .7 .1 .7-2.1 .7 1.4 .7-1.1 .7 .9 .7 0 .7-.4 .7-.9 .7-.9 .7 .2 .7-.8 .7 .5 .7 .3 .7-1.4 .7 .1 .7 1.9 .7-2.9 .7-1.5 .7 1.9 .7-.1 .7-.2 .7 .3 .7 0 .7 .1 .7-1.2 .7-.5 .7 .3 .7-.2 .7-.4 .7-.3 .7 .5 .7-.4 .7 .3 .7 .7 .7-.7 .7-.3 .7-.4 .7-1.1 .7 0 .7 .4 .7-1.8 .7 .1 .7 1.1 .7 .3 .7-.4 .7-1.5 .7 2.3 .7-.7 .7 0 .7-.4 .7-1.2 .7 .4 .7-.5 .7 1.3 .7-.7 .7 .1 .7-.8 .7 .4 .7-.2 .7 .2 .7-.8 .7 .5 .7-1.1 .7 .2 .7-1.3 .7 .3 .7 0 .7-1 .7 2.4 .7 1.2 .7-1.1 .7-.4 .7 .7 .7-1.6 .7 1 .7-.3 .7-.4 .7 .5 .7-.7 .7-.4 .7 1.4 .7-1.5 .7-.2 .7-.3 .7 .6 .7-.1 .7-1.5 .7 .9 .7 .3 .7 .8 .7 1.3 .7 .4 .7-1.1 .7 0 .7-1.6 .7 1 .7 .7 .7 .2 .7-.7 .7 1.5 .7-1.3 .7 1.4 .7-1.6 .7-.3 .7 .6 .7 .8 .7-1.5 .7-.5 .7 1.4 .7-2.2 .7 1.4 .7 .5 .7-.5 .7 0 .7-1 .7 2.2 .7-.4 .7-.4 .7-.1 .7 0 .7 .6 .7-1.3 .7-.1 .7-.4 .7 .6 .7 .6 .7-.2 .7 0 .7-.1 .7-.3 .7-.1 .7-.2 .7 .9 .7-2.2 .7 .1 .7-1.2 .7 2 .7 .1 .7 .7 .7 .2 .7-.6 .7-.8 .7 .9 .7 .3 .7 1.4 .7-.1 .7 .2 .7-.2 .7-.9 .7 .9 .7 .1 .7 2 .7-3.2 .7 2.6 .7-1.9 .7 .7 .7-1.1 .7 .5 .7 .9 .7 0 .7-.7 .7-.3 .7-.1 .7-1.3 .7 .4 .7 .5 .7 .1 .7 0 .7 0 .7 1.4 .7 .4 .7 .4 .7 .2 .7-1.4 .7 .4 .7-.1 .7 .7 .7 1 .7-.4 .7-.7 .7 .3 .7-.5 .7-.7 .7-.7 .7 .3 .7 .4 .7 1 .7 .5 .7-.2 .7-1.2 .7 .7 .7-.5 .7 3.1 .7-2.9 .7-.4 .7 .7 .7 .2 .7 .1 .7 .4 .7-.8 .7 .1 .7-.1 .7-.2 .7 1.3 .7 0 .7 .3 .7 .2 .7 .1 .7-.2 .7 .4 .7-.3 .7-.3 .7 .1 .7 1.3 .7-1.1 .7 .8 .7-.1 .7-.2 .7 .7 .7 .5 .7 0 .7 1.2 .7 0 .7-.6 .7 1.3 .7 1.3 .7-3 .7 0 .7-.1 .7 1.1 .7-1.6 .7 .1 .7 .7 .7-.2 .7 1.9 .7-.8 .7 .7 .7 .3 .7-.6 .7-1.2 .7-.4 .7 .3 .7 .8 .7-.4 .7 .4 .7 .5 .7 0 .7-.1 .7 .6 .7 0 .7 .1 .7-.7 .7 1.1 .7-.1 .7 3.1 .7-2.6 .7-.5 .7 .1 .7 0 .7 .2 .7-1.3 .7 .5 .7 1.5 .7-.3 .7 2.3 .7-.2 .7-1 .7-1 .7 .1 .7 .3 .7 .7 .7 .8 .7-.5 .7 .7 .7-.6 .7 .9 .7-.5 .7-.6 .7-.9 .7 .7 .7-.3 .7 .7 .7 .5 .7-1.2 .7 .9 .7 .2 .7 .3 .7 1.3 .7-.9 .7 .8 .7 .2 .7 .2 .7 0 .7 1.7 .7 0 .7-.2 .7 .3 .7-.8 .7 1.1 .7 .3 .7-.5 .7-.2 .7-.8 .7 .5 .7 .9 .7-.6 .7-.5 .7-.5 .7 0 .7 2 .7-1.9 .7 1.3 .7 .1 .7 0 .7-.1 .7-.7 .7 1 .7-.8 .7 .8 .7-.4 .7 .3 .7 .2 .7 1.3 .7-1.5 .7 .6 .7 .9 .7-.5 .7-.1 .7 .5 .7-.8 .7-.5 .7 .9 .7 .9 .7-.7 .7 .2 .7-.1 .7-1.6 .7 .9" stroke="#74a043" stroke-width="1.9" stroke-dasharray="2.2 0.7"/>
<path d="M404.7 126.3l1 .1 1 .2 1 .2 1 .1 1 .2 1 .2 1 .4 1 .1 1 .3 1 .1 1 .5 1 .3 1 .5 1 .5 1 0 1 .3 1 .8 1 .4 1 .2 1 .5 1 .2 1 .4 1 .4 1-.2 1 1.1 1 .4 1-.1 1 .5 1 .6 1 .5 1 .2 1 .2 1 .7 1 .3 1 0 1 .6 1 .4 1 .6 1-.2 1 .5 1 .5 1 .5 1 1 1-.4 1 .7 1 .3 1 .4 1 .5 1 0 1-.2 1 .5 1 .8 1 .5 1 0 1 .6 1-.2 1-.2 1 .5 1 .3 1 .5 1 .2 1-.2 1 .8 1-.2 1 .5 1 .3 1 .3 1 .2 1 0 1 .4 1 .6 1-.2 1 .1 1-.2 1 1 1 0 1 .5 1 0 1 .4 1 .3 1 .7 1-.3 1 .1 1 .7 1 .5 1-.3 1 .7 1 .1 1 .4 1-.5 1 .9 1 .1 1 .4 1 0 1 .4 1-.3 1 .9 1 .6 1-.1 1 .2 1 .4 1 .5 1-.3 1 0 1 .3 1 .4 1 .5 1 .4 1-.2 1 .2 1 .8 1 .3 1-.3 1 .7 1 0 1 .1 1 .4 1 0 1 0 1 .4 1 .5 1 .6 1 .3 1 .5 1-.2 1 .5 1-.1 1 .4 1 .9 1 0 1 .9 1-.1 1 0 1 .2 1-.1 1 1.3 1 .1 1 1.1 1-.2 1-.3 1-.2 1 0 1 .7 1 .3 1-.3 1 .8 1 .3 1-.4 1 .4 1-.2 1 .9 1-.5 1 .1 1-.1 1 .4 1 0 1 1 1 0 1-.5 1 .3 1 .3 1 .2 1-.2 1 .8 1 0 1 .5 1-1.3 1 .4 1 .9 1-.1 1 0 1-.2 1 .6 1-.2 1 .7 1 .1 1 0 1-.7 1 .8 1 .5 1 .1 1 0 1 .1 1-.5 1 .8 1 .2 1-.3 1 .2 1-.1 1 .2 1 0 1 .3 1 0 1-.3 1 .4 1 .4 1 .1 1 .5 1 0 1 .2 1-.3 1 .5 1-.4 1 .1 1 .6 1 0 1-.2 1 .6 1 .3 1-.1 1 .3 1 0 1 .2 1-.4 1-.2 1 .6 1-.8 1 .9 1 0 1 .5 1-.1 1 .3 1-.1 1 .3 1 .7 1-.7 1-.1 1 1.1 1-.1 1-.1 1 0 1 .4 1-.1 1 .5 1-.2 1 0 1 .5 1-.3 1 .5 1-.4 1 .4 1 .3 1-.1 1 .6 1-.2 1 .2 1-.5 1 .9 1 0 1-.5 1 .8 1 .1 1-.2 1 0 1 .1 1 .5 1 .2 1 0 1 .8 1-.5 1 .2 1-.4 1 .7 1 .3 1-.4 1 1 1-.7 1 .4 1-.1 1 .2 1-.7 1 1.3 1-.8 1 1.2 1-.6 1 .3 1 1 1-.9 1 .3 1-.1 1 .4 1 .3 1 .5 1-1.1 1 .8 1 .4 1 .2 1-.4" stroke="#1063a6" stroke-width="1.2"/>
<path d="M404.7 126.3l1 .1 1 .1 1 .2 1 .1 1 .1 1 .3 1 .1 1 .3 1 .1 1 .4 1 0 1 .4 1 .5 1 .3 1 .1 1 .3 1 .7 1 .1 1 .6 1 .6 1 .2 1-.2 1 1.1 1 .3 1-.1 1 .4 1 .9 1 .1 1 .4 1 .5 1 .3 1 1 1 0 1 0 1 .4 1 .2 1 .9 1-.4 1 1 1-.1 1 0 1 1.2 1 .2 1 .3 1 .2 1 .4 1 .2 1 .9 1 .3 1-.2 1 .4 1 .3 1 .5 1 0 1 .1 1 .3 1 .5 1 .1 1 .2 1 .7 1 0 1 .4 1-.2 1 .8 1 0 1 .2 1 .1 1 .3 1 .3 1 .5 1 .2 1 .9 1-.1 1 .2 1 .2 1 0 1 .3 1 .7 1-.3 1 1.2 1 .3 1-.6 1 1.1 1 .2 1 .3 1 .2 1 .5 1-.4 1 .4 1 .6 1 .1 1-.2 1 1 1 .3 1-.1 1 .4 1 .5 1-.7 1 .7 1 .2 1 .4 1 0 1 .2 1 .7 1 .7 1-.7 1 1.1 1 .1 1 .2 1 .4 1-.3 1 .7 1-.6 1 .5 1 .6 1 .4 1-.4 1 .1 1 1 1 .3 1 .4 1 .1 1-.1 1 1.1 1 .2 1 .2 1 .9 1-.2 1 .7 1-.2 1-.5 1 .9 1-.2 1 1.1 1 .8 1-.6 1 1 1 0 1 .7 1 .1 1-.2 1 .7 1 .1 1 .5 1 .5 1-.5 1 .8 1-.4 1 .4 1 0 1 0 1 .4 1-.1 1 .5 1-.3 1 .1 1 .7 1 .1 1 .1 1 .2 1 .2 1 0 1 .3 1-.4 1 .5 1-.2 1-.1 1 .4 1 .4 1 0 1 .6 1-.2 1 0 1 .1 1-.4 1 .6 1 .1 1 .6 1-.6 1 .3 1-.1 1 .4 1-.5 1 .8 1 0 1 .2 1 .8 1-.7 1 .3 1 0 1 .5 1 .4 1 0 1-.3 1-.3 1 .6 1-.5 1 .4 1 .2 1 0 1 .4 1 .1 1 0 1 .5 1-.2 1 .7 1-.1 1-.2 1 .4 1-.2 1 .2 1 .6 1-.7 1 .8 1 .6 1-1.2 1 1.6 1-1.2 1 0 1 .2 1 .4 1 .3 1-.3 1 .7 1 .4 1-.3 1 .4 1 .3 1 .4 1-.4 1 .4 1 0 1 0 1 0 1 .4 1 .2 1-.5 1 .5 1 .3 1 .1 1 .2 1 .5 1-.1 1-.5 1 1 1-.6 1 .1 1 .7 1-.3 1-.3 1 .8 1 .1 1 .2 1-.5 1 .8 1-.3 1 .6 1-.5 1 .2 1-.2 1 .5 1 .7 1-.1 1-.2 1 .8 1-.3 1 .3 1 0 1 0 1 .2 1 .2 1 .4 1-.1 1 .3 1-.5 1-.1 1 .8 1 0 1 .3 1-.4 1 .5 1-.2 1 .4 1 .1 1 .1 1 .3 1-.1 1 .2" stroke="#d35e28" stroke-width="1.2"/>
<path d="M404.7 126.3l1 .1 1 .1 1 .2 1 .2 1 .2 1 .2 1 0 1 .3 1 .2 1 .4 1-.2 1 .5 1 .1 1 .9 1 .1 1 .5 1 .3 1 .3 1 .4 1 .2 1 0 1 .9 1 .3 1 .2 1 .3 1 .9 1-.2 1 .2 1 .9 1 .7 1-.5 1 .5 1 .3 1 .9 1 .4 1 .6 1 0 1 .3 1 .3 1 .9 1-.2 1 .3 1 .5 1 .4 1 .5 1 0 1 1.1 1 .3 1-.6 1 .7 1-.1 1 .5 1 0 1 .6 1 .4 1 .3 1-.2 1 0 1 .3 1 1.2 1-.1 1 .3 1 .7 1-.5 1 .7 1-.1 1 .6 1-.4 1 .8 1 .3 1 .4 1-.2 1 .6 1 .7 1 0 1 .5 1 .3 1 .1 1 .1 1 .5 1-.1 1 .8 1 .2 1 .5 1 .7 1-.2 1 .2 1 .2 1 .5 1 .4 1-.2 1-.1 1 .3 1 1 1 .1 1 .3 1-.4 1 .6 1-.1 1 .4 1 .4 1 .2 1 1 1-.7 1 .5 1 .2 1 .4 1 .5 1-.2 1-.1 1 .7 1 .5 1-.3 1 .9 1-.3 1 .4 1 .3 1 1 1-.1 1 .2 1-.1 1 .3 1 .4 1 1 1 .3 1 0 1 .1 1 0 1 .7 1 .7 1 .3 1 .3 1 0 1 .7 1 .1 1 .6 1 .1 1 .5 1 .1 1 .1 1 .7 1-.4 1 .7 1-.1 1 .2 1 .3 1 0 1 0 1 .2 1 0 1 .5 1 .3 1 0 1-.3 1 .6 1 .4 1-.5 1 .2 1 .7 1-.2 1 .5 1-.3 1-.3 1 .6 1 .1 1 .2 1-.2 1 .2 1 .9 1-.7 1 .7 1-.7 1 .5 1 .2 1 .2 1-.2 1-.1 1 .4 1-.4 1-.2 1 .4 1 1 1-.1 1 .4 1-.3 1-.5 1 .3 1 .5 1-.3 1 .1 1 .1 1 .2 1-.2 1 .8 1-.2 1 .7 1 .2 1-.4 1 .5 1 .1 1-.1 1 0 1 .6 1-.1 1-.1 1 0 1 .3 1 .4 1 0 1-.3 1 .3 1 .2 1 0 1 .2 1-.2 1 .2 1 .5 1 .1 1-.1 1 .9 1-.6 1 .4 1 0 1-.1 1 .5 1 .2 1-.2 1 .3 1 .8 1-1 1 .3 1 .4 1 0 1-.2 1 .3 1 .2 1 .1 1 .2 1 .6 1-.3 1-.1 1 .5 1 .1 1-.4 1 .3 1-.1 1 .6 1 .3 1-.2 1 .5 1-.4 1 .2 1 .2 1 .2 1 .6 1-.7 1 .6 1 0 1 .4 1-.6 1 .2 1 1 1 0 1 0 1-.2 1 .5 1-.2 1-.2 1 .4 1 .1 1-.1 1 .3 1 0 1 .5 1 .3 1 .2 1 .1 1-.5 1 .6 1 .2 1 0 1-.3 1-.5 1 1.1 1-.2 1 .7 1-.6 1 .7" stroke="#edae26" stroke-width="1.2"/>
<path d="M404.7 126.3l1 .1 1 .1 1 .2 1 .2 1 .1 1 .3 1 .1 1 .1 1 .2 1 .4 1 .2 1 .1 1 .2 1 .8 1 .2 1 .7 1-.1 1 .7 1 .2 1 .4 1 .3 1 .6 1 .2 1 .1 1 .4 1 .4 1 .4 1 .4 1 .2 1 .3 1 .6 1-.2 1 1.1 1 .4 1-.7 1 1 1 .7 1-.3 1 1.2 1 .5 1 .2 1 .5 1 .1 1 .6 1 .3 1 .1 1 .4 1-.2 1 .4 1 1 1 .3 1-.3 1 0 1 .2 1 1.2 1 0 1 .7 1 .1 1 .5 1-.1 1-.2 1 .4 1 .7 1-.5 1 .8 1 0 1 .8 1-.3 1 .3 1 .7 1-.9 1 1.5 1 .1 1 0 1 .7 1-.1 1 .7 1 .1 1 .5 1-.3 1 .4 1 1.1 1-.2 1 .1 1 .1 1 .4 1 .5 1-.1 1 .6 1 .2 1-.2 1 .8 1 .7 1-.3 1 .4 1 .4 1 0 1-.1 1 .8 1 .1 1 .2 1 .9 1-.2 1 0 1 .3 1 .9 1 0 1-.5 1 .9 1-.1 1 .2 1 .8 1 .1 1-.2 1 .5 1 .5 1 0 1 .4 1-.1 1 .9 1 .4 1-.4 1 .1 1 .6 1 .7 1 .2 1 .2 1 .4 1-.2 1 .8 1 .3 1 .1 1 .8 1-.2 1 .3 1 .7 1 .3 1 .1 1 .2 1 .3 1 .2 1-.2 1 .7 1 .5 1-.4 1 0 1 .5 1-.1 1-.3 1 .3 1 0 1 .5 1-.6 1 .9 1-.5 1 .4 1-.2 1 .3 1 .3 1-.1 1-.5 1 .4 1 .2 1 .5 1-.6 1 .1 1-.1 1 .3 1 .2 1-.4 1 .8 1 0 1-.1 1 0 1 .6 1-1 1 .2 1 .9 1-1 1 .6 1-.1 1-.2 1 .1 1 .3 1 .2 1 .1 1 .2 1-.1 1 .1 1 .2 1-.2 1-.1 1 .7 1-.7 1 .9 1 .4 1-.6 1-.1 1 .6 1 .5 1-.1 1 .8 1 .1 1-.3 1 .8 1-.5 1 .5 1 .4 1 .6 1 0 1 .4 1-.7 1 1.6 1-1.1 1 .5 1 .6 1-.2 1 .3 1-.6 1 .2 1 .3 1 .1 1 .3 1 0 1-.1 1 .6 1-.4 1 .3 1 .5 1-.3 1 .4 1 .4 1 .3 1 .1 1 0 1 0 1-.4 1 .2 1 .1 1 .3 1 .2 1-.1 1 .2 1 .6 1-.3 1-.4 1 .6 1 .2 1 0 1 .9 1-.3 1 .4 1-.6 1 .5 1-.1 1 0 1-.1 1 .4 1-.5 1 .9 1 .7 1-.3 1-1 1 .7 1-.2 1 .2 1 .1 1 .5 1 0 1-.4 1 .5 1-.1 1 .7 1-1 1 .4 1-.2 1 .4 1-.6 1 .4 1 .3 1-.1 1 0 1 .2 1-.1 1 0 1 .2 1 .1 1 .1" stroke="#74a043" stroke-width="1.2"/>
<path d="M404.7 126.3l1 0 1 0 1 0 1 .1 1 0 1 .1 1 .1 1 0 1 0 1-.1 1 .2 1 0 1 .2 1 .3 1 .1 1-.1 1 .2 1 .1 1 .2 1 .1 1 .6 1-.3 1 .4 1 0 1 .6 1 .4 1 0 1 .2 1 .2 1 .5 1 .1 1 .9 1 .4 1 .2 1 .4 1 0 1 1 1-.5 1 .6 1 1 1-.3 1 .3 1 .1 1 1 1 .4 1 .1 1-.1 1 .7 1 .1 1 .8 1 .5 1 .1 1 .3 1 .6 1 .4 1-.4 1 .7 1-.1 1 .4 1 .8 1-.2 1 .5 1 .7 1 .1 1-.1 1 .7 1 .4 1 .2 1 1.1 1-.1 1 .4 1 .7 1 .2 1 0 1 .8 1 .5 1 .4 1 .7 1 .4 1 .3 1 .3 1 .5 1 1 1-.5 1 1.2 1 .3 1 .2 1 .6 1 .7 1 0 1 .9 1 .6 1 .1 1 .7 1 .8 1 .1 1 .2 1 .2 1 .4 1 1.1 1 .1 1 .4 1 .4 1 .2 1 1.1 1 .1 1 .6 1-.3 1 .8 1 .4 1 0 1 .4 1 .4 1 .8 1 .2 1 .1 1 .7 1 0 1 .6 1 .3 1 .1 1 .8 1 .1 1-.2 1 .8 1 .8 1-.6 1 1.1 1 .1 1 0 1 .6 1 0 1 .2 1 .8 1 .2 1-.2 1 .6 1 .4 1-.2 1 .9 1-.2 1 .6 1 .3 1-.2 1 .6 1 .1 1 .3 1 0 1 .6 1 .1 1 .4 1 .1 1-.4 1 .4 1 .4 1 .4 1-.3 1 .4 1 .2 1 .1 1 .5 1-.4 1 .6 1-.2 1 .5 1-.2 1 .3 1 .5 1-.3 1 .4 1 .3 1 0 1 .1 1 .2 1 0 1 .5 1 .2 1 .4 1-.2 1 .3 1-.2 1 .4 1-.2 1 .4 1 .1 1 .4 1-.5 1 .6 1 .1 1 .4 1-.1 1 .2 1 .6 1-.3 1 .2 1 .6 1-.6 1 .8 1 .1 1 .2 1-.3 1 .2 1 .4 1 .1 1 .6 1-.1 1 .6 1-.2 1 .4 1-.2 1 .2 1 .5 1 .2 1-.2 1 .7 1-.2 1 .6 1-.5 1 .4 1 .4 1 0 1 .1 1 .5 1 .2 1-.1 1 .4 1-.1 1 .1 1 .7 1-.3 1 .2 1 .5 1-.3 1 .2 1 .4 1 .2 1 .4 1-.1 1 .1 1 0 1 .4 1 .2 1 .5 1-.5 1 .2 1 .1 1 .6 1 .4 1 .4 1-.6 1 .6 1 0 1 .7 1-.1 1 .5 1-.2 1 .4 1 0 1 0 1 .5 1-.1 1-.3 1 .7 1-.1 1 .6 1 .5 1-.2 1 .3 1-.3 1 .3 1 .2 1 .8 1-.4 1 .4 1-.3 1 .5 1 .3 1 .1 1 .2 1 .3 1 .2 1-.2 1 .1 1 .7 1 .2 1-.3 1 .7 1-.4" stroke="#1063a6" stroke-width="2.1" stroke-dasharray="6 4.2"/>
<path d="M404.7 126.3l1 0 1 0 1 0 1 .1 1 0 1 .1 1-.1 1 .1 1 0 1 .2 1 .1 1 .2 1-.2 1 0 1 .5 1-.2 1 .4 1 .3 1 0 1-.3 1 .3 1 .3 1 .5 1-.1 1 .6 1 .1 1 .2 1 .2 1 .1 1 .9 1 0 1 .8 1-.3 1 .2 1 1.2 1-.2 1 .7 1 .2 1 .4 1 .3 1 .2 1 .3 1 .7 1 .1 1 .9 1-.1 1 .7 1-.1 1 .6 1 0 1 .3 1 .5 1 .3 1 1 1-.6 1 .5 1 .6 1 .1 1 .4 1 .5 1 .1 1 .2 1 .1 1 .7 1 .5 1 .3 1 .6 1 0 1 .6 1 .1 1 .2 1 1.1 1 .2 1 .7 1 .1 1 .3 1 .6 1 .7 1 .4 1 .6 1 .7 1 .3 1 .7 1 .3 1 .4 1 .4 1 .2 1 1.2 1 .7 1 0 1 .6 1 .6 1 .8 1 .5 1 .4 1 .5 1 .1 1 .8 1 .4 1 .6 1 .1 1 .4 1 .6 1 1 1-.4 1 1 1-.3 1 .6 1 .1 1 1 1 0 1 .4 1 .6 1 .4 1-.2 1 .6 1 .2 1 .7 1-.5 1 1.4 1-.2 1-.2 1 .9 1 .1 1 .5 1 .3 1 .6 1-.5 1 .9 1 .5 1-.3 1 .8 1 .3 1-.1 1 0 1 .8 1 .1 1 .8 1-.2 1 .5 1 .2 1 .2 1-.1 1 .4 1 .5 1 .2 1 .2 1 .5 1 .1 1 .4 1 .1 1 .3 1 0 1 0 1 .8 1 .2 1 .2 1-.1 1 .7 1 0 1 .2 1 0 1 .3 1 .2 1 .4 1 0 1 .3 1 .1 1 .1 1 .5 1 .2 1 .2 1-.5 1 1.1 1 0 1 0 1 .9 1-.3 1 .4 1 0 1-.4 1 1.1 1-.4 1 .7 1-.1 1 0 1-.2 1 .7 1 0 1 .5 1-.1 1 .6 1-.1 1 .2 1 .8 1-.1 1-.2 1 .5 1-.3 1 .4 1 .3 1 0 1 .1 1 .6 1-.1 1 .1 1 .3 1 .1 1 .6 1 0 1-.2 1 .8 1 .2 1-.2 1 0 1 .4 1 .1 1 .4 1 .1 1 .4 1-.5 1 .4 1 .4 1 0 1 .2 1 0 1 .9 1-.3 1 .4 1-.2 1 .2 1 .3 1 .6 1 .1 1 .3 1 0 1 .2 1-.2 1 0 1 .7 1-.4 1 .5 1-.1 1 0 1 .5 1-.1 1 .3 1 .4 1-.1 1 .5 1-.2 1 .3 1-.1 1 .7 1-.7 1 .7 1 .3 1-.7 1 .4 1 .2 1 .5 1 .1 1 .2 1 .3 1 .6 1-.7 1 .5 1 .1 1 .4 1-.7 1 .3 1 .3 1 .1 1 .5 1-.1 1-.2 1 .4 1 0 1 .3 1 .3 1 0 1 .6 1 .4 1-.3 1-.4 1 .9 1 .3 1-.5" stroke="#d35e28" stroke-width="2.1" stroke-dasharray="6 4.2"/>
<path d="M404.7 126.3l1 0 1 0 1 .1 1 0 1 0 1 0 1 .1 1 0 1 .2 1 0 1 0 1 .2 1 0 1 .2 1 .2 1-.1 1 0 1 .1 1 .7 1-.1 1 0 1 .3 1 0 1 .8 1-.1 1 .1 1 0 1 1.1 1-.2 1-.2 1 .8 1 .5 1 .4 1 .1 1 .9 1 .3 1 .2 1 .2 1 .1 1 .7 1 .4 1 .1 1 .7 1 .4 1 .1 1 .3 1 .5 1 .7 1 .3 1-.4 1 .6 1 1.1 1-.4 1 .8 1 0 1 .5 1 0 1 .4 1 .4 1 .2 1 .3 1 .7 1-.1 1 .7 1-.1 1 .4 1 .7 1 .3 1 .5 1 .2 1 .5 1 .3 1 .2 1 .7 1 .8 1 .3 1 .5 1 .7 1 0 1 .8 1 .3 1 .9 1-.1 1 .8 1 .4 1 .6 1 .4 1 1.1 1 .1 1 .6 1 .2 1 .6 1 .7 1 .4 1 .9 1 .2 1 .5 1 .5 1 .2 1 .3 1 .6 1 .6 1 .3 1 .2 1 1 1 .1 1 .5 1 .6 1-.2 1 .8 1 .2 1 .4 1-.1 1 .5 1 .5 1 .4 1 .7 1-.1 1 .5 1 .2 1 .1 1 .5 1 .4 1 .8 1 .2 1-.2 1 .3 1 .5 1 .1 1 1.1 1-.1 1 0 1 .2 1 .2 1 .5 1-.3 1 .8 1 .2 1 .8 1-.6 1 .9 1 0 1 .5 1-.1 1 .5 1 .4 1 .6 1-.5 1 .4 1 .2 1 .1 1 .4 1 .2 1 .1 1-.1 1 .7 1-.2 1 .6 1 .4 1-.3 1 .5 1 .2 1 .2 1 .1 1 .3 1 .3 1-.2 1 .4 1 .4 1-.1 1 0 1 .7 1 .2 1 .2 1 0 1 0 1 .7 1 .1 1 .1 1-.1 1 .3 1-.1 1 .2 1 .4 1 .3 1 .2 1 .1 1 .6 1-.5 1 .7 1-.2 1 .5 1-.3 1 .9 1 0 1-.5 1 .9 1-.1 1 .3 1 0 1 .2 1-.2 1 .4 1 .3 1-.2 1 .4 1 .4 1 .3 1-.1 1 .7 1-.3 1 .4 1 .4 1-.3 1 .6 1-.1 1 0 1 .7 1 .2 1-.3 1 .6 1 .1 1-.1 1 .8 1-.4 1 0 1 .4 1 .1 1 .1 1 .2 1-.1 1 .7 1-.3 1 .7 1 .1 1-.1 1 .2 1 .1 1 .3 1 .6 1-.2 1 0 1 .7 1-.3 1 .2 1 .7 1-.2 1 .3 1 .1 1 .1 1 .2 1 .2 1 .5 1-.6 1-.2 1 .7 1-.1 1 .5 1-.1 1 .4 1 .4 1-.2 1 .1 1 .6 1-.3 1 .4 1 .1 1-.1 1 .7 1-.3 1 .6 1 0 1-.2 1 .4 1 .4 1-.1 1 .8 1-.7 1 .7 1-.5 1 .5 1 .4 1-.5 1 .7 1-.2 1 .1 1 .3 1 .2" stroke="#edae26" stroke-width="2.1" stroke-dasharray="6 4.2"/>
<path d="M404.7 126.3l1 0 1 0 1 0 1 .1 1 .1 1 0 1 0 1 0 1 .1 1 .1 1-.1 1 .2 1 .2 1 0 1 .1 1 .1 1 0 1 .3 1 .2 1 0 1 .3 1 .4 1 .3 1-.6 1 .4 1 .8 1 .1 1 .3 1-.1 1 .7 1 .5 1 .3 1 .1 1 .4 1 .6 1 .4 1 .7 1-.6 1 .8 1 .8 1-.2 1 .6 1 .7 1-.3 1 .7 1 .7 1-.4 1 .1 1 1.1 1 0 1 .4 1 .4 1 .6 1-.1 1 .7 1 .2 1 .1 1 .6 1 .1 1 .3 1 1 1-.9 1 .6 1 .4 1 .5 1 .5 1 .3 1 1 1-.3 1 .3 1 .8 1 .3 1 .5 1 .8 1 .4 1 .7 1 0 1 .9 1 .4 1 .3 1 .3 1 .9 1 .3 1 1 1 .4 1 .5 1 1.1 1 .2 1-.3 1 1.2 1 .5 1 .6 1 .3 1 .9 1-.4 1 .8 1 .9 1 .3 1 .6 1 .1 1 .4 1 .7 1 .2 1 0 1 1 1-.1 1 .8 1 .2 1 .5 1 .5 1-.2 1 .8 1 .2 1 .3 1 .4 1 .2 1 .5 1 .3 1 .1 1 .8 1 .1 1 0 1 .7 1 .3 1-.2 1 .8 1 .1 1 .4 1 .2 1 .5 1 .2 1-.3 1 .8 1 .4 1 .4 1 .4 1 0 1 .5 1 .2 1-.1 1 .3 1 .7 1 .1 1-.3 1 .4 1 .8 1 0 1-.2 1 .8 1 .4 1 .2 1 0 1 .2 1 .2 1 .2 1 .5 1 .8 1 .2 1-.4 1-.1 1 .5 1 .2 1 .2 1-.1 1 .6 1 .1 1 .4 1-.2 1 .6 1-.1 1 .3 1 .3 1 .2 1 .2 1 .2 1 .2 1 .2 1 .2 1 .3 1 .7 1 0 1-.2 1 0 1 .8 1 0 1 .2 1 .4 1-.5 1 .5 1 .4 1 .5 1-.2 1 .3 1 .1 1 .2 1 .3 1 0 1 .1 1 .3 1 .4 1 .4 1-.1 1 .1 1 .6 1 0 1 .2 1 0 1 .1 1 .4 1 .1 1 .5 1-.3 1 .5 1 .1 1-.1 1 .4 1 0 1 .3 1 .2 1 .9 1-.7 1 .6 1-.1 1 .4 1 0 1 .1 1 .7 1 .1 1-.5 1 .6 1 .1 1-.1 1 .6 1 .3 1 0 1 .3 1 .5 1-.3 1 .5 1 .5 1-1.1 1 .8 1 .6 1-.1 1-.1 1 .7 1 .1 1-.5 1 .8 1-.1 1 .3 1-.2 1 .6 1 .1 1-.1 1 .3 1 .6 1 .2 1-.6 1 .6 1 0 1 .1 1 .4 1 .5 1-.1 1-.2 1 .4 1 .2 1 .4 1-.2 1 .2 1 .2 1 .3 1-.5 1 1 1-.2 1 .1 1-.1 1 .5 1 .6 1-.5 1-.1 1 .6 1 .1 1 .1 1-.2 1 .6 1 .2" stroke="#74a043" stroke-width="2.1" stroke-dasharray="6 4.2"/>
<path d="M404.7 126.3l1-.1 1-.1 1-.2 1-.2 1 0 1 .1 1-.2 1 .2 1-.2 1 0 1-.1 1 .3 1-.4 1 .1 1 .1 1 .1 1 0 1-.3 1 .1 1 .6 1-.3 1 0 1-.1 1 .2 1-.1 1 .5 1 .1 1-.1 1 .5 1-.1 1 .2 1 .6 1 0 1 .1 1 .9 1-.2 1 .5 1 .6 1-.3 1 .5 1 .7 1 0 1 .4 1 .4 1 .3 1 .3 1 .6 1 .2 1 .7 1 0 1 .7 1 0 1 .8 1-.1 1 .7 1 .2 1 .7 1-.2 1 .5 1 .7 1 0 1 1.1 1 0 1 .6 1 .5 1 .3 1 .1 1 .2 1 .3 1 .6 1 .5 1 .4 1 .7 1 0 1 .3 1 .8 1 .9 1-.3 1 .6 1 .4 1 .7 1 .4 1 .1 1 .7 1 .2 1 .6 1 .7 1-.6 1 .7 1 .4 1 .5 1 .7 1 .4 1 .9 1 .3 1 .2 1 .3 1 .6 1 .4 1 .3 1 .7 1 .2 1 .5 1 .5 1 .3 1 .5 1 .6 1 .4 1 .2 1 1.2 1 .5 1 .4 1 .3 1 .2 1 .2 1 .4 1 .3 1 .7 1 .1 1 .9 1 .4 1 .2 1 .4 1 .6 1 .5 1 .2 1 .9 1-.2 1 .4 1 .4 1 .5 1 .5 1 .5 1 .1 1 .9 1-.5 1 .9 1 .3 1 .1 1 .3 1 .8 1 .6 1 .2 1 .2 1 .3 1 .3 1 .4 1 .6 1 .5 1 .3 1 0 1 .7 1 .5 1-.4 1 .9 1 .2 1 .5 1 0 1 .4 1 .6 1 .3 1 .3 1 .3 1 .7 1 .5 1-.2 1 .7 1 .1 1 .5 1 .6 1 .1 1 .3 1 .1 1 .8 1 .5 1-.5 1 .9 1 .1 1 .1 1 1 1 0 1 .7 1-.4 1 .4 1 0 1 .7 1-.1 1 .6 1 .6 1 .1 1 .4 1 .1 1 .4 1 0 1 0 1 .7 1 .1 1 .1 1 .2 1 .8 1-.4 1 .4 1 .6 1 .3 1 .1 1-.1 1 .8 1 0 1-.1 1 .9 1-.1 1-.1 1 0 1 .9 1 .1 1 .5 1 .2 1 0 1 .5 1 .2 1-.1 1 .7 1 .1 1 .1 1 .4 1 0 1 .2 1 .4 1 0 1 .8 1 0 1 .3 1 .5 1 .1 1 .4 1-.5 1 .8 1-.3 1 .3 1 .3 1 .2 1 .2 1 .3 1 .5 1-.7 1 .4 1 .2 1 .6 1 .1 1 .3 1 .6 1-.3 1-.2 1 .7 1 .5 1 .2 1-.3 1 .3 1 .2 1 .2 1 0 1 .1 1 .7 1 .2 1-.2 1 0 1 .1 1 .1 1 .1 1 .4 1 .1 1 .4 1-.1 1 .1 1 .3 1-.4 1 .8 1 0 1 .6 1-.3 1 .2 1-.1 1 .9 1-.3 1 .3 1-.2 1 .3 1-.2" stroke="#1063a6" stroke-width="2.1" stroke-dasharray="1.8 1.7"/>
<path d="M404.7 126.3l1-.2 1-.3 1-.1 1-.2 1-.2 1-.3 1-.1 1-.1 1 0 1-.3 1 0 1 0 1-.2 1-.1 1-.3 1 0 1 .1 1 0 1-.5 1 .3 1-.2 1-.1 1 .6 1-.3 1-.3 1 .1 1 .4 1-.2 1 .4 1 .4 1-.2 1 .6 1 .2 1 0 1 .5 1 .3 1 .2 1 0 1 .7 1 0 1 .5 1 .3 1 .3 1-.1 1 1.1 1 .2 1 .3 1 .5 1 .1 1 .4 1 .5 1-.3 1 .6 1 .4 1 .4 1 .3 1 .3 1 .6 1 .5 1 .3 1 .4 1 .3 1 .6 1 .4 1-.1 1 .3 1 .4 1 .5 1 .6 1 .4 1 .3 1 .2 1 .5 1 .5 1 .5 1-.3 1 1.2 1 .5 1 .2 1 .9 1 .3 1 .5 1-.1 1 1 1 .3 1 .5 1-.1 1 .6 1 .8 1 .2 1 1.2 1-.1 1 .9 1 .4 1 1 1-.2 1 .8 1-.1 1 .3 1 .8 1 .6 1-.1 1 .8 1 .3 1 .2 1 .5 1 .3 1 .2 1 .6 1 .5 1 .1 1-.1 1 1.2 1 .1 1 .8 1 .1 1 .7 1 .3 1 .5 1 .5 1 .6 1 .1 1 1.2 1 .5 1 .4 1 .1 1 1.2 1 .3 1 1 1 .1 1 .6 1 .9 1-.2 1 1 1 .6 1 .1 1 .9 1 .8 1 .6 1 .8 1 .4 1-.1 1 1 1 .4 1 .4 1 .1 1 1.2 1 .4 1 .1 1 .2 1 .4 1 .4 1 .9 1-.2 1 1.1 1 .1 1 .6 1 .5 1 .8 1 0 1 .2 1 .5 1 .4 1 .4 1 .4 1 .1 1 .7 1 0 1 1 1 0 1 .2 1 .8 1 .4 1 .2 1-.1 1 .5 1 .8 1 .7 1-.1 1 .4 1 .4 1 0 1 .8 1-.1 1 .5 1 .1 1 .3 1 .4 1 .3 1 .4 1 .8 1 0 1 .1 1 .6 1 0 1 .7 1 .3 1 0 1 .4 1 .3 1 0 1 .3 1 .6 1 .1 1 .5 1 .5 1 0 1 .5 1 .6 1-.2 1 .7 1-.2 1 .2 1 .6 1 .2 1 0 1 .9 1 .2 1-.2 1 .5 1 .3 1 0 1 .7 1-.1 1 .2 1 1 1-.2 1 .2 1 .4 1 .2 1 .9 1-.1 1 .4 1 .2 1 .6 1-.8 1 1 1 .1 1 .2 1 .6 1 .1 1-.3 1 .7 1 .2 1 .5 1-.5 1 .9 1 .1 1 .4 1 .2 1-.4 1 .9 1 .1 1 0 1 .7 1 0 1 .6 1 .1 1-.3 1 .7 1 0 1 .2 1 .2 1 .5 1-.2 1 .5 1-.3 1 .7 1-.2 1 .2 1 .5 1-.1 1 .8 1-.4 1 .9 1 0 1 0 1 .3 1 .1 1 .7 1-.3 1-.1 1 .4 1 0 1 .3 1 0 1 .2 1 .5" stroke="#d35e28" stroke-width="2.1" stroke-dasharray="1.8 1.7"/>
<path d="M404.7 126.3l1-.2 1-.2 1-.3 1-.2 1-.1 1-.1 1-.3 1 0 1-.3 1-.1 1 .1 1-.4 1 .4 1-.3 1 0 1-.3 1-.3 1 0 1-.1 1 .3 1-.4 1 0 1 .5 1-.6 1 .2 1 .6 1 .4 1-.9 1 0 1 .6 1 .5 1 .1 1 .1 1 .1 1 .7 1-.1 1 .2 1 .5 1 .6 1 0 1 1 1-.4 1 .6 1-.3 1 .7 1 .5 1 .2 1 .4 1 .3 1 .3 1 .4 1 .5 1 .4 1 0 1 .6 1 .2 1 .7 1 .6 1 0 1 .4 1 .2 1 .5 1 .2 1 .1 1 1 1 .7 1-.1 1 .3 1 .5 1 .7 1-.1 1 .7 1 .3 1-.2 1 .9 1 .7 1 .4 1 .3 1 .2 1 .8 1 .4 1 .6 1 .7 1 0 1 .8 1 .3 1 1 1 0 1 1 1-.5 1 .5 1 .9 1 .3 1 .8 1 .4 1 .4 1 .1 1 .6 1 .6 1 .1 1 .5 1 .7 1 .1 1 .4 1 .7 1 .2 1-.1 1 .8 1 .3 1 .5 1 .9 1 .1 1 .2 1 .2 1 .8 1 .2 1 .8 1 .2 1 .6 1 .1 1 .7 1 .5 1 .3 1 .9 1 .4 1 .5 1 .5 1 .7 1 .2 1 1.2 1 .5 1 .6 1 .8 1 .3 1 .4 1 1 1 .1 1 .7 1 0 1 .9 1 .7 1 .6 1 .5 1 .6 1 .1 1 .4 1 .6 1 .2 1 .6 1 .5 1 0 1 .5 1 .9 1 .2 1 .8 1 .1 1 .3 1 .8 1 .2 1 .5 1 .2 1 .4 1 .5 1 .3 1 .5 1 .2 1 .7 1 .5 1 .3 1 0 1 1 1-.4 1 .9 1 .3 1 .5 1 0 1 .4 1 .8 1 .3 1-.1 1 .5 1 .2 1-.1 1 1.3 1-.2 1 .5 1 .4 1 0 1 .8 1 0 1 .1 1 .7 1 .3 1 .1 1 .5 1 .7 1 .1 1 .1 1 .2 1 .9 1-.3 1-.1 1 1.1 1-.1 1-.1 1 .4 1 .4 1 0 1 .7 1 .3 1 .9 1-.2 1 .2 1 .4 1 .4 1 .5 1 .3 1-.5 1 .4 1 .7 1 .7 1-.3 1 .7 1-.1 1 .2 1 .4 1 .7 1-.2 1 .4 1 .3 1 .4 1 .1 1 .5 1 .4 1 .1 1 0 1 .3 1 .3 1 .2 1 0 1 .3 1 .4 1-.1 1 1.4 1-.2 1-.1 1 .2 1 .7 1-.4 1 .3 1 .8 1-.1 1 .5 1 .1 1 .2 1 0 1 .5 1 .2 1 .2 1 .1 1 .6 1-.1 1 .4 1-.2 1 .1 1 .8 1-.2 1 .2 1 .5 1 .4 1-.2 1 .2 1 .4 1 .2 1 .1 1-.3 1 .9 1-.2 1 .9 1-.5 1 .4 1 .1 1 .2 1 .8 1-.6 1 .5 1-.1 1 .1" stroke="#edae26" stroke-width="2.1" stroke-dasharray="1.8 1.7"/>
<path d="M404.7 126.3l1-.3 1-.2 1-.3 1-.2 1-.1 1-.3 1-.1 1-.3 1 .3 1-.6 1 0 1-.3 1 .2 1-.1 1-.1 1-.1 1 .1 1 0 1-.1 1-.8 1 .3 1 .2 1 .1 1-.8 1 1.1 1-.2 1 .4 1-.6 1 .3 1 .1 1 .3 1 .1 1 0 1 .9 1 .1 1-.2 1-.1 1 1.1 1-.6 1 .6 1 .3 1 .5 1 .6 1 .5 1 .2 1 0 1 .9 1 .3 1 .2 1 .8 1-.6 1 .4 1 .3 1 .4 1 .6 1 .3 1 .1 1 .8 1 0 1 .2 1 .3 1 .2 1 .7 1 .2 1 .5 1 .5 1 .4 1 .2 1 1 1-.3 1 .9 1 .2 1 .5 1 .3 1 .4 1 .8 1-.1 1 .9 1 0 1 .4 1 1 1 .2 1 1.1 1-.5 1 1 1 .4 1 .5 1 .3 1 .2 1 1 1 .5 1 .4 1 .4 1 .7 1 .4 1 .3 1 .1 1 .9 1-.1 1 .7 1 .1 1 .6 1 .6 1 .1 1 .7 1 0 1 .9 1 0 1 1 1 0 1 .2 1 .1 1 .6 1 1 1-.4 1 .4 1 .9 1 .8 1 0 1 .4 1 .7 1 .6 1 .9 1 .8 1 0 1 .5 1 .5 1 .5 1 1 1 .2 1 1.2 1 .4 1 .5 1 1.2 1-.2 1 1.3 1 .4 1 .6 1 .5 1 .3 1 1 1 .7 1-.3 1 1 1 .5 1 .4 1 .6 1 .4 1 .4 1 .8 1 0 1 .6 1 .4 1 .4 1 .5 1 .9 1-.1 1 1.3 1-.6 1 .2 1 .9 1 .3 1 1 1 .2 1 .1 1 .6 1 .4 1 1.1 1-.2 1 .4 1 .5 1 .3 1 .3 1 .2 1 .6 1 .4 1 0 1 .7 1 0 1 .3 1 .8 1 .5 1 .4 1 0 1 .1 1 .4 1 .5 1 .4 1 .5 1 .1 1 .6 1-.1 1 .6 1 .3 1 .2 1 .3 1-.1 1 .7 1-.1 1 .4 1 0 1 .6 1 0 1 .2 1 .6 1-.2 1 .6 1 .1 1 .4 1 .1 1-.1 1 .6 1 .3 1 .6 1 .3 1 0 1 .3 1-.7 1 .8 1 .1 1 .7 1 .3 1 .2 1 .3 1 .2 1 .2 1 .1 1 .6 1 .1 1 .5 1-.1 1 .3 1 .2 1 .6 1-.1 1-.1 1 .6 1 .3 1 .5 1 .2 1 .6 1 .1 1 .4 1 .4 1 .2 1 .2 1 0 1 .5 1 .1 1 .5 1-.1 1 .6 1 0 1 .6 1 .4 1 .3 1-.1 1 .7 1-.5 1 .8 1-.1 1 .6 1 0 1 .6 1 .1 1 .8 1 .5 1-.1 1 .4 1 .1 1 .2 1 .2 1 .1 1 .4 1 .7 1 0 1 .5 1-.1 1 1.1 1 .1 1-.1 1 .8 1 0 1 .4 1 0 1 .3 1 .7 1 .2" stroke="#74a043" stroke-width="2.1" stroke-dasharray="1.8 1.7"/>
<path d="M404.7 241.5l1 12.5 1 6.4 1 4.4 1 3.9 1 3.3 1 3.3 1 2.8 1 2.1 1 2.3 1 1.6 1 1.6 1 2 1 1.3 1 1.4 1 .8 1 1.3 1 .7 1 .8 1 .9 1 .1 1 .8 1 1 1 .6 1 .2 1-.2 1 .9 1 .2 1 .4 1-.1 1 .1 1 1.5 1 .1 1-.6 1 .6 1 .4 1-.1 1 .6 1-.2 1-.2 1 .5 1 .5 1-.4 1 .8 1 .2 1 0 1 0 1-.1 1 .3 1-.5 1-.5 1 .7 1 .9 1-.1 1-.8 1 .4 1-.1 1-.2 1 .4 1 .5 1-.2 1-.1 1-.7 1 1.8 1-1.3 1 .5 1 .3 1-.2 1 .3 1-1.2 1 .6 1 .1 1-.2 1-.1 1 1 1-.8 1 1 1-.1 1-.4 1-.4 1 .3 1 0 1 .1 1-.1 1 .4 1-.1 1 .1 1 0 1 .6 1 .3 1-.7 1-.1 1 0 1 .5 1-.1 1-.2 1 0 1 .3 1 .2 1-.5 1 .3 1-.8 1 .5 1 .5 1-.8 1 0 1 .8 1-.9 1 .7 1 1 1-.6 1 .6 1-.1 1-.9 1 .3 1 .2 1 .4 1 .1 1-.2 1-.1 1-.6 1 .9 1-.6 1 .6 1 .2 1-1.1 1 1.4 1-.8 1 .5 1 0 1 .4 1-.2 1 .2 1-.3 1-.7 1 .3 1 .4 1 .1 1-.3 1-.3 1-.2 1 .5 1 1.2 1-1.2 1-.1 1 .4 1 .1 1-.2 1-.9 1 .6 1 0 1 .5 1-.5 1 .2 1-.3 1 .2 1 1.1 1-.5 1-.2 1-.5 1-.1 1 .9 1-.4 1 .3 1-.1 1-.1 1-1 1 1.3 1 .4 1-.7 1-.1 1 .2 1-.2 1-.6 1 .6 1 .1 1 .5 1-.8 1 .3 1 .1 1 .2 1 .6 1-.5 1 0 1-.8 1 1.2 1-1.4 1 1.3 1-.2 1-.3 1-.5 1 .7 1-.5 1 .8 1-1.7 1 1.2 1-1.1 1 1.1 1-.2 1 .5 1-.8 1 0 1-.4 1 .7 1 .2 1-.2 1-.3 1 .3 1 .4 1-.1 1-1 1 .6 1-.1 1-.8 1 1.4 1-.1 1-.6 1 .6 1-.1 1-.3 1 .4 1-.3 1-.1 1 .6 1-1 1 1.4 1-.7 1-.2 1 .3 1-.5 1 .2 1 .9 1-.6 1-.2 1 0 1 .4 1 0 1-.5 1 .6 1-.5 1 0 1 .3 1-.6 1-.3 1 .6 1 .4 1-.5 1 .5 1 .1 1-.6 1 .1 1 0 1 .3 1-.1 1-.1 1 .5 1-.4 1 0 1-.5 1 .4 1 .5 1-.3 1-.2 1-.1 1-.3 1 0 1 .8 1-.4 1 0 1 .4 1-.6 1 0 1 .7 1-.3 1-.9 1 .6 1-.3 1 .1 1 .2 1-.6 1 .4 1 1 1-.8 1-.1 1 .5 1-.9 1 .5 1 .6 1-.6" stroke="#1063a6" stroke-width="1.2"/>
<path d="M404.7 241.5l1 12.5 1 6.3 1 4.5 1 4 1 3.7 1 3.4 1 2.7 1 2.7 1 2.3 1 1.8 1 1.7 1 1.5 1 1.6 1 1.7 1 1.2 1 .6 1 1.6 1 .3 1 .9 1 1 1 1 1 .5 1 1.1 1 .4 1 1.1 1-.6 1 1.2 1 .8 1 .8 1-1 1 1.2 1-.3 1 1.3 1-.1 1 .6 1 .6 1 .2 1-.1 1 .6 1 1.2 1-1.2 1 .6 1-.2 1 .8 1-.5 1 .7 1-.7 1 .8 1 1 1-1.3 1 .3 1 .7 1-.7 1-.3 1 .3 1 .9 1 .4 1-.3 1 .1 1 .5 1-.4 1 .6 1 .2 1-.7 1 .7 1-.1 1-.3 1 .2 1 .5 1-.9 1-.1 1 1.2 1 .4 1-.6 1 .3 1-1 1 .2 1 .4 1 .1 1 .2 1-.2 1 .3 1 0 1 .3 1 .3 1-.1 1 .3 1-.6 1-.1 1-.5 1 .1 1 1.1 1-.1 1-.2 1-.1 1-.3 1-.3 1 .7 1 .1 1-.9 1 1.6 1-.7 1 .5 1 .4 1 .1 1-.7 1 .5 1 .1 1-.3 1 .1 1-.4 1 .5 1-.4 1 .2 1 .2 1 .4 1-.4 1 0 1 0 1 1.3 1-1.3 1 .4 1-.8 1 .7 1-.5 1 .3 1 .6 1 .4 1-.6 1 .2 1-.2 1-.2 1 .2 1 .4 1-.3 1-.2 1 0 1 .4 1-.3 1 .5 1-1 1 .9 1-.6 1 .3 1 .9 1-.5 1-.6 1 .1 1 .5 1 0 1-.4 1 .3 1-.4 1-1 1 1.6 1-.7 1 .5 1-.3 1-.1 1-.2 1 .6 1 .1 1 .1 1-.2 1-.1 1-.4 1 .2 1 .2 1-1.2 1 .6 1 .4 1 .4 1 .2 1 .1 1-1 1 .4 1-.3 1-.1 1 .2 1 .2 1 .2 1-.9 1 .6 1-.4 1 1 1 .1 1-.9 1-.1 1 .6 1 .1 1-.8 1 .2 1 .3 1-.5 1 1 1-.6 1 0 1-.5 1 1 1-1 1 .2 1 .1 1 .2 1-.6 1 .3 1 .6 1-.3 1 .1 1 .3 1-.2 1 .2 1-.4 1-.3 1 1 1-1.3 1 .1 1 .1 1 1.4 1-.9 1 .4 1-1.1 1 .2 1 .6 1-.3 1 .2 1 .2 1-.2 1 0 1 .1 1-.2 1 .2 1 .3 1-.8 1 .5 1 .3 1-.4 1 0 1 .8 1-.3 1 .5 1-.2 1-.9 1-.1 1 .2 1 .4 1-1.7 1 1.4 1 .5 1-.5 1 .1 1-.2 1-.6 1 1.1 1-.5 1 .3 1-.1 1 .7 1-.5 1-.1 1-.2 1-.2 1 .5 1 .2 1-.4 1-.9 1 .6 1 1.1 1-1 1 .3 1-.8 1 .5 1-.1 1 .7 1-.1 1 0 1 .2 1-.6 1 .9 1-.8 1 .5 1 .5 1-1.1 1 .4 1-.2 1 .1 1 .1 1-.2 1 .1" stroke="#d35e28" stroke-width="1.2"/>
<path d="M404.7 241.5l1 12.5 1 6.3 1 4.4 1 4 1 3.8 1 3.3 1 2.8 1 2.4 1 2.3 1 2.3 1 1.5 1 2.3 1 1.5 1 1.4 1 .9 1 1.4 1 1.7 1 .7 1 .9 1 .9 1 1.3 1 0 1 1.9 1 .4 1 .2 1 1.5 1-.8 1 1.3 1 1.3 1 1.1 1-.7 1 .3 1 1 1 .5 1 0 1 .3 1 1.4 1-.8 1 .1 1 .8 1 1.1 1 0 1-.1 1-.3 1 .7 1 1.6 1-.9 1 .4 1-1 1 .7 1 .1 1 1.2 1-.8 1 .3 1 0 1-1 1 2 1-1.2 1 .7 1-.3 1 .6 1 .2 1 .1 1 1 1-1.1 1 .5 1 .6 1-.4 1 .1 1 1.2 1-.4 1-.6 1 .6 1-.4 1 .7 1-.8 1 1.1 1-.1 1 .1 1 0 1 .1 1-.4 1 .5 1 .4 1 0 1-.6 1 .8 1-.8 1 .3 1 0 1 .2 1 .3 1 .4 1 .2 1-.2 1-.5 1 .7 1 .2 1-.8 1-.1 1 .5 1 1 1-1 1 .1 1 .4 1-.8 1 .1 1 .5 1 .5 1-.5 1-.1 1-.4 1 1.5 1-1.3 1 1.2 1-.9 1 .9 1 .3 1-1.1 1 .7 1 .1 1 .2 1-.6 1 .7 1-.5 1-.5 1 1 1 .1 1-.6 1 0 1 .4 1 .5 1-1.3 1 1 1 .5 1-1.3 1 .7 1-.3 1 .2 1 .4 1-1.3 1 .5 1-.4 1 .5 1 1 1-1.3 1 .2 1 0 1 .4 1-.3 1-.2 1 0 1 .3 1-.5 1-.6 1 1.7 1-.5 1-.3 1 .2 1 .4 1-.8 1 .4 1-.2 1 .8 1-1.7 1 .5 1 1.3 1-1.2 1 .2 1-.2 1-.5 1 1 1 .3 1-.1 1-.7 1 .3 1 1 1-.9 1-.3 1 .8 1-.5 1-.7 1 .4 1 .8 1-.4 1 0 1 .3 1-.6 1-.4 1 .7 1-.3 1 .3 1-.3 1 0 1-.3 1 .8 1 .7 1-1.4 1 1.1 1-.3 1-.6 1-.1 1 .7 1-.4 1 0 1-.1 1 1.1 1-1.6 1 .9 1 .7 1-.8 1 .9 1-1 1 .1 1 .3 1-.7 1 .3 1 .3 1-.6 1 .5 1 .3 1-1 1 .5 1 .2 1-.5 1 .8 1 .1 1-.8 1 .4 1-.4 1 .2 1 .3 1-.3 1 .1 1-.3 1 .8 1-.1 1-.7 1 .5 1 .9 1-1.4 1 .9 1 .6 1-1.3 1 .4 1-1.3 1 1.6 1-.4 1 .1 1-.3 1 .4 1 .1 1-.2 1-.5 1 .1 1 .1 1-.1 1-.3 1-.2 1 .5 1-.4 1 .3 1-.4 1-.1 1 .5 1 0 1 1.1 1-1 1 .5 1-.2 1-.1 1-.3 1 .4 1 0 1-.9 1 1 1-.4 1-.7 1 .4 1 .7 1 .1 1-.5 1 .6 1-.2 1-1 1 .2 1 .6 1-.6" stroke="#edae26" stroke-width="1.2"/>
<path d="M404.7 241.5l1 12.5 1 6.3 1 4.4 1 4 1 4 1 3 1 3 1 2.7 1 2 1 1.9 1 1.8 1 2.2 1 1.5 1 .9 1 1.5 1 1.9 1 1.6 1 .6 1 1.6 1 .2 1 1 1 1 1 1.6 1 .7 1 1 1-.4 1 2.2 1-.3 1 2 1-.5 1-.5 1 1.3 1 0 1 1.5 1-.2 1 .8 1-.6 1 .3 1 .8 1 .2 1-.1 1 .9 1 .5 1-.4 1 .2 1 .2 1 .6 1-.1 1 .5 1 .4 1-.4 1 .1 1 .2 1 1 1-.6 1 .2 1 0 1 .7 1-.1 1-.5 1 1.1 1-.1 1 .5 1-.2 1-.2 1-.3 1 1.1 1 .2 1-.8 1 .5 1 .3 1-.1 1 .3 1-.2 1-.1 1 1 1-1.2 1 1.1 1-.5 1 .5 1-.3 1 .5 1-.3 1 .5 1-.7 1 .3 1 .5 1 .4 1-.5 1 1.3 1-1 1 .7 1-1.2 1 .5 1 .1 1 0 1-.1 1 .6 1-.1 1 1.2 1-.7 1 .2 1-1 1 1.7 1 .1 1-1.1 1 .1 1 .2 1 1.1 1-1.2 1 .2 1-.2 1 .9 1 .4 1-.8 1 1 1-.3 1-.4 1 .7 1 .4 1 0 1-.2 1 .4 1-.6 1 .2 1 .8 1-.8 1-.3 1-.1 1 .3 1-.5 1 .4 1 0 1 .5 1-.5 1 .6 1 .1 1 .4 1 .1 1 .3 1-.8 1-.5 1 1 1-.2 1-.3 1 .6 1 .5 1-.7 1-.4 1 .3 1-.5 1 1.4 1-1.5 1 .1 1 1 1-.6 1-.4 1 1 1 .1 1-1.3 1 1.1 1 .2 1 .4 1-.6 1 .1 1-.3 1 .3 1 .5 1-.5 1-.6 1 .3 1 .9 1-1.4 1 .3 1 0 1 .9 1-1 1 .2 1 .2 1 .2 1 .1 1-.8 1 0 1-.1 1 1.1 1-.6 1 .2 1-.1 1-.7 1 0 1 .2 1 1.4 1-1 1 .4 1-.7 1 1.6 1-1.1 1-.8 1 .5 1 .4 1 .3 1-.6 1 .4 1-.1 1-.1 1-.3 1 .4 1 .3 1-.5 1-.1 1 1.4 1-1 1 0 1-.9 1 1.1 1-1.2 1 1.3 1-.4 1-.4 1-.1 1 .4 1-.3 1-.6 1 1.3 1-1.2 1 .6 1-.1 1 .9 1-1.4 1 1.2 1-.3 1-1.5 1 .6 1 .4 1-.2 1 .6 1 .1 1 .2 1-.8 1 .6 1-.3 1 .3 1-.3 1 0 1-.1 1 .4 1-.2 1-.5 1-.5 1 1.4 1-.1 1-.4 1 .5 1-.5 1-.1 1-.1 1 .8 1 .2 1-.9 1-.2 1 .7 1 0 1-.2 1-.9 1 .8 1-.1 1-.2 1 .3 1-.3 1 .3 1-.2 1-.2 1 .9 1-.8 1 .3 1 .2 1-.9 1 .3 1-.3 1 .3 1-.5 1 .9 1-.4 1-.5 1 .7 1-.7 1-.2 1 .9" stroke="#74a043" stroke-width="1.2"/>
<path d="M404.7 241.5l1 3.1 1 2.9 1 2.9 1 2.8 1 2.8 1 2.6 1 2.6 1 2.1 1 2.2 1 1.7 1 2.2 1 2.2 1 1.4 1 1.7 1 1.4 1 1.1 1 1.7 1 1.5 1 1 1 .6 1 .8 1 .9 1 1.1 1 .4 1 1 1 .5 1 .1 1 .6 1 1 1 .5 1 .1 1 .9 1-.1 1 .3 1 .4 1 .5 1-.5 1 1 1 .3 1 0 1 .3 1 .9 1-.3 1 .3 1 .6 1-.4 1 1.4 1-.7 1 .3 1-.1 1 .5 1 .2 1 .3 1 .1 1-.2 1 1.3 1 0 1 .2 1 .2 1 .2 1-.3 1 1.3 1-.9 1 0 1 1.1 1-.6 1 .3 1-.1 1 .3 1 .4 1 .1 1-.3 1 .7 1-.3 1-.1 1 .9 1 0 1-.1 1 0 1 .6 1-.2 1 0 1 .5 1 0 1-.3 1 .8 1-.7 1 .3 1 .5 1-.1 1 .4 1 0 1-.8 1 1.1 1-.5 1 .3 1-.2 1-.1 1 .6 1 0 1 0 1-.3 1 .8 1-.4 1 .2 1-.2 1 .2 1 .3 1 0 1 0 1-.2 1 0 1-.3 1 .3 1-.1 1 0 1 .3 1 0 1-.2 1-.3 1 .5 1 .1 1 .1 1-.3 1-.1 1-.1 1 .5 1-.1 1 .4 1-.6 1 .8 1-.4 1 0 1 .1 1 .2 1 .1 1-.8 1 .4 1 .3 1 0 1-.1 1-.3 1 .4 1-.2 1 .1 1 .3 1-.4 1 .2 1 .3 1-.1 1-.7 1 .1 1-.3 1 .9 1-.4 1-.1 1 .1 1-.3 1 .5 1-.4 1 .5 1-.2 1 0 1 .1 1-.2 1 .1 1 .3 1 .2 1-.4 1 .3 1-.9 1 .5 1 0 1-.2 1 .3 1 .4 1-.4 1 .2 1 .1 1 0 1-.4 1-.2 1 .5 1-.1 1-.4 1 .7 1-.8 1-.1 1 .4 1-.4 1 .3 1 .1 1-.2 1 .2 1-.4 1-.3 1 .9 1 .1 1-.1 1-.3 1 .2 1-.2 1 .4 1-.7 1 .5 1-.3 1 .4 1-.2 1-.5 1 .4 1-.2 1 .4 1 .1 1-.6 1 .5 1-.4 1 .1 1 .2 1 .3 1-.2 1 .1 1-.4 1 .1 1 .3 1-.2 1 0 1 .1 1 .4 1-.1 1 0 1-.3 1-.3 1-.2 1 .4 1-.3 1-.3 1 .5 1 .7 1-.6 1 0 1 0 1 0 1-.4 1 .5 1 .1 1-.1 1 0 1-.1 1 .2 1-.5 1-.3 1 .4 1 .2 1 .2 1-.4 1 .2 1 0 1 .2 1-.3 1 .3 1 0 1-.3 1 0 1 0 1-.1 1 0 1-.1 1 .5 1-.1 1-.2 1 .1 1 0 1 .4 1-.2 1-.3 1 .3 1-.7 1 .3 1 0 1 .3 1-.3 1 0 1 0 1-.2 1 0 1 .1 1 .4 1 0" stroke="#1063a6" stroke-width="2.1" stroke-dasharray="5 2.8"/>
<path d="M404.7 241.5l1 3.1 1 3 1 2.7 1 2.8 1 2.9 1 2.6 1 2.5 1 2.2 1 2.1 1 2.3 1 1.9 1 1.9 1 2 1 1.9 1 1.2 1 1.2 1 1.5 1 1.1 1 .8 1 1.5 1 1.2 1 .6 1 1.1 1 .8 1 .6 1 .8 1 .7 1 .6 1 .7 1 .7 1 .3 1 .4 1 1 1 .1 1 1.4 1-.2 1 1.1 1 0 1 .4 1 .7 1 .2 1 .3 1 .3 1 .3 1 .3 1 .9 1-.5 1 1.5 1 .2 1-.1 1 1 1 .4 1 .1 1-.7 1 .4 1 1.1 1-.3 1 .8 1 0 1 .4 1 0 1 .3 1-.3 1 .7 1-.1 1 .8 1-.3 1 .5 1 .2 1-.1 1 0 1 .5 1 0 1 .5 1-.4 1 .1 1 .7 1 0 1 .4 1 .2 1-.8 1 .7 1 .1 1 .1 1 .4 1 .4 1-.5 1 .1 1 .3 1 .1 1-.1 1 .4 1 .2 1-.5 1 .6 1-.5 1 .7 1-.6 1 .1 1-.1 1 .4 1 .1 1 .1 1 0 1 .1 1 0 1 .1 1 .2 1-.2 1 .3 1-.3 1 0 1 .7 1-.4 1 .3 1-.3 1-.1 1 .1 1 .2 1 .7 1-.5 1 .3 1-.1 1 .2 1-.4 1 .7 1-.2 1-.1 1 .4 1-.7 1 .3 1 .4 1 .3 1-.5 1 .7 1-.2 1-.5 1 .4 1 .2 1-.6 1 .8 1-.9 1 .9 1-.1 1 .2 1-.2 1-.2 1-.5 1 1 1-.3 1 0 1-.4 1-.4 1 .8 1-.4 1 .3 1 .1 1-.5 1 .5 1-.3 1 .1 1 .4 1-.7 1 .3 1 .1 1 .4 1-.3 1 .2 1-.5 1-.1 1 .4 1 .5 1-.3 1-.3 1 0 1 .6 1-.2 1-.6 1-.2 1 1.2 1-.5 1-.1 1 .1 1-.1 1 0 1 0 1-.5 1 .4 1 0 1 .5 1-.1 1-.4 1 .1 1 .1 1 .5 1-.2 1-.5 1 .6 1-.7 1 .6 1-.3 1-.4 1 .2 1 .1 1 .4 1 0 1-.9 1 .4 1 .5 1-.2 1 0 1 0 1 .1 1 .1 1-.5 1-.5 1 .8 1-.3 1-.3 1 .5 1-.3 1 .2 1-.6 1 .8 1-.2 1 .1 1-.3 1 0 1 .5 1-.1 1-.2 1-.3 1 .5 1-.3 1 .4 1-.5 1 .3 1 .1 1-.3 1 .3 1-.6 1 .8 1-.5 1 0 1 .1 1-.1 1-.1 1 .3 1-.2 1 .1 1 .1 1-.1 1-.2 1 .5 1 .3 1-.7 1 .4 1-.5 1 .2 1-.3 1 .2 1-.1 1 .2 1-.1 1 .8 1-.9 1 .4 1 .1 1-.8 1 0 1 .8 1-.6 1 .3 1-.7 1 .4 1 .3 1 .4 1 .2 1-.7 1 .6 1-.4 1-.1 1 0 1 0 1-.4 1 .4 1-.3 1 .5" stroke="#d35e28" stroke-width="2.1" stroke-dasharray="5 2.8"/>
<path d="M404.7 241.5l1 3.1 1 3 1 2.7 1 2.8 1 2.8 1 2.7 1 2.5 1 2.3 1 2.1 1 2 1 2.2 1 1.9 1 2 1 1.1 1 2.1 1 1.3 1 1.2 1 1.2 1 1.2 1 1.1 1 1.7 1 .6 1 .9 1 .9 1 1 1 .8 1 .5 1 .7 1 .5 1 .8 1 .6 1 .5 1 .7 1 1 1 .5 1 .4 1 .8 1 .2 1 .8 1 .2 1 .9 1 .2 1 .3 1 .2 1 .8 1 .4 1 0 1 .7 1 .3 1 .6 1-.1 1 .8 1 .9 1 .1 1 0 1 .8 1-.3 1 .7 1 .1 1 .1 1 .5 1 .8 1-.7 1 .2 1 1 1-.5 1 .4 1 .2 1 .1 1 .6 1-.3 1 .2 1 .5 1 .4 1 .5 1-.3 1 .5 1 .3 1 0 1 .2 1-.1 1-.2 1 .8 1-.4 1 .7 1-.3 1 .1 1 .4 1-.2 1 .5 1 .1 1 .1 1 .6 1-.1 1-.2 1 .4 1 0 1-.1 1-.2 1 .2 1 .9 1-.5 1 .2 1 .5 1-.7 1 .6 1-1 1 .5 1-.2 1 .7 1 .1 1-.2 1 .1 1 1.1 1-.7 1 .1 1-.3 1 .1 1 .3 1-.1 1 .1 1 0 1-.3 1 .6 1 0 1 .2 1 .1 1 .4 1-.6 1 .2 1 .4 1-.5 1 .5 1-.4 1 0 1-.1 1 .3 1 .7 1 0 1-.5 1 .1 1 .3 1-.6 1 .2 1 .1 1-.5 1 .4 1 .1 1 .1 1 .1 1-.6 1 .8 1-.2 1 .3 1 .1 1-.2 1 .6 1-1 1 .6 1 0 1 .5 1-.4 1 .2 1-.1 1 .6 1-.7 1-.1 1 .1 1 .3 1 .4 1-1.1 1 .3 1 .9 1-.6 1 0 1 .1 1-.1 1 0 1 .3 1-.2 1 .8 1-1.3 1 .9 1-.3 1 .7 1-.8 1 .5 1 .4 1-.3 1-.4 1 .2 1 .1 1 .4 1-.4 1 .1 1-.5 1 .4 1 .3 1-.4 1-.1 1 .1 1 .5 1-.2 1-.1 1-.3 1-.3 1 .9 1-.5 1 .4 1-.1 1-.3 1-.1 1 .6 1-.9 1-.1 1 1.2 1-.7 1 .3 1 .3 1 .3 1-1 1 .3 1 .3 1-.2 1-.3 1 .6 1-.8 1 .8 1-.3 1 0 1-.2 1 .1 1 .4 1-.2 1 .3 1-.2 1-.3 1 .1 1 .1 1-.2 1 .6 1-.8 1 .9 1-.7 1-.1 1 .3 1-.4 1 .9 1 0 1-.1 1 .1 1-.1 1-.9 1 .7 1-.4 1 .5 1-.4 1 0 1-.1 1 .4 1 .2 1-.7 1 .5 1 0 1-.2 1 0 1 .4 1 .1 1-.2 1 0 1 0 1-.4 1 .2 1 0 1-.3 1 .5 1 .3 1 .1 1-.7 1-.1 1-.1 1 .5 1-.2 1 .3 1-.6 1 .3 1-.2 1 .3" stroke="#edae26" stroke-width="2.1" stroke-dasharray="5 2.8"/>
<path d="M404.7 241.5l1 3.1 1 2.9 1 2.9 1 2.8 1 2.7 1 2.6 1 2.5 1 2.4 1 2.3 1 1.9 1 1.9 1 2.2 1 1.6 1 1.7 1 1.6 1 1.6 1 1 1 1.5 1 1.2 1 1 1 1.6 1 .2 1 1.3 1 1 1 .8 1 1.1 1-.3 1 1.2 1 .5 1 .5 1 .9 1 .9 1 .4 1 1.2 1-.4 1 1.1 1 .5 1 .5 1 .7 1 .2 1 .8 1 .2 1 .4 1 .3 1 .6 1 .8 1 0 1 .8 1 .1 1 .4 1 .8 1-.4 1 .7 1 .6 1 .3 1 .2 1 .6 1-.2 1 .5 1 .7 1-.6 1 .8 1 .2 1 .2 1 .3 1-.1 1 .5 1 .2 1 .3 1 .2 1 .8 1-.1 1 .6 1-.1 1 0 1 .4 1 .3 1-.4 1 0 1 .2 1 .9 1-.2 1 .2 1 .3 1 .4 1-.2 1 .1 1 .2 1 .5 1-.1 1 .3 1 .3 1-.3 1 0 1-.1 1 .3 1 0 1 .4 1-.4 1 .5 1-.1 1 .4 1-.4 1 .4 1 .2 1-.6 1 .6 1-.2 1 0 1-.1 1 .5 1-.2 1 .1 1 .4 1-1 1 1.1 1 .5 1-.6 1-.1 1 .1 1 .4 1 .5 1-1 1-.6 1 1.1 1-.1 1 0 1 0 1-.5 1 .7 1-.2 1 .3 1-.2 1-.1 1-.2 1 1 1-.4 1 .2 1 .4 1-.3 1 0 1-.8 1 1.1 1 0 1-.6 1-.1 1 .7 1-.2 1 .6 1-.8 1 .4 1 .3 1 0 1-.5 1 0 1 .3 1 .8 1-.8 1 .2 1 .4 1-.1 1 .4 1-.6 1 .1 1 .4 1-.2 1 .1 1-.3 1 .2 1 0 1 .1 1 0 1 .2 1 0 1 .5 1 .2 1-.6 1 .6 1-.3 1-.7 1 .7 1-.4 1 .7 1-.4 1 .6 1 0 1-.5 1-.2 1 .7 1-.6 1 .3 1 .3 1-.3 1 .2 1 .4 1-.5 1 .1 1-.3 1-.6 1 .8 1 0 1 .1 1-.1 1-.2 1 0 1 .2 1-.2 1-.2 1 .5 1-.1 1 .2 1-.3 1 .1 1-.2 1 .2 1 .3 1 .3 1-.6 1 .3 1-.4 1-.2 1 .3 1 .1 1 0 1-.2 1 .3 1 .3 1-.5 1 .3 1 .1 1 .1 1-.1 1 .1 1-.3 1-.3 1 0 1 .2 1-.1 1 0 1 .2 1 0 1-.1 1 .3 1 .4 1-.8 1 .1 1-.2 1 .7 1-.1 1-.6 1 .5 1-.5 1 .5 1-.1 1 0 1-.5 1 .6 1 0 1 .3 1-.3 1-.1 1-.2 1 .4 1 .1 1 0 1 0 1-.3 1-.3 1 .4 1 .4 1-.1 1-.5 1 .8 1-.2 1-.2 1-.5 1 .5 1 .1 1 .3 1-.7 1 0 1 .4 1 0 1-.1 1-.4 1 0 1 .3 1 0" stroke="#74a043" stroke-width="2.1" stroke-dasharray="5 2.8"/>
<path d="M404.7 235.9l1-1.5 1-.8 1 .2 1 1.1 1 1.9 1 2.2 1 2 1 2 1 1.8 1 1.9 1 1.9 1 2 1 1.5 1 1.8 1 1.5 1 1.7 1 1.3 1 1 1 1.3 1 .8 1 .9 1 1.5 1 .5 1 1.3 1 1.1 1-.3 1 1.3 1 .4 1 .9 1-.1 1 1.5 1 .3 1 1 1 .7 1 .9 1 .4 1 .8 1 .5 1 .3 1 1 1 .6 1 .7 1 .7 1 .6 1 .8 1 .7 1-.4 1 .8 1 .5 1 .2 1 .7 1-.4 1 1.2 1 .1 1-.1 1 .8 1 1 1-.3 1 1 1 .3 1-.3 1 .1 1 .5 1 .5 1 .3 1-.2 1-.1 1 .9 1-.8 1 .6 1 .3 1 .3 1-.1 1 .4 1 .4 1-.1 1 0 1 .6 1 .1 1-.2 1 .3 1 1 1-.4 1 .4 1-.1 1 .3 1 .2 1 .1 1 .5 1 .3 1 .1 1-.2 1 .1 1-.3 1 1 1-.3 1-.1 1 .1 1 .7 1-.2 1 .4 1-.1 1 .3 1-.1 1-.8 1 1.3 1-.7 1 .9 1-.3 1-.2 1 .2 1 0 1 .4 1 .1 1-.4 1-.1 1 1 1-.2 1-.4 1 .7 1 .1 1-.1 1 .1 1-.3 1-.6 1 1.1 1-.4 1 .9 1-.6 1 .3 1-.3 1-.2 1 .3 1 .9 1-.6 1-.6 1 1 1 .1 1-.6 1 .3 1 0 1-.2 1 .3 1-.4 1 .6 1 .2 1-.5 1 .4 1 .1 1 0 1 .3 1-.4 1-.2 1 .5 1-.1 1-.8 1 .7 1-.2 1 .1 1 .2 1 .5 1-.3 1-.3 1 0 1 .3 1 .1 1 .7 1-1.1 1 .1 1 .5 1-.4 1 .2 1-.5 1 0 1 .7 1-.5 1 .6 1-.4 1 .3 1 .2 1-.5 1 0 1 .6 1-.4 1 0 1 .3 1-.5 1 .3 1-.4 1 0 1 .6 1 .1 1-.3 1-.5 1 .4 1 .2 1-.1 1 .3 1-.6 1 .4 1-.2 1 0 1 0 1 .2 1-.5 1 .3 1 .2 1 .1 1 .1 1-.3 1 .3 1 .1 1-.5 1 .7 1-.2 1-.5 1 0 1-.1 1 .1 1 .2 1 0 1-.2 1 .2 1 .2 1-.1 1 0 1-.3 1 0 1 .6 1-.5 1-.3 1 .5 1 .3 1-1 1 1 1-.8 1 .5 1-.2 1-.2 1-.1 1 0 1-.1 1 .3 1 .4 1-.4 1 .6 1-.6 1-.1 1 .2 1 .5 1-.7 1 .2 1 .3 1-.5 1 .3 1-.2 1 0 1 0 1 0 1 .3 1-.7 1 .1 1 .2 1-.3 1 .2 1-.1 1 .3 1-.4 1 .4 1-.1 1 .5 1-.8 1 0 1 0 1 .1 1 .1 1 .4 1-.4 1 .2 1 0 1 .2 1-.6 1 .2 1 .2 1 .4 1-.6 1 0 1 .5" stroke="#1063a6" stroke-width="1.9" stroke-dasharray="1.4 1.4"/>
<path d="M404.7 235.9l1-1.8 1-.9 1 .1 1 1.2 1 1.9 1 2 1 2.4 1 1.8 1 1.8 1 2.1 1 1.8 1 1.6 1 2.3 1 1.7 1 1.4 1 1.7 1 1 1 1.2 1 1.8 1 .8 1 1.1 1 1.1 1 .1 1 1.8 1 0 1 .8 1 1.2 1 .6 1 1.3 1 .1 1 1.1 1 .5 1 .5 1 .9 1 .7 1 .9 1 .6 1 1.1 1 .3 1 .9 1 1 1 .3 1 1.3 1-.2 1 .6 1 .7 1 .6 1 .4 1 .2 1 .4 1 .4 1 .5 1 0 1 .4 1 .4 1 1.2 1 0 1 .6 1-.1 1 .5 1 0 1 0 1 .8 1 .3 1 .2 1 .1 1 .8 1 .4 1 .1 1 .5 1-.3 1 .6 1 .1 1 .1 1 .4 1 0 1 .5 1 .3 1-.2 1 1.2 1 .1 1 .3 1 .5 1 0 1 .2 1 .6 1-.4 1 .1 1 .9 1-.1 1 .6 1 .1 1-.2 1 .4 1-.1 1 .5 1 .1 1 .4 1 .5 1-.3 1-.1 1 .3 1 .1 1 0 1 .4 1-.3 1 .2 1 .5 1 .3 1 .1 1-.1 1 .5 1-.1 1 .5 1-.2 1 0 1-.3 1 .9 1 0 1 .2 1-.4 1-.1 1 .8 1-.3 1-.6 1 1 1-.4 1 .8 1 0 1-.8 1 .8 1 0 1 .2 1-.4 1 0 1 .7 1-.7 1 .6 1 .2 1 .1 1 0 1 .6 1-.3 1-.3 1 0 1-.1 1 .3 1 .6 1-.3 1-.2 1-.3 1-.3 1 .7 1-.1 1 .3 1-.4 1 .6 1-.2 1-.1 1 .3 1-.2 1 .2 1-.2 1 .4 1-.6 1 .5 1 .2 1 .1 1 0 1 .2 1-.3 1 .7 1-.8 1-.5 1 0 1 .1 1 .6 1-.5 1 .1 1 .7 1-.7 1 .5 1 .3 1 .1 1-.3 1-.4 1 .1 1 .7 1 .1 1-.6 1 .4 1 0 1-.3 1 .4 1-.6 1 .5 1 0 1-.2 1-.1 1 .6 1-.7 1 0 1-.2 1 .4 1 0 1-.2 1 .6 1-.3 1 .2 1-.6 1 .3 1 .6 1-.1 1-.2 1 .2 1-.1 1-.1 1 0 1 0 1-.2 1 .6 1 .2 1-.6 1-.1 1 .7 1-.5 1 0 1 0 1-.1 1-.1 1 .3 1-.7 1 .8 1 .1 1-.5 1 0 1 .7 1-.6 1-.1 1 .4 1-.6 1-.3 1 .6 1-.1 1-.1 1 0 1 .1 1 .1 1-.6 1 .9 1-.3 1 0 1 0 1 .3 1-.1 1 .6 1-1.3 1 .9 1 0 1-1.2 1 1.1 1-.2 1 0 1 0 1 .1 1-.2 1-.1 1 .5 1-.3 1 .3 1 .5 1-1.2 1 .2 1 0 1 .2 1 .5 1-.3 1 .2 1 .2 1-1.1 1 .4 1-.1 1 .4 1-.5 1 .8 1-.6 1-.1 1-.1" stroke="#d35e28" stroke-width="1.9" stroke-dasharray="1.4 1.4"/>
<path d="M404.7 235.9l1-1.8 1-.9 1 .1 1 1.1 1 1.9 1 2.2 1 2.2 1 1.9 1 1.7 1 2.2 1 1.7 1 2 1 2.1 1 1.4 1 1.7 1 1.2 1 1.3 1 1.5 1 .9 1 1.6 1 1 1 .7 1 .7 1 1 1 .8 1 1.2 1-.1 1 1.3 1 .8 1 .9 1 .8 1 .4 1 1.1 1 .2 1 1.5 1 .5 1 .6 1 1.1 1 .2 1 .4 1 1.4 1 .5 1 .6 1 .5 1 .9 1 .7 1 0 1 .3 1 1.2 1-.1 1 1.2 1 .5 1-.2 1 1.3 1-.4 1 .5 1 .4 1 .5 1 .5 1 .2 1 .1 1 .5 1-.1 1 .5 1 .7 1 .3 1 .1 1 .5 1 0 1 .5 1 .4 1 .5 1 .3 1-.3 1 .5 1-.1 1 1.4 1-.9 1 .9 1-.1 1 .8 1 .4 1 .4 1 0 1 .7 1-.1 1 .3 1 .3 1 .3 1 1 1 .1 1 .2 1-.6 1 .8 1 .5 1-.5 1 1 1-.5 1 .5 1 .3 1 .1 1 .2 1 .3 1 .4 1 .2 1 .2 1-.2 1-.5 1 .4 1 .3 1 .5 1 .3 1-.3 1 .1 1 .4 1 .1 1 .3 1 .2 1-.2 1-.5 1 .7 1-.6 1 .9 1 1 1-.3 1-.1 1 .6 1-.8 1 .5 1 .1 1-.2 1 .1 1 .5 1-.1 1-.1 1 .2 1 .3 1-.2 1 0 1 .4 1-.1 1 .1 1-.3 1 .4 1 0 1-.3 1 1 1-.4 1 .1 1 .2 1 .2 1 0 1-.5 1 .4 1-.2 1 .1 1 .3 1 .3 1-.7 1 .6 1 0 1-.4 1 1.2 1-.8 1 .4 1-.3 1 .1 1 .2 1-.2 1 .1 1 .4 1 0 1 .4 1-.6 1-.6 1 .1 1 .7 1-.5 1-.1 1 .8 1-.8 1 .1 1 .5 1 .4 1-.1 1-.6 1 .6 1-.5 1 .4 1-1 1 .5 1 .5 1-.1 1 .2 1-1.3 1 1.6 1-.2 1 .4 1-.8 1 .5 1-.1 1-.2 1 .2 1-.1 1 .1 1-.2 1 .1 1-.3 1 .1 1 .2 1 .1 1 0 1 .2 1-.5 1 0 1-.3 1 .9 1 .2 1-.4 1 .1 1-.5 1 .3 1 .4 1-.3 1-.5 1 .5 1-.1 1 .3 1 .2 1-.5 1 .2 1 .1 1-.5 1 .2 1-.4 1 .5 1 .2 1-.1 1 0 1-.3 1-.1 1 .7 1-.2 1-.3 1 .3 1-.4 1-.1 1 .4 1-.1 1 .1 1 .7 1-.6 1-.1 1 .6 1-.9 1 .2 1-.1 1 .1 1 .8 1-1.3 1 1 1-.8 1-.1 1 .4 1 .1 1-.1 1-.3 1 .6 1-.6 1 .6 1 .7 1-1.3 1 .5 1-.1 1-.5 1 .5 1 .3 1 0 1-.1 1-.4 1 .2 1-.3 1 .7 1-.6 1-.1 1 .1 1 .7 1-1" stroke="#edae26" stroke-width="1.9" stroke-dasharray="1.4 1.4"/>
<path d="M404.7 235.9l1-1.7 1-1 1 .1 1 1.1 1 1.9 1 2.2 1 2.1 1 2 1 1.8 1 2 1 2 1 2.1 1 1.7 1 1.8 1 1.7 1 1.5 1 1 1 1.1 1 1 1 1.2 1 .6 1 1.1 1 1.5 1 1.3 1 .6 1 .2 1 1.4 1 .5 1 .5 1 1.3 1 .6 1 .7 1 .7 1 .9 1 .4 1 .7 1 .7 1 1.2 1 .6 1 .9 1 .3 1 .7 1 .7 1 .6 1 .5 1 1.1 1 .1 1-.3 1 1.1 1 .7 1 .5 1 .4 1 .4 1 .9 1-.3 1 .9 1 .4 1 .4 1 .8 1-.6 1 .4 1 .7 1 .4 1 .3 1 0 1 .4 1 .9 1 0 1 .3 1 .3 1 .6 1-.3 1 .5 1-.3 1 .7 1 .5 1 .4 1-.1 1 .2 1 .5 1-.1 1 .7 1 .6 1 .6 1 .6 1 0 1 0 1 .7 1 .1 1 .8 1 .3 1-.6 1 .7 1 1 1 0 1-.3 1-.6 1 1.3 1 .1 1 0 1 .5 1 0 1 .3 1-.1 1 .2 1 .3 1 0 1-.1 1 .1 1 .6 1-.1 1 .1 1 .2 1 .6 1-.7 1 0 1 1 1 0 1 .6 1-.4 1-.2 1 .6 1 .2 1 .1 1 .1 1 .7 1-.7 1 .4 1-.1 1-.4 1 .3 1 .2 1 .2 1-.1 1 .8 1-.3 1-.2 1 .1 1 .3 1-.1 1-.1 1 0 1 .4 1 .6 1-1.3 1 .8 1 .1 1-.2 1 1 1-.6 1-.5 1 .6 1-.4 1 .7 1-.2 1 .4 1-.7 1 .5 1 .4 1-.5 1-.2 1 .2 1 .2 1-.1 1 .2 1 .3 1-.6 1-.2 1 .2 1-.1 1 .2 1 .2 1-.4 1 .6 1-.1 1-.4 1 .4 1-.4 1 .7 1-.2 1 .2 1 .3 1-.2 1-.2 1 .1 1-.2 1 .2 1 .5 1-.7 1 .2 1 .1 1 .1 1 .1 1-.5 1 .2 1 .1 1 .1 1 .1 1 0 1-.1 1-.3 1 0 1 0 1 .6 1 .2 1-.7 1-.1 1 .3 1 .2 1-.2 1 .1 1 .3 1-.1 1-.2 1-.3 1 .4 1 .3 1-.8 1 1 1-.4 1 .4 1-.6 1 0 1-.2 1 .5 1 0 1-.1 1 .1 1 .1 1-.3 1 .5 1-.7 1 .3 1 .3 1-.2 1 .1 1-.5 1 .4 1 .1 1-.4 1 .6 1-.5 1 .1 1-.1 1 .4 1-.3 1 .5 1 0 1-.3 1 .3 1 .3 1-1 1 0 1 1.1 1-.8 1 1.1 1-.6 1-.9 1 1 1-.3 1 0 1 .3 1-.5 1 .1 1 .2 1-.6 1 .5 1 .1 1 0 1 0 1 0 1-.6 1 .3 1-.3 1 .7 1 .2 1-.3 1-.6 1 .5 1 .3 1 0 1 0 1 .1 1-.6 1 .4 1 0 1-.4 1 .2" stroke="#74a043" stroke-width="1.9" stroke-dasharray="1.4 1.4"/>
</g>
<path d="M102.1 7.4v2.8M102.1 113.4v-2.8" stroke="#5c5c5c" stroke-width="1.1"/>
<path d="M150.1 7.4v2.8M150.1 113.4v-2.8" stroke="#5c5c5c" stroke-width="1.1"/>
<path d="M198.2 7.4v2.8M198.2 113.4v-2.8" stroke="#5c5c5c" stroke-width="1.1"/>
<path d="M246.3 7.4v2.8M246.3 113.4v-2.8" stroke="#5c5c5c" stroke-width="1.1"/>
<path d="M294.3 7.4v2.8M294.3 113.4v-2.8" stroke="#5c5c5c" stroke-width="1.1"/>
<path d="M54.0 109.9h2.8M342.4 109.9h-2.8" stroke="#5c5c5c" stroke-width="1.1"/>
<path d="M54.0 84.3h2.8M342.4 84.3h-2.8" stroke="#5c5c5c" stroke-width="1.1"/>
<path d="M54.0 58.6h2.8M342.4 58.6h-2.8" stroke="#5c5c5c" stroke-width="1.1"/>
<path d="M54.0 33.0h2.8M342.4 33.0h-2.8" stroke="#5c5c5c" stroke-width="1.1"/>
<path d="M102.1 113.4v2.8M102.1 221.3v-2.8" stroke="#5c5c5c" stroke-width="1.1"/>
<path d="M150.1 113.4v2.8M150.1 221.3v-2.8" stroke="#5c5c5c" stroke-width="1.1"/>
<path d="M198.2 113.4v2.8M198.2 221.3v-2.8" stroke="#5c5c5c" stroke-width="1.1"/>
<path d="M246.3 113.4v2.8M246.3 221.3v-2.8" stroke="#5c5c5c" stroke-width="1.1"/>
<path d="M294.3 113.4v2.8M294.3 221.3v-2.8" stroke="#5c5c5c" stroke-width="1.1"/>
<path d="M54.0 125.4h2.8M342.4 125.4h-2.8" stroke="#5c5c5c" stroke-width="1.1"/>
<path d="M54.0 149.4h2.8M342.4 149.4h-2.8" stroke="#5c5c5c" stroke-width="1.1"/>
<path d="M54.0 173.3h2.8M342.4 173.3h-2.8" stroke="#5c5c5c" stroke-width="1.1"/>
<path d="M54.0 197.3h2.8M342.4 197.3h-2.8" stroke="#5c5c5c" stroke-width="1.1"/>
<path d="M102.1 221.3v2.8M102.1 328.8v-2.8" stroke="#5c5c5c" stroke-width="1.1"/>
<path d="M150.1 221.3v2.8M150.1 328.8v-2.8" stroke="#5c5c5c" stroke-width="1.1"/>
<path d="M198.2 221.3v2.8M198.2 328.8v-2.8" stroke="#5c5c5c" stroke-width="1.1"/>
<path d="M246.3 221.3v2.8M246.3 328.8v-2.8" stroke="#5c5c5c" stroke-width="1.1"/>
<path d="M294.3 221.3v2.8M294.3 328.8v-2.8" stroke="#5c5c5c" stroke-width="1.1"/>
<path d="M54.0 305.3h2.8M342.4 305.3h-2.8" stroke="#5c5c5c" stroke-width="1.1"/>
<path d="M54.0 281.8h2.8M342.4 281.8h-2.8" stroke="#5c5c5c" stroke-width="1.1"/>
<path d="M54.0 258.3h2.8M342.4 258.3h-2.8" stroke="#5c5c5c" stroke-width="1.1"/>
<path d="M54.0 234.8h2.8M342.4 234.8h-2.8" stroke="#5c5c5c" stroke-width="1.1"/>
<path d="M54.0 7.4H342.4V328.8H54.0ZM54.0 113.4H342.4M54.0 221.3H342.4" fill="none" stroke="#5c5c5c" stroke-width="1.3"/>
<path d="M452.8 7.5v2.8M452.8 114.3v-2.8" stroke="#5c5c5c" stroke-width="1.1"/>
<path d="M501.0 7.5v2.8M501.0 114.3v-2.8" stroke="#5c5c5c" stroke-width="1.1"/>
<path d="M549.1 7.5v2.8M549.1 114.3v-2.8" stroke="#5c5c5c" stroke-width="1.1"/>
<path d="M597.2 7.5v2.8M597.2 114.3v-2.8" stroke="#5c5c5c" stroke-width="1.1"/>
<path d="M645.4 7.5v2.8M645.4 114.3v-2.8" stroke="#5c5c5c" stroke-width="1.1"/>
<path d="M404.7 110.0h2.8M693.5 110.0h-2.8" stroke="#5c5c5c" stroke-width="1.1"/>
<path d="M404.7 84.4h2.8M693.5 84.4h-2.8" stroke="#5c5c5c" stroke-width="1.1"/>
<path d="M404.7 58.7h2.8M693.5 58.7h-2.8" stroke="#5c5c5c" stroke-width="1.1"/>
<path d="M404.7 33.1h2.8M693.5 33.1h-2.8" stroke="#5c5c5c" stroke-width="1.1"/>
<path d="M452.8 114.3v2.8M452.8 221.9v-2.8" stroke="#5c5c5c" stroke-width="1.1"/>
<path d="M501.0 114.3v2.8M501.0 221.9v-2.8" stroke="#5c5c5c" stroke-width="1.1"/>
<path d="M549.1 114.3v2.8M549.1 221.9v-2.8" stroke="#5c5c5c" stroke-width="1.1"/>
<path d="M597.2 114.3v2.8M597.2 221.9v-2.8" stroke="#5c5c5c" stroke-width="1.1"/>
<path d="M645.4 114.3v2.8M645.4 221.9v-2.8" stroke="#5c5c5c" stroke-width="1.1"/>
<path d="M404.7 126.3h2.8M693.5 126.3h-2.8" stroke="#5c5c5c" stroke-width="1.1"/>
<path d="M404.7 150.2h2.8M693.5 150.2h-2.8" stroke="#5c5c5c" stroke-width="1.1"/>
<path d="M404.7 174.1h2.8M693.5 174.1h-2.8" stroke="#5c5c5c" stroke-width="1.1"/>
<path d="M404.7 198.0h2.8M693.5 198.0h-2.8" stroke="#5c5c5c" stroke-width="1.1"/>
<path d="M452.8 221.9v2.8M452.8 329.8v-2.8" stroke="#5c5c5c" stroke-width="1.1"/>
<path d="M501.0 221.9v2.8M501.0 329.8v-2.8" stroke="#5c5c5c" stroke-width="1.1"/>
<path d="M549.1 221.9v2.8M549.1 329.8v-2.8" stroke="#5c5c5c" stroke-width="1.1"/>
<path d="M597.2 221.9v2.8M597.2 329.8v-2.8" stroke="#5c5c5c" stroke-width="1.1"/>
<path d="M645.4 221.9v2.8M645.4 329.8v-2.8" stroke="#5c5c5c" stroke-width="1.1"/>
<path d="M404.7 306.3h2.8M693.5 306.3h-2.8" stroke="#5c5c5c" stroke-width="1.1"/>
<path d="M404.7 282.9h2.8M693.5 282.9h-2.8" stroke="#5c5c5c" stroke-width="1.1"/>
<path d="M404.7 259.4h2.8M693.5 259.4h-2.8" stroke="#5c5c5c" stroke-width="1.1"/>
<path d="M404.7 235.9h2.8M693.5 235.9h-2.8" stroke="#5c5c5c" stroke-width="1.1"/>
<path d="M404.7 7.5H693.5V329.8H404.7ZM404.7 114.3H693.5M404.7 221.9H693.5" fill="none" stroke="#5c5c5c" stroke-width="1.3"/>
<g font-family="Liberation Serif, serif" fill="#505050">
<text x="48.7" y="116.3" font-size="16.0" text-anchor="end" >0</text>
<text x="48.7" y="90.7" font-size="16.0" text-anchor="end" >250</text>
<text x="48.7" y="65.0" font-size="16.0" text-anchor="end" >500</text>
<text x="48.7" y="39.4" font-size="16.0" text-anchor="end" >750</text>
<text x="48.7" y="13.7" font-size="16.0" text-anchor="end" >1000</text>
<text x="48.7" y="131.8" font-size="16.0" text-anchor="end" >0</text>
<text x="48.7" y="155.8" font-size="16.0" text-anchor="end" >-1</text>
<text x="48.7" y="179.7" font-size="16.0" text-anchor="end" >-2</text>
<text x="48.7" y="203.7" font-size="16.0" text-anchor="end" >-3</text>
<text x="48.7" y="335.2" font-size="16.0" text-anchor="end" >3.5</text>
<text x="48.7" y="311.7" font-size="16.0" text-anchor="end" >4</text>
<text x="48.7" y="288.2" font-size="16.0" text-anchor="end" >4.5</text>
<text x="48.7" y="264.7" font-size="16.0" text-anchor="end" >5</text>
<text x="48.7" y="241.2" font-size="16.0" text-anchor="end" >5.5</text>
<text x="54.0" y="350.7" font-size="16.0" text-anchor="middle" >0</text>
<text x="102.1" y="350.7" font-size="16.0" text-anchor="middle" >1.5</text>
<text x="150.1" y="350.7" font-size="16.0" text-anchor="middle" >3</text>
<text x="198.2" y="350.7" font-size="16.0" text-anchor="middle" >4.5</text>
<text x="246.3" y="350.7" font-size="16.0" text-anchor="middle" >6</text>
<text x="294.3" y="350.7" font-size="16.0" text-anchor="middle" >7.5</text>
<text x="342.4" y="350.7" font-size="16.0" text-anchor="middle" >9</text>
<text x="131.4" y="364.8" font-size="16.3" textLength="131" lengthAdjust="spacing">Axial strain <tspan font-style="italic">ε</tspan><tspan font-size="11" dy="3">1</tspan><tspan dy="-3"> (%)</tspan></text>
<text x="144.0" y="383.9" font-size="16.3" textLength="83.7" lengthAdjust="spacing">(a) <tspan font-style="italic">μ</tspan><tspan font-size="11" dy="3" font-style="italic">S</tspan><tspan dy="-3"> = 0.3</tspan></text>
<text transform="translate(13.5 60.8) rotate(-90)" font-size="16.5" text-anchor="middle" textLength="94" lengthAdjust="spacing"><tspan font-style="italic">σ</tspan><tspan font-size="11" dy="2.5">1</tspan><tspan dy="-2.5"> − </tspan><tspan font-style="italic">σ</tspan><tspan font-size="11" dy="2.5">3</tspan><tspan dy="-2.5"> (kPa)</tspan></text>
<text transform="translate(23.5 167.2) rotate(-90)" font-size="16.5" text-anchor="middle" textLength="43" lengthAdjust="spacing"><tspan font-style="italic">ε</tspan><tspan font-size="11" dy="2.5" font-style="italic">v</tspan><tspan dy="-2.5"> (%)</tspan></text>
<text transform="translate(21.6 276.3) rotate(-90)" font-size="16" text-anchor="middle" textLength="23" lengthAdjust="spacing">CN</text>
<text x="399.4" y="116.4" font-size="16.0" text-anchor="end" >0</text>
<text x="399.4" y="90.8" font-size="16.0" text-anchor="end" >250</text>
<text x="399.4" y="65.1" font-size="16.0" text-anchor="end" >500</text>
<text x="399.4" y="39.5" font-size="16.0" text-anchor="end" >750</text>
<text x="399.4" y="13.9" font-size="16.0" text-anchor="end" >1000</text>
<text x="399.4" y="132.7" font-size="16.0" text-anchor="end" >0</text>
<text x="399.4" y="156.6" font-size="16.0" text-anchor="end" >-1</text>
<text x="399.4" y="180.5" font-size="16.0" text-anchor="end" >-2</text>
<text x="399.4" y="204.4" font-size="16.0" text-anchor="end" >-3</text>
<text x="399.4" y="336.2" font-size="16.0" text-anchor="end" >3.5</text>
<text x="399.4" y="312.7" font-size="16.0" text-anchor="end" >4</text>
<text x="399.4" y="289.2" font-size="16.0" text-anchor="end" >4.5</text>
<text x="399.4" y="265.8" font-size="16.0" text-anchor="end" >5</text>
<text x="399.4" y="242.3" font-size="16.0" text-anchor="end" >5.5</text>
<text x="404.7" y="351.5" font-size="16.0" text-anchor="middle" >0</text>
<text x="452.8" y="351.5" font-size="16.0" text-anchor="middle" >1.5</text>
<text x="501.0" y="351.5" font-size="16.0" text-anchor="middle" >3</text>
<text x="549.1" y="351.5" font-size="16.0" text-anchor="middle" >4.5</text>
<text x="597.2" y="351.5" font-size="16.0" text-anchor="middle" >6</text>
<text x="645.4" y="351.5" font-size="16.0" text-anchor="middle" >7.5</text>
<text x="693.5" y="351.5" font-size="16.0" text-anchor="middle" >9</text>
<text x="482.7" y="364.8" font-size="16.3" textLength="131" lengthAdjust="spacing">Axial strain <tspan font-style="italic">ε</tspan><tspan font-size="11" dy="3">1</tspan><tspan dy="-3"> (%)</tspan></text>
<text x="494.0" y="383.9" font-size="16.3" textLength="84.7" lengthAdjust="spacing">(b) <tspan font-style="italic">μ</tspan><tspan font-size="11" dy="3" font-style="italic">S</tspan><tspan dy="-3"> = 0.5</tspan></text>
<text transform="translate(364.2 60.8) rotate(-90)" font-size="16.5" text-anchor="middle" textLength="94" lengthAdjust="spacing"><tspan font-style="italic">σ</tspan><tspan font-size="11" dy="2.5">1</tspan><tspan dy="-2.5"> − </tspan><tspan font-style="italic">σ</tspan><tspan font-size="11" dy="2.5">3</tspan><tspan dy="-2.5"> (kPa)</tspan></text>
<text transform="translate(374.2 167.2) rotate(-90)" font-size="16.5" text-anchor="middle" textLength="43" lengthAdjust="spacing"><tspan font-style="italic">ε</tspan><tspan font-size="11" dy="2.5" font-style="italic">v</tspan><tspan dy="-2.5"> (%)</tspan></text>
<text transform="translate(372.3 276.3) rotate(-90)" font-size="16" text-anchor="middle" textLength="23" lengthAdjust="spacing">CN</text>
</g>
<rect x="55.5" y="143.3" width="77.5" height="75.7" fill="#fff" stroke="#444" stroke-width="1.2"/>
<line x1="59.2" y1="154.2" x2="84.5" y2="154.2" stroke="#1063a6" stroke-width="1.6"/>
<text x="87.6" y="159.8" font-family="Liberation Serif, serif" font-size="15.5" fill="#505050" textLength="41.5" lengthAdjust="spacing"><tspan font-style="italic">β</tspan> = 0.3</text>
<line x1="59.2" y1="172.3" x2="84.5" y2="172.3" stroke="#d35e28" stroke-width="1.6"/>
<text x="87.6" y="177.9" font-family="Liberation Serif, serif" font-size="15.5" fill="#505050" textLength="41.5" lengthAdjust="spacing"><tspan font-style="italic">β</tspan> = 0.5</text>
<line x1="59.2" y1="190.3" x2="84.5" y2="190.3" stroke="#edae26" stroke-width="1.6"/>
<text x="87.6" y="195.9" font-family="Liberation Serif, serif" font-size="15.5" fill="#505050" textLength="41.5" lengthAdjust="spacing"><tspan font-style="italic">β</tspan> = 0.7</text>
<line x1="59.2" y1="208.4" x2="84.5" y2="208.4" stroke="#74a043" stroke-width="1.6"/>
<text x="87.6" y="214.0" font-family="Liberation Serif, serif" font-size="15.5" fill="#505050" textLength="41.5" lengthAdjust="spacing"><tspan font-style="italic">β</tspan> = 1.0</text>
</svg></body></html>
